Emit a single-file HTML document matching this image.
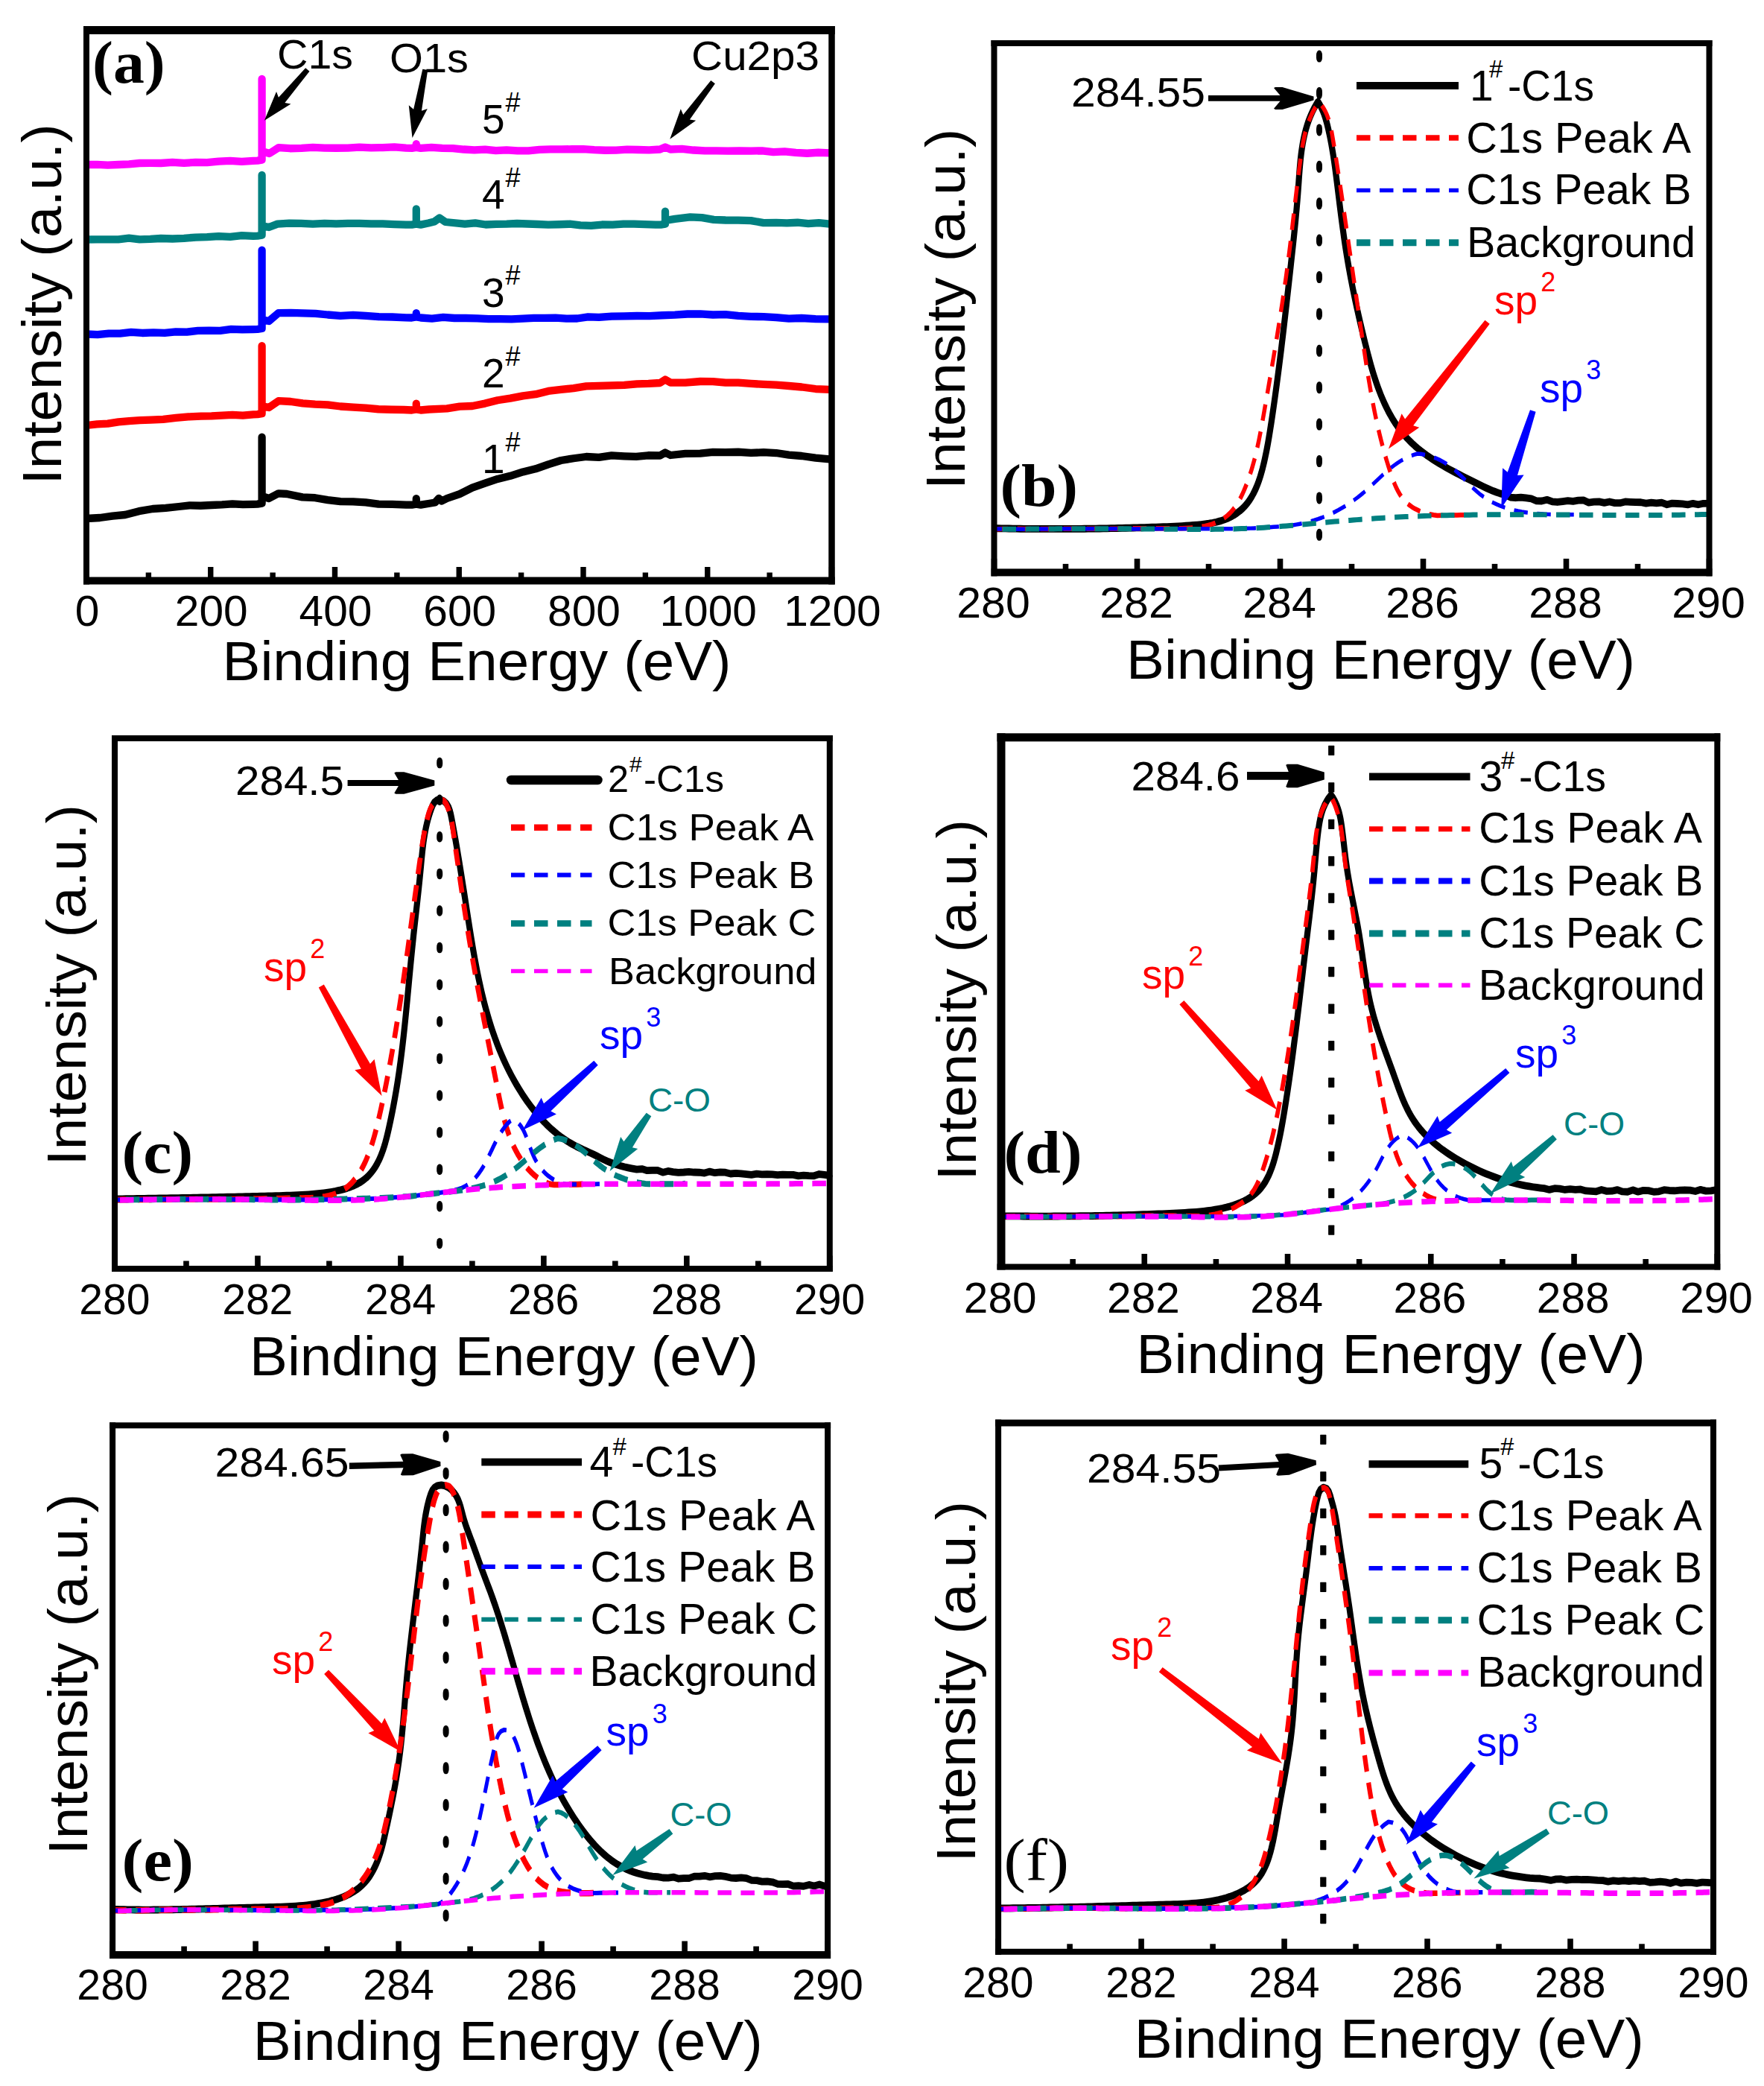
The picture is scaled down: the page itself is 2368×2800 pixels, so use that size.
<!DOCTYPE html>
<html lang="en"><head><meta charset="utf-8"><title>XPS spectra</title>
<style>html,body{margin:0;padding:0;background:#fff}svg{display:block}</style></head>
<body>
<svg width="2368" height="2800" viewBox="0 0 2368 2800">
<rect width="2368" height="2800" fill="#fff"/>
<path d="M116 696L134 695L151 692.58L168 691L186.5 686.16L205 683L222.5 681.86L240 680L254.67 678.31L269.33 678.75L284 678L298 677.38L312 676.34L326 677.12L340 676.8L345.6 676.6L351.6 675.6L351.6 586.7L351.6 666L361 669L373.8 662.3L385 663L406 667.4L423 668.22L440 671.11L457 673.2L474 673.3L491 674.48L508 676.6L526.5 676.92L545 677.6L552.8 677.6L558.8 676.6L558.8 669.2L558.8 676.6L564.8 677.6L575 676L584 674.5L589 669L593 672.5L600 669L617 663.02L634 654.56L651 648.7L668 642.94L685 638.81L702 633.4L719 629.34L736 623.32L753 618L770 615.25L787 613L804 613.91L821 611.45L838 612.3L854 612.89L870 611.26L886 611.5L893 607.5L900 611L920 608.95L940 608.6L957 606.98L974 607.2L991 606.74L1008 607.96L1025 607.2L1042 608.03L1059 610.6L1076 612L1094.8 614.53L1113.6 616.4" fill="none" stroke="#000000" stroke-width="10.3" stroke-linecap="butt" stroke-linejoin="round"/>
<path d="M116 571L130.33 569.48L144.67 568.68L159 566.3L173.33 565.08L187.67 564.21L202 563.7L219 562.86L236 560.98L253 559.43L270 558.6L284 558.37L298 557.61L312 556.8L326 557.55L340 556.4L345.6 556.2L351.6 555.2L351.6 464.2L351.6 545L361 547L373.8 538.2L390 539L406.5 541.28L423 542.6L440 543.35L457 545.51L474 546.7L491 547.59L508 549.25L525 549.73L542 550L552.8 550.5L558.8 549.5L558.8 541.7L558.8 549.5L564.8 550.5L576 549.5L600 548.4L617 545.62L634 545.02L651 541.6L668 537.28L685 534.6L702 531.4L719 529.18L736 524.9L753 522.9L770 521.17L787 518.39L804 517.8L821 517.4L838 516.83L855 515.4L870.5 514.88L886 514L893 509.5L900 513.5L920 513.65L940 512L957 512.12L974 513.6L991 513.7L1008 514.93L1025 515.89L1042 516.7L1059 517.99L1076 519.5L1094.8 522.02L1113.6 522.9" fill="none" stroke="#ff0000" stroke-width="10.3" stroke-linecap="butt" stroke-linejoin="round"/>
<path d="M116 448.5L131 449.17L146 447.64L161 447.69L176 445.85L191 446.98L206 446.45L221 446.88L236 445.3L250.86 445.62L265.71 443.87L280.57 443.65L295.43 443.88L310.29 441.87L325.14 442.47L340 442.1L345.6 441.9L351.6 440.9L351.6 335.7L351.6 429L361 431L373.8 420.1L390.35 419.9L406.9 420.38L423.45 420.84L440 422.5L457 423.82L474 422.96L491 423.92L508 425.2L526.5 425.49L545 426.3L552.8 426.5L558.8 425.5L558.8 420.2L558.8 425.5L564.8 426.5L579.87 427.56L594.93 425.83L610 427L625.33 426.98L640.67 427.32L656 428.22L671.33 428.17L686.67 428.37L702 427.6L716.57 426.83L731.14 426.91L745.71 426.53L760.29 427.55L774.86 427.48L789.43 425.31L804 425.9L821 424.7L838 424.41L855 423.99L872 424.2L889 423.26L906 422.61L923 421.5L940 421.43L957 422.5L974 422.11L991 423.91L1008 424.9L1025 425.11L1042 426.11L1059 427.56L1076 427L1094.8 428.11L1113.6 428.3" fill="none" stroke="#0000ff" stroke-width="10.3" stroke-linecap="butt" stroke-linejoin="round"/>
<path d="M116 321.5L130.29 321.32L144.57 321.35L158.86 321.28L173.14 319.57L187.43 321.39L201.71 320.89L216 320L231.5 320.5L247 319.91L262.5 318.54L278 318.16L293.5 317.05L309 317.92L324.5 316.15L340 316.8L345.6 316.6L351.6 315.6L351.6 235L351.6 303L361 305L372.5 300.6L388.33 299.56L404.17 299.9L420 300.6L435.62 299.91L451.25 300.47L466.88 299.9L482.5 299.9L498.12 300.39L513.75 300.39L529.38 301.15L545 301.6L552.8 301.6L558.8 300.6L558.8 280.4L558.8 300.6L564.8 301.6L575 299.5L583 297.5L590 292.5L598 298L624 300.6L638 299.46L652 301.5L666 300.87L680 300.6L694 300.01L708 300.51L722 300.98L736 301.6L750.4 301.27L764.8 300.69L779.2 302.44L793.6 302.78L808 301.52L822.4 301.56L836.8 300.61L851.2 300.65L865.6 301.22L880 301.6L887 301.6L893 300.6L893 283.7L893 296L906 293.8L926.5 291.4L942.33 292.2L958.17 294.92L974 295.5L991 295.54L1008 296.06L1025 299.13L1042 298.9L1056.32 299.31L1070.64 298.73L1084.96 300.02L1099.28 299.12L1113.6 300.6" fill="none" stroke="#008080" stroke-width="10.3" stroke-linecap="butt" stroke-linejoin="round"/>
<path d="M116 221L130.29 220.78L144.57 221.58L158.86 221.01L173.14 220.33L187.43 219L201.71 218.97L216 219L231.5 217.8L247 218.85L262.5 217.88L278 218.07L293.5 216.59L309 215.94L324.5 216.95L340 215.8L345.6 215.6L351.6 214.6L351.6 105.8L351.6 203L361.7 206L374 198.2L389.33 199.23L404.67 198.78L420 197.8L435.62 198.63L451.25 198.76L466.88 198.68L482.5 197.54L498.12 198.34L513.75 198.05L529.38 197.37L545 198.6L552.8 198.8L558.8 197.8L558.8 193.2L558.8 197.8L564.8 198.8L579.2 197.98L593.6 198.9L608 199.16L622.4 200.51L636.8 201.46L651.2 200.55L665.6 202.04L680 201.3L694.71 202.41L709.43 202.28L724.14 200.8L738.86 200.4L753.57 200.36L768.29 200.23L783 200.19L797.71 201.14L812.43 201.75L827.14 201.55L841.86 200.62L856.57 200.98L871.29 201.28L886 200.5L893 197.5L900 200.5L915.43 199.82L930.86 201.51L946.29 202.43L961.71 202.43L977.14 202.67L992.57 202.33L1008 202.7L1023.09 202.31L1038.17 204.17L1053.26 203.46L1068.34 204.96L1083.43 205.76L1098.51 204.76L1113.6 205.4" fill="none" stroke="#ff00ff" stroke-width="10.3" stroke-linecap="butt" stroke-linejoin="round"/>
<rect x="112" y="35" width="8" height="749.5" fill="#000"/>
<rect x="1112.25" y="35" width="8.5" height="749.5" fill="#000"/>
<rect x="112" y="35" width="1008.75" height="11" fill="#000"/>
<rect x="112" y="774.5" width="1008.75" height="10" fill="#000"/>
<rect x="112.3" y="761" width="7.4" height="14.5" fill="#000"/>
<rect x="195.68" y="768.5" width="7.4" height="7" fill="#000"/>
<rect x="279.05" y="761" width="7.4" height="14.5" fill="#000"/>
<rect x="362.43" y="768.5" width="7.4" height="7" fill="#000"/>
<rect x="445.8" y="761" width="7.4" height="14.5" fill="#000"/>
<rect x="529.17" y="768.5" width="7.4" height="7" fill="#000"/>
<rect x="612.55" y="761" width="7.4" height="14.5" fill="#000"/>
<rect x="695.92" y="768.5" width="7.4" height="7" fill="#000"/>
<rect x="779.3" y="761" width="7.4" height="14.5" fill="#000"/>
<rect x="862.67" y="768.5" width="7.4" height="7" fill="#000"/>
<rect x="946.05" y="761" width="7.4" height="14.5" fill="#000"/>
<rect x="1029.42" y="768.5" width="7.4" height="7" fill="#000"/>
<rect x="1112.8" y="761" width="7.4" height="14.5" fill="#000"/>
<text x="117" y="839.7" font-family="'Liberation Sans', Arial, Helvetica, sans-serif" font-size="57" font-weight="normal" fill="#000" text-anchor="middle" textLength="32.64" lengthAdjust="spacingAndGlyphs">0</text>
<text x="283.75" y="839.7" font-family="'Liberation Sans', Arial, Helvetica, sans-serif" font-size="57" font-weight="normal" fill="#000" text-anchor="middle" textLength="97.93" lengthAdjust="spacingAndGlyphs">200</text>
<text x="450.5" y="839.7" font-family="'Liberation Sans', Arial, Helvetica, sans-serif" font-size="57" font-weight="normal" fill="#000" text-anchor="middle" textLength="97.93" lengthAdjust="spacingAndGlyphs">400</text>
<text x="617.25" y="839.7" font-family="'Liberation Sans', Arial, Helvetica, sans-serif" font-size="57" font-weight="normal" fill="#000" text-anchor="middle" textLength="97.93" lengthAdjust="spacingAndGlyphs">600</text>
<text x="784" y="839.7" font-family="'Liberation Sans', Arial, Helvetica, sans-serif" font-size="57" font-weight="normal" fill="#000" text-anchor="middle" textLength="97.93" lengthAdjust="spacingAndGlyphs">800</text>
<text x="950.75" y="839.7" font-family="'Liberation Sans', Arial, Helvetica, sans-serif" font-size="57" font-weight="normal" fill="#000" text-anchor="middle" textLength="130.57" lengthAdjust="spacingAndGlyphs">1000</text>
<text x="1117.5" y="839.7" font-family="'Liberation Sans', Arial, Helvetica, sans-serif" font-size="57" font-weight="normal" fill="#000" text-anchor="middle" textLength="130.57" lengthAdjust="spacingAndGlyphs">1200</text>
<text x="298.5" y="913.2" font-family="'Liberation Sans', Arial, Helvetica, sans-serif" font-size="75" font-weight="normal" fill="#000" text-anchor="start" textLength="683" lengthAdjust="spacingAndGlyphs">Binding Energy (eV)</text>
<text x="82.2" y="650.6" font-family="'Liberation Sans', Arial, Helvetica, sans-serif" font-size="75" font-weight="normal" fill="#000" text-anchor="start" textLength="484.4" lengthAdjust="spacingAndGlyphs" transform="rotate(-90 82.2 650.6)">Intensity (a.u.)</text>
<text x="124" y="110.5" font-family="'Liberation Serif', 'Times New Roman', Times, serif" font-size="80" font-weight="bold" fill="#000" text-anchor="start" textLength="97.7" lengthAdjust="spacingAndGlyphs">(a)</text>
<text x="372" y="92" font-family="'Liberation Sans', Arial, Helvetica, sans-serif" font-size="55" font-weight="normal" fill="#000" text-anchor="start" textLength="102" lengthAdjust="spacingAndGlyphs">C1s</text>
<text x="523" y="96.5" font-family="'Liberation Sans', Arial, Helvetica, sans-serif" font-size="55" font-weight="normal" fill="#000" text-anchor="start" textLength="106" lengthAdjust="spacingAndGlyphs">O1s</text>
<text x="928" y="94" font-family="'Liberation Sans', Arial, Helvetica, sans-serif" font-size="55" font-weight="normal" fill="#000" text-anchor="start" textLength="172" lengthAdjust="spacingAndGlyphs">Cu2p3</text>
<polygon points="410.13,91.14 373.96,130.77 371.01,123.03 354.9,161.8 390.48,139.51 382.36,137.88 415.47,95.66" fill="#000000"/>
<polygon points="567.36,92.75 555.12,146.74 548.77,141.26 553.5,184.9 573.83,146 565.93,148.78 574.24,94.05" fill="#000000"/>
<polygon points="954.31,107.99 917.14,153.93 913.82,146.29 899.3,186.7 934.17,161.65 925.92,160.56 959.89,112.21" fill="#000000"/>
<text x="647" y="179.2" font-family="'Liberation Sans', Arial, Helvetica, sans-serif" font-size="55" font-weight="normal" fill="#000" text-anchor="start">5</text>
<text x="678.5" y="149.7" font-family="'Liberation Sans', Arial, Helvetica, sans-serif" font-size="36" font-weight="normal" fill="#000" text-anchor="start">#</text>
<text x="647" y="280.2" font-family="'Liberation Sans', Arial, Helvetica, sans-serif" font-size="55" font-weight="normal" fill="#000" text-anchor="start">4</text>
<text x="678.5" y="250.7" font-family="'Liberation Sans', Arial, Helvetica, sans-serif" font-size="36" font-weight="normal" fill="#000" text-anchor="start">#</text>
<text x="647" y="411.8" font-family="'Liberation Sans', Arial, Helvetica, sans-serif" font-size="55" font-weight="normal" fill="#000" text-anchor="start">3</text>
<text x="678.5" y="382.3" font-family="'Liberation Sans', Arial, Helvetica, sans-serif" font-size="36" font-weight="normal" fill="#000" text-anchor="start">#</text>
<text x="647" y="520" font-family="'Liberation Sans', Arial, Helvetica, sans-serif" font-size="55" font-weight="normal" fill="#000" text-anchor="start">2</text>
<text x="678.5" y="490.5" font-family="'Liberation Sans', Arial, Helvetica, sans-serif" font-size="36" font-weight="normal" fill="#000" text-anchor="start">#</text>
<text x="647" y="635" font-family="'Liberation Sans', Arial, Helvetica, sans-serif" font-size="55" font-weight="normal" fill="#000" text-anchor="start">1</text>
<text x="678.5" y="605.5" font-family="'Liberation Sans', Arial, Helvetica, sans-serif" font-size="36" font-weight="normal" fill="#000" text-anchor="start">#</text>
<g transform="scale(1,1.2)">
<path d="M1334.39 590.97L1339.47 591.06L1344.55 591.13L1349.63 591.21L1354.71 591.27L1359.78 591.34L1364.86 591.39L1369.93 591.44L1374.99 591.49L1380.06 591.52L1385.12 591.56L1390.19 591.59L1395.25 591.61L1400.3 591.62L1405.36 591.64L1410.41 591.64L1415.47 591.64L1420.52 591.64L1425.57 591.63L1430.61 591.61L1435.66 591.59L1440.71 591.56L1445.75 591.53L1450.79 591.49L1455.83 591.45L1460.87 591.4L1465.91 591.35L1470.95 591.29L1475.99 591.23L1481.02 591.16L1486.06 591.09L1491.09 591.01L1496.13 590.92L1501.16 590.84L1506.19 590.74L1511.23 590.64L1516.26 590.54L1521.29 590.43L1526.32 590.31L1531.35 590.19L1536.38 590.07L1541.41 589.94L1546.44 589.81L1551.47 589.67L1556.5 589.52L1561.53 589.37L1566.57 589.21L1571.62 589.03L1576.68 588.83L1581.75 588.62L1586.84 588.38L1591.94 588.11L1597.07 587.81L1602.22 587.48L1607.39 587.12L1612.57 586.69L1617.74 586.18L1622.87 585.56L1627.94 584.82L1632.94 583.92L1637.84 582.84L1642.62 581.57L1647.27 580.07L1651.76 578.33L1656.08 576.34L1660.2 574.1L1664.11 571.62L1667.78 568.92L1671.2 565.99L1674.36 562.86L1677.28 559.54L1679.96 556.04L1682.42 552.4L1684.68 548.61L1686.75 544.72L1688.65 540.72L1690.39 536.64L1691.99 532.5L1693.46 528.32L1694.83 524.11L1696.09 519.9L1697.27 515.69L1698.39 511.51L1699.44 507.35L1700.43 503.2L1701.37 499.07L1702.26 494.94L1703.12 490.83L1703.94 486.71L1704.74 482.6L1705.52 478.49L1706.28 474.38L1707.03 470.26L1707.77 466.14L1708.5 462.01L1709.23 457.87L1709.94 453.73L1710.65 449.59L1711.35 445.44L1712.04 441.29L1712.72 437.13L1713.4 432.97L1714.07 428.8L1714.73 424.63L1715.39 420.46L1716.04 416.29L1716.68 412.11L1717.32 407.93L1717.95 403.74L1718.58 399.56L1719.2 395.37L1719.82 391.18L1720.43 386.99L1721.03 382.8L1721.63 378.6L1722.23 374.41L1722.82 370.21L1723.41 366.02L1724 361.82L1724.58 357.62L1725.16 353.43L1725.73 349.23L1726.31 345.03L1726.88 340.84L1727.44 336.64L1728.01 332.45L1728.57 328.25L1729.14 324.06L1729.7 319.87L1730.26 315.68L1730.81 311.5L1731.37 307.31L1731.93 303.13L1732.48 298.95L1733.04 294.77L1733.59 290.6L1734.14 286.43L1734.69 282.25L1735.24 278.08L1735.78 273.91L1736.31 269.74L1736.84 265.56L1737.36 261.39L1737.87 257.21L1738.38 253.03L1738.87 248.85L1739.36 244.66L1739.83 240.47L1740.29 236.28L1740.74 232.08L1741.18 227.88L1741.6 223.67L1742.01 219.45L1742.4 215.23L1742.77 210.99L1743.13 206.76L1743.49 202.51L1743.84 198.27L1744.21 194.03L1744.6 189.79L1745.03 185.55L1745.5 181.33L1746.01 177.12L1746.59 172.92L1747.24 168.75L1747.98 164.59L1748.8 160.46L1749.72 156.35L1750.75 152.28L1751.9 148.23L1753.18 144.22L1754.59 140.25L1756.16 136.32L1757.88 132.43L1759.77 128.59L1761.84 124.8L1764.09 121.06L1766.54 117.38L1769.2 113.75L1771.83 117.3L1774.12 120.98L1776.13 124.75L1777.89 128.62L1779.43 132.56L1780.81 136.56L1782.05 140.6L1783.2 144.66L1784.28 148.74L1785.31 152.84L1786.28 156.95L1787.21 161.06L1788.09 165.19L1788.92 169.33L1789.72 173.47L1790.48 177.63L1791.22 181.79L1791.92 185.96L1792.6 190.14L1793.26 194.32L1793.91 198.5L1794.54 202.69L1795.17 206.88L1795.79 211.07L1796.4 215.27L1797.02 219.46L1797.64 223.66L1798.26 227.85L1798.89 232.05L1799.52 236.24L1800.16 240.43L1800.81 244.61L1801.46 248.8L1802.13 252.97L1802.81 257.15L1803.5 261.31L1804.21 265.48L1804.93 269.63L1805.67 273.78L1806.43 277.91L1807.21 282.04L1808 286.16L1808.82 290.28L1809.66 294.38L1810.52 298.48L1811.4 302.57L1812.3 306.65L1813.22 310.73L1814.15 314.81L1815.11 318.88L1816.08 322.95L1817.07 327.02L1818.08 331.08L1819.11 335.15L1820.15 339.22L1821.22 343.28L1822.29 347.35L1823.39 351.42L1824.5 355.5L1825.62 359.58L1826.76 363.66L1827.92 367.75L1829.09 371.85L1830.28 375.95L1831.48 380.07L1832.69 384.19L1833.92 388.31L1835.17 392.44L1836.45 396.57L1837.75 400.7L1839.09 404.82L1840.47 408.94L1841.88 413.04L1843.34 417.12L1844.86 421.18L1846.42 425.22L1848.05 429.23L1849.73 433.22L1851.49 437.17L1853.31 441.08L1855.22 444.95L1857.2 448.78L1859.26 452.56L1861.41 456.29L1863.66 459.97L1866 463.59L1868.44 467.15L1870.99 470.65L1873.65 474.08L1876.42 477.43L1879.3 480.72L1882.31 483.93L1885.45 487.05L1888.72 490.09L1892.12 493.05L1895.65 495.92L1899.3 498.7L1903.07 501.41L1906.95 504.04L1910.93 506.59L1915 509.08L1919.16 511.5L1923.39 513.86L1927.69 516.16L1932.06 518.41L1936.48 520.6L1940.94 522.75L1945.45 524.85L1949.98 526.91L1954.54 528.93L1959.11 530.91L1963.69 532.87L1968.27 534.8L1972.85 536.7L1977.4 538.58L1981.94 540.45L1986.45 542.3L1990.93 544.12L1995.41 545.89L1999.91 547.58L2004.44 549.17L2009.02 550.65L2013.66 551.98L2020.66 553.42L2027.66 556.3L2034.66 556.86L2041.66 556.35L2048.66 557.03L2055.66 557.74L2062.66 560.28L2069.66 560.43L2076.66 559L2083.66 561.06L2090.66 561.65L2097.66 560.92L2104.66 560.19L2111.66 560.79L2118.66 559.74L2125.66 559.5L2132.66 562.13L2139.66 561.38L2146.66 561.18L2153.66 562.42L2160.66 561.25L2167.66 562.59L2174.66 562.66L2181.66 561.21L2188.66 561.51L2195.66 561.81L2202.66 561.86L2209.66 562.96L2216.66 562.26L2223.66 562.83L2230.66 562.2L2237.66 564.38L2244.66 562.98L2251.66 563.32L2258.66 563.67L2265.66 564.51L2272.66 563.17L2279.66 564.41L2286.66 563.16L2293.66 563.05L2294.73 562.94" fill="none" stroke="#000000" stroke-width="8.17" stroke-linecap="butt" stroke-linejoin="round"/>
</g>
<g transform="scale(1,1.2)">
<path d="M1334.69 591.94L1339.56 591.85L1344.47 591.74L1349.41 591.66L1354.38 591.61L1359.38 591.57L1364.4 591.56L1369.43 591.56L1374.49 591.58L1379.56 591.61L1384.65 591.65L1389.75 591.7L1394.85 591.68L1399.96 591.65L1405.08 591.63L1410.19 591.6L1415.3 591.57L1420.41 591.55L1425.51 591.52L1430.6 591.5L1435.68 591.48L1440.75 591.47L1445.79 591.45L1450.82 591.44L1455.83 591.43L1460.82 591.43L1465.8 591.42L1470.76 591.42L1475.72 591.43L1480.67 591.44L1485.61 591.45L1490.55 591.46L1495.49 591.47L1500.43 591.47L1505.38 591.38L1510.33 591.29L1515.29 591.21L1520.26 591.13L1525.24 591.07L1530.24 591.02L1535.26 590.98L1540.29 590.95L1545.35 590.94L1550.43 590.95L1555.54 590.98L1560.68 591.03L1565.84 591.09L1571.01 591.13L1576.2 591.15L1581.38 591.13L1586.57 591.04L1591.74 590.89L1596.9 590.64L1602.04 590.29L1607.15 589.82L1612.21 589.2L1617.19 588.42L1622.06 587.46L1626.81 586.28L1631.4 584.88L1635.81 583.22L1640.01 581.29L1643.98 579.07L1647.72 576.58L1651.22 573.83L1654.49 570.84L1657.52 567.63L1660.33 564.22L1662.92 560.64L1665.33 556.92L1667.57 553.1L1669.67 549.2L1671.65 545.25L1673.53 541.29L1675.31 537.3L1677 533.29L1678.6 529.27L1680.13 525.24L1681.57 521.18L1682.94 517.12L1684.25 513.04L1685.49 508.95L1686.67 504.85L1687.8 500.74L1688.88 496.62L1689.92 492.5L1690.92 488.37L1691.89 484.23L1692.83 480.09L1693.75 475.94L1694.64 471.8L1695.53 467.65L1696.4 463.51L1697.27 459.36L1698.14 455.22L1699.01 451.08L1699.87 446.94L1700.73 442.8L1701.6 438.66L1702.46 434.53L1703.31 430.4L1704.17 426.26L1705.02 422.13L1705.87 418L1706.72 413.87L1707.56 409.74L1708.4 405.62L1709.24 401.49L1710.07 397.36L1710.9 393.23L1711.72 389.11L1712.54 384.98L1713.35 380.85L1714.16 376.73L1714.96 372.6L1715.76 368.47L1716.55 364.34L1717.33 360.22L1718.11 356.09L1718.89 351.96L1719.65 347.83L1720.41 343.69L1721.16 339.56L1721.91 335.43L1722.64 331.29L1723.37 327.15L1724.09 323.01L1724.81 318.87L1725.51 314.73L1726.21 310.59L1726.89 306.44L1727.57 302.29L1728.24 298.14L1728.9 293.99L1729.55 289.83L1730.19 285.67L1730.82 281.51L1731.44 277.35L1732.05 273.18L1732.65 269.01L1733.25 264.84L1733.84 260.67L1734.43 256.49L1735.01 252.32L1735.59 248.14L1736.17 243.96L1736.74 239.78L1737.32 235.6L1737.9 231.42L1738.48 227.23L1739.06 223.05L1739.65 218.87L1740.24 214.68L1740.84 210.5L1741.45 206.31L1742.06 202.13L1742.68 197.95L1743.31 193.76L1743.95 189.58L1744.6 185.4L1745.27 181.22L1745.95 177.04L1746.65 172.87L1747.39 168.7L1748.19 164.55L1749.05 160.42L1750.01 156.31L1751.06 152.23L1752.23 148.19L1753.52 144.19L1754.97 140.23L1756.58 136.32L1758.37 132.46L1760.34 128.66L1762.53 124.93L1764.94 121.27L1767.59 117.68L1770.5 114.17L1773.75 117.4L1776.56 120.82L1778.99 124.4L1781.07 128.12L1782.84 131.97L1784.35 135.92L1785.65 139.96L1786.77 144.07L1787.76 148.23L1788.65 152.42L1789.5 156.62L1790.33 160.82L1791.15 165.02L1791.97 169.21L1792.77 173.4L1793.57 177.59L1794.35 181.77L1795.13 185.95L1795.91 190.13L1796.67 194.3L1797.43 198.47L1798.19 202.64L1798.93 206.81L1799.68 210.98L1800.42 215.14L1801.15 219.31L1801.89 223.47L1802.62 227.63L1803.34 231.79L1804.07 235.95L1804.79 240.11L1805.51 244.27L1806.24 248.42L1806.96 252.58L1807.68 256.74L1808.4 260.9L1809.12 265.06L1809.84 269.21L1810.55 273.37L1811.27 277.53L1811.99 281.69L1812.71 285.84L1813.43 290L1814.14 294.16L1814.86 298.31L1815.58 302.47L1816.3 306.63L1817.02 310.79L1817.74 314.94L1818.46 319.1L1819.18 323.26L1819.9 327.42L1820.62 331.57L1821.35 335.73L1822.07 339.89L1822.8 344.05L1823.52 348.21L1824.25 352.37L1824.98 356.53L1825.71 360.69L1826.44 364.85L1827.18 369.01L1827.91 373.18L1828.65 377.34L1829.39 381.5L1830.13 385.66L1830.88 389.83L1831.63 393.99L1832.38 398.16L1833.14 402.32L1833.91 406.48L1834.69 410.64L1835.48 414.8L1836.28 418.96L1837.1 423.12L1837.93 427.28L1838.77 431.43L1839.63 435.58L1840.51 439.73L1841.41 443.87L1842.33 448.01L1843.28 452.15L1844.24 456.28L1845.23 460.41L1846.25 464.54L1847.29 468.66L1848.36 472.78L1849.46 476.89L1850.6 480.99L1851.76 485.09L1852.96 489.19L1854.19 493.27L1855.46 497.36L1856.76 501.43L1858.11 505.5L1859.49 509.56L1860.91 513.61L1862.38 517.66L1863.89 521.69L1865.44 525.72L1867.04 529.74L1868.7 533.75L1870.43 537.72L1872.29 541.63L1874.29 545.44L1876.49 549.13L1878.92 552.66L1881.61 556.01L1884.59 559.16L1887.92 562.06L1891.57 564.71L1895.54 567.11L1899.8 569.25L1904.31 571.13L1909.06 572.74L1914.02 574.1L1919.14 575.19L1924.39 576.04L1929.72 576.66L1935.08 576.54L1940.43 576.43L1945.71 576.33L1950.9 576.24L1955.93 576.16L1960.77 576.09L1965.37 575.97" fill="none" stroke="#ff0000" stroke-width="5.42" stroke-linecap="butt" stroke-linejoin="round" stroke-dasharray="18.5 12.5" stroke-dashoffset="0"/>
</g>
<g transform="scale(1,1.2)">
<path d="M1334.43 591.7L1339.51 591.73L1344.59 591.76L1349.66 591.79L1354.74 591.81L1359.81 591.83L1364.88 591.84L1369.96 591.81L1375.03 591.79L1380.1 591.76L1385.17 591.73L1390.24 591.71L1395.31 591.68L1400.38 591.65L1405.44 591.62L1410.51 591.6L1415.58 591.57L1420.64 591.55L1425.71 591.52L1430.77 591.5L1435.83 591.48L1440.9 591.47L1445.96 591.45L1451.02 591.44L1456.08 591.43L1461.14 591.43L1466.2 591.42L1471.26 591.42L1476.32 591.43L1481.38 591.44L1486.44 591.45L1491.5 591.46L1496.56 591.48L1501.62 591.5L1506.68 591.52L1511.73 591.54L1516.79 591.56L1521.85 591.59L1526.9 591.57L1531.96 591.56L1537.02 591.55L1542.07 591.53L1547.13 591.52L1552.19 591.51L1557.24 591.5L1562.3 591.49L1567.35 591.48L1572.41 591.48L1577.47 591.47L1582.52 591.47L1587.58 591.47L1592.63 591.47L1597.69 591.48L1602.75 591.48L1607.8 591.49L1612.86 591.5L1617.91 591.51L1622.97 591.53L1628.03 591.54L1633.09 591.55L1638.15 591.56L1643.21 591.56L1648.28 591.55L1653.35 591.53L1658.43 591.5L1663.51 591.43L1668.6 591.29L1673.7 591.12L1678.8 590.94L1683.92 590.74L1689.04 590.51L1694.17 590.26L1699.3 589.99L1704.43 589.7L1709.56 589.4L1714.68 589.08L1719.79 588.74L1724.88 588.4L1729.96 588.04L1735.01 587.48L1740.03 586.77L1745.02 585.98L1749.97 585.1L1754.88 584.13L1759.76 583.05L1764.58 581.87L1769.35 580.57L1774.07 579.16L1778.73 577.63L1783.33 575.99L1787.88 574.24L1792.37 572.39L1796.79 570.43L1801.16 568.37L1805.47 566.21L1809.72 563.96L1813.9 561.61L1818.02 559.17L1822.08 556.65L1826.07 554.04L1830 551.35L1833.86 548.58L1837.66 545.74L1841.42 542.85L1845.14 539.93L1848.86 537.01L1852.57 534.1L1856.3 531.21L1860.07 528.39L1863.88 525.63L1867.76 522.97L1871.71 520.42L1875.77 518.01L1879.94 515.75L1884.23 513.66L1888.67 511.78L1893.26 510.1L1898.03 508.67L1903 507.5L1908.23 507.99L1913.3 508.75L1918.23 509.76L1923.01 511.02L1927.65 512.51L1932.17 514.24L1936.57 516.17L1940.85 518.32L1945.02 520.66L1949.09 523.2L1953.07 525.91L1956.95 528.79L1960.77 531.81L1964.53 534.94L1968.27 538.12L1972 541.32L1975.77 544.47L1979.58 547.54L1983.47 550.48L1987.46 553.24L1991.57 555.79L1995.8 558.15L2000.12 560.31L2004.55 562.29L2009.07 564.08L2013.68 565.72L2018.38 567.19L2023.14 568.5L2027.98 569.68L2032.88 570.72L2037.84 571.63L2042.85 572.42L2047.91 573.1L2053 573.68L2058.13 574.16L2063.29 574.56L2068.46 574.87L2073.66 575.12L2078.86 575.31L2084.06 575.44L2089.26 575.52L2094.45 575.57L2099.62 575.59L2104.78 575.58L2109.9 575.56L2114.99 575.54L2120.05 575.52L2125.05 575.52L2130.01 575.53" fill="none" stroke="#0000ff" stroke-width="4.58" stroke-linecap="butt" stroke-linejoin="round" stroke-dasharray="18.5 12.5" stroke-dashoffset="8"/>
</g>
<g transform="scale(1,1.2)">
<path d="M1334.51 591.94L1339.54 591.93L1344.57 591.91L1349.59 591.9L1354.62 591.88L1359.65 591.86L1364.68 591.84L1369.71 591.81L1374.74 591.79L1379.76 591.76L1384.79 591.73L1389.82 591.71L1394.85 591.68L1399.87 591.65L1404.9 591.63L1409.93 591.6L1414.96 591.57L1419.99 591.55L1425.01 591.53L1430.04 591.51L1435.07 591.49L1440.1 591.47L1445.13 591.45L1450.16 591.44L1455.19 591.43L1460.22 591.43L1465.25 591.42L1470.28 591.42L1475.31 591.43L1480.34 591.43L1485.37 591.45L1490.4 591.46L1495.44 591.47L1500.47 591.49L1505.5 591.51L1510.53 591.53L1515.57 591.56L1520.6 591.58L1525.63 591.61L1530.66 591.64L1535.7 591.66L1540.73 591.69L1545.77 591.72L1550.8 591.75L1555.83 591.79L1560.87 591.82L1565.9 591.85L1570.93 591.88L1575.97 591.91L1581 591.93L1586.04 591.96L1591.07 591.98L1596.1 592L1601.14 592.02L1606.17 592.03L1611.2 592.03L1616.23 592.03L1621.26 592.01L1626.29 591.99L1631.32 591.96L1636.35 591.91L1641.38 591.85L1646.41 591.78L1651.43 591.7L1656.46 591.6L1661.48 591.48L1666.5 591.35L1671.52 591.2L1676.54 591.03L1681.56 590.84L1686.58 590.62L1691.59 590.39L1696.61 590.14L1701.62 589.87L1706.63 589.58L1711.64 589.27L1716.65 588.95L1721.66 588.62L1726.67 588.28L1731.67 587.92L1736.68 587.56L1741.69 587.19L1746.69 586.81L1751.7 586.44L1756.7 586.05L1761.71 585.67L1766.72 585.29L1771.72 584.91L1776.73 584.53L1781.74 584.15L1786.75 583.78L1791.75 583.42L1796.76 583.06L1801.77 582.7L1806.78 582.35L1811.8 582.01L1816.81 581.68L1821.82 581.35L1826.83 581.03L1831.85 580.72L1836.86 580.41L1841.88 580.12L1846.89 579.84L1851.91 579.57L1856.93 579.31L1861.95 579.06L1866.97 578.82L1871.99 578.59L1877.01 578.37L1882.03 578.16L1887.05 577.97L1892.07 577.78L1897.09 577.6L1902.12 577.43L1907.14 577.27L1912.17 577.12L1917.19 576.98L1922.22 576.85L1927.25 576.72L1932.27 576.6L1937.3 576.5L1942.33 576.39L1947.36 576.3L1952.39 576.21L1957.41 576.13L1962.44 576.06L1967.47 576L1972.51 575.94L1977.54 575.88L1982.57 575.83L1987.6 575.79L1992.63 575.75L1997.66 575.72L2002.7 575.7L2007.73 575.68L2012.76 575.66L2017.79 575.65L2022.83 575.64L2027.86 575.63L2032.89 575.63L2037.93 575.63L2042.96 575.64L2048 575.65L2053.03 575.66L2058.07 575.68L2063.1 575.69L2068.13 575.71L2073.17 575.73L2078.2 575.76L2083.24 575.78L2088.27 575.81L2093.31 575.83L2098.34 575.86L2103.38 575.89L2108.41 575.92L2113.44 575.95L2118.48 575.98L2123.51 576L2128.55 576.03L2133.58 576.06L2138.61 576.09L2143.65 576.11L2148.68 576.14L2153.71 576.16L2158.74 576.18L2163.78 576.2L2168.81 576.22L2173.84 576.23L2178.87 576.24L2183.9 576.25L2188.93 576.26L2193.96 576.26L2198.99 576.26L2204.02 576.26L2209.05 576.25L2214.08 576.23L2219.11 576.22L2224.13 576.2L2229.16 576.17L2234.19 576.14L2239.21 576.1L2244.24 576.06L2249.26 576.01L2254.29 575.96L2259.31 575.9L2264.34 575.83L2269.36 575.76L2274.38 575.68L2279.4 575.59L2284.42 575.5L2289.44 575.4L2294.46 575.29" fill="none" stroke="#008080" stroke-width="5.83" stroke-linecap="butt" stroke-linejoin="round" stroke-dasharray="18.5 12.5" stroke-dashoffset="20"/>
</g>
<rect x="1767" y="67.6" width="8" height="16" rx="3.6" ry="6.4" fill="#000"/>
<rect x="1767" y="117" width="8" height="16" rx="3.6" ry="6.4" fill="#000"/>
<rect x="1767" y="166.4" width="8" height="16" rx="3.6" ry="6.4" fill="#000"/>
<rect x="1767" y="215.8" width="8" height="16" rx="3.6" ry="6.4" fill="#000"/>
<rect x="1767" y="265.2" width="8" height="16" rx="3.6" ry="6.4" fill="#000"/>
<rect x="1767" y="314.6" width="8" height="16" rx="3.6" ry="6.4" fill="#000"/>
<rect x="1767" y="364" width="8" height="16" rx="3.6" ry="6.4" fill="#000"/>
<rect x="1767" y="413.4" width="8" height="16" rx="3.6" ry="6.4" fill="#000"/>
<rect x="1767" y="462.8" width="8" height="16" rx="3.6" ry="6.4" fill="#000"/>
<rect x="1767" y="512.2" width="8" height="16" rx="3.6" ry="6.4" fill="#000"/>
<rect x="1767" y="561.6" width="8" height="16" rx="3.6" ry="6.4" fill="#000"/>
<rect x="1767" y="611" width="8" height="16" rx="3.6" ry="6.4" fill="#000"/>
<rect x="1767" y="660.4" width="8" height="16" rx="3.6" ry="6.4" fill="#000"/>
<rect x="1767" y="709.8" width="8" height="16" rx="3.6" ry="6.4" fill="#000"/>
<rect x="1330.5" y="54" width="8" height="719.4" fill="#000"/>
<rect x="2290.5" y="54" width="8" height="719.4" fill="#000"/>
<rect x="1330.5" y="54" width="968" height="8" fill="#000"/>
<rect x="1330.5" y="763.4" width="968" height="10" fill="#000"/>
<rect x="1330.7" y="749.9" width="7.6" height="14.5" fill="#000"/>
<rect x="1426.7" y="756.9" width="7.6" height="7.5" fill="#000"/>
<rect x="1522.7" y="749.9" width="7.6" height="14.5" fill="#000"/>
<rect x="1618.7" y="756.9" width="7.6" height="7.5" fill="#000"/>
<rect x="1714.7" y="749.9" width="7.6" height="14.5" fill="#000"/>
<rect x="1810.7" y="756.9" width="7.6" height="7.5" fill="#000"/>
<rect x="1906.7" y="749.9" width="7.6" height="14.5" fill="#000"/>
<rect x="2002.7" y="756.9" width="7.6" height="7.5" fill="#000"/>
<rect x="2098.7" y="749.9" width="7.6" height="14.5" fill="#000"/>
<rect x="2194.7" y="756.9" width="7.6" height="7.5" fill="#000"/>
<rect x="2290.7" y="749.9" width="7.6" height="14.5" fill="#000"/>
<text x="1333.5" y="828.8" font-family="'Liberation Sans', Arial, Helvetica, sans-serif" font-size="56.5" font-weight="normal" fill="#000" text-anchor="middle" textLength="98.5" lengthAdjust="spacingAndGlyphs">280</text>
<text x="1525.5" y="828.8" font-family="'Liberation Sans', Arial, Helvetica, sans-serif" font-size="56.5" font-weight="normal" fill="#000" text-anchor="middle" textLength="98.5" lengthAdjust="spacingAndGlyphs">282</text>
<text x="1717.5" y="828.8" font-family="'Liberation Sans', Arial, Helvetica, sans-serif" font-size="56.5" font-weight="normal" fill="#000" text-anchor="middle" textLength="98.5" lengthAdjust="spacingAndGlyphs">284</text>
<text x="1909.5" y="828.8" font-family="'Liberation Sans', Arial, Helvetica, sans-serif" font-size="56.5" font-weight="normal" fill="#000" text-anchor="middle" textLength="98.5" lengthAdjust="spacingAndGlyphs">286</text>
<text x="2101.5" y="828.8" font-family="'Liberation Sans', Arial, Helvetica, sans-serif" font-size="56.5" font-weight="normal" fill="#000" text-anchor="middle" textLength="98.5" lengthAdjust="spacingAndGlyphs">288</text>
<text x="2293.5" y="828.8" font-family="'Liberation Sans', Arial, Helvetica, sans-serif" font-size="56.5" font-weight="normal" fill="#000" text-anchor="middle" textLength="98.5" lengthAdjust="spacingAndGlyphs">290</text>
<text x="1512" y="910.5" font-family="'Liberation Sans', Arial, Helvetica, sans-serif" font-size="75" font-weight="normal" fill="#000" text-anchor="start" textLength="683" lengthAdjust="spacingAndGlyphs">Binding Energy (eV)</text>
<text x="1294.7" y="657.1" font-family="'Liberation Sans', Arial, Helvetica, sans-serif" font-size="75" font-weight="normal" fill="#000" text-anchor="start" textLength="484.4" lengthAdjust="spacingAndGlyphs" transform="rotate(-90 1294.7 657.1)">Intensity (a.u.)</text>
<text x="1342.5" y="679" font-family="'Liberation Serif', 'Times New Roman', Times, serif" font-size="80" font-weight="bold" fill="#000" text-anchor="start" textLength="104.5" lengthAdjust="spacingAndGlyphs">(b)</text>
<text x="1438" y="142.5" font-family="'Liberation Sans', Arial, Helvetica, sans-serif" font-size="56" font-weight="normal" fill="#000" text-anchor="start" textLength="180" lengthAdjust="spacingAndGlyphs">284.55</text>
<polygon points="1622,128 1718.5,128 1710,118.1 1712,116.9 1721.5,116.9 1763.5,129.4 1763.5,134.4 1721.5,146.9 1712,146.9 1710,145.7 1718.5,135.8 1622,135.8" fill="#000"/>
<line x1="1821" y1="115" x2="1958" y2="115" stroke="#000" stroke-width="10" stroke-linecap="butt"/>
<line x1="1821" y1="185" x2="1958" y2="185" stroke="#ff0000" stroke-width="7.5" stroke-dasharray="18.5 12.5"/>
<line x1="1821" y1="255.6" x2="1958" y2="255.6" stroke="#0000ff" stroke-width="5.5" stroke-dasharray="18.5 12.5"/>
<line x1="1821" y1="325.8" x2="1958" y2="325.8" stroke="#008080" stroke-width="9" stroke-dasharray="18.5 12.5"/>
<text x="1973" y="135.3" font-family="'Liberation Sans', Arial, Helvetica, sans-serif" font-size="57" font-weight="normal" fill="#000" text-anchor="start">1</text>
<text x="1999" y="103.5" font-family="'Liberation Sans', Arial, Helvetica, sans-serif" font-size="33" font-weight="normal" fill="#000" text-anchor="start">#</text>
<text x="2024" y="135.3" font-family="'Liberation Sans', Arial, Helvetica, sans-serif" font-size="57" font-weight="normal" fill="#000" text-anchor="start" textLength="116" lengthAdjust="spacingAndGlyphs">-C1s</text>
<text x="1968.3" y="205.2" font-family="'Liberation Sans', Arial, Helvetica, sans-serif" font-size="57" font-weight="normal" fill="#000" text-anchor="start" textLength="301.8" lengthAdjust="spacingAndGlyphs">C1s Peak A</text>
<text x="1968.3" y="274.4" font-family="'Liberation Sans', Arial, Helvetica, sans-serif" font-size="57" font-weight="normal" fill="#000" text-anchor="start" textLength="302.2" lengthAdjust="spacingAndGlyphs">C1s Peak B</text>
<text x="1968.9" y="344.6" font-family="'Liberation Sans', Arial, Helvetica, sans-serif" font-size="57" font-weight="normal" fill="#000" text-anchor="start" textLength="307" lengthAdjust="spacingAndGlyphs">Background</text>
<text x="2006" y="422" font-family="'Liberation Sans', Arial, Helvetica, sans-serif" font-size="55" font-weight="normal" fill="#ff0000" text-anchor="start">sp</text>
<text x="2068.3" y="391.2" font-family="'Liberation Sans', Arial, Helvetica, sans-serif" font-size="36" font-weight="normal" fill="#ff0000" text-anchor="start">2</text>
<polygon points="1993.45,429.84 1886.13,562.52 1881.6,555.33 1863.9,602.4 1905.25,573.78 1897.17,571.13 1999.75,434.76" fill="#ff0000"/>
<text x="2067" y="539.5" font-family="'Liberation Sans', Arial, Helvetica, sans-serif" font-size="55" font-weight="normal" fill="#0000ff" text-anchor="start">sp</text>
<text x="2129.3" y="508.7" font-family="'Liberation Sans', Arial, Helvetica, sans-serif" font-size="36" font-weight="normal" fill="#0000ff" text-anchor="start">3</text>
<polygon points="2054,550.16 2023.74,633.65 2017.09,628.21 2015.3,682.3 2045.62,637.47 2037.05,637.97 2061.6,552.64" fill="#0000ff"/>
<g transform="scale(1,1.2)">
<path d="M154.26 1341.24L159.19 1341.17L164.13 1341.1L169.08 1341.03L174.05 1340.96L179.02 1340.9L184 1340.83L188.99 1340.76L193.99 1340.69L199 1340.62L204.01 1340.55L209.03 1340.48L214.06 1340.41L219.09 1340.34L224.12 1340.26L229.16 1340.19L234.21 1340.12L239.26 1340.04L244.31 1339.97L249.36 1339.89L254.42 1339.82L259.47 1339.74L264.53 1339.66L269.59 1339.58L274.64 1339.5L279.7 1339.41L284.76 1339.33L289.81 1339.25L294.86 1339.16L299.91 1339.07L304.96 1338.98L310 1338.89L315.04 1338.8L320.07 1338.71L325.1 1338.61L330.12 1338.51L335.14 1338.41L340.15 1338.31L345.15 1338.21L350.14 1338.1L355.13 1338L360.1 1337.89L365.07 1337.77L370.03 1337.66L374.98 1337.54L379.91 1337.43L384.84 1337.3L389.76 1337.17L394.69 1337.02L399.62 1336.85L404.57 1336.65L409.55 1336.41L414.55 1336.13L419.58 1335.8L424.66 1335.41L429.78 1334.96L434.96 1334.44L440.18 1333.84L445.41 1333.14L450.62 1332.33L455.78 1331.4L460.86 1330.32L465.83 1329.09L470.66 1327.69L475.32 1326.09L479.77 1324.3L483.98 1322.29L487.93 1320.04L491.6 1317.55L494.99 1314.83L498.11 1311.9L501 1308.78L503.65 1305.47L506.09 1301.99L508.32 1298.37L510.38 1294.62L512.27 1290.75L514 1286.78L515.6 1282.72L517.07 1278.6L518.44 1274.43L519.72 1270.22L520.93 1265.99L522.07 1261.76L523.18 1257.54L524.24 1253.34L525.28 1249.17L526.29 1245.02L527.27 1240.88L528.22 1236.76L529.14 1232.65L530.03 1228.55L530.9 1224.45L531.74 1220.36L532.56 1216.26L533.35 1212.16L534.12 1208.05L534.87 1203.94L535.59 1199.83L536.3 1195.71L536.98 1191.59L537.65 1187.46L538.29 1183.34L538.92 1179.2L539.53 1175.07L540.13 1170.93L540.71 1166.79L541.28 1162.64L541.84 1158.49L542.38 1154.34L542.91 1150.19L543.43 1146.03L543.95 1141.87L544.45 1137.71L544.95 1133.55L545.44 1129.38L545.92 1125.22L546.4 1121.05L546.88 1116.88L547.35 1112.71L547.82 1108.53L548.29 1104.36L548.76 1100.18L549.22 1096L549.69 1091.82L550.17 1087.65L550.64 1083.47L551.12 1079.28L551.61 1075.1L552.1 1070.92L552.59 1066.74L553.1 1062.56L553.61 1058.38L554.13 1054.19L554.66 1050.01L555.2 1045.83L555.74 1041.65L556.29 1037.47L556.85 1033.29L557.4 1029.11L557.96 1024.94L558.52 1020.76L559.08 1016.59L559.63 1012.42L560.19 1008.25L560.73 1004.08L561.28 999.91L561.81 995.75L562.34 991.59L562.86 987.43L563.37 983.28L563.87 979.13L564.36 974.98L564.83 970.84L565.29 966.7L565.75 962.56L566.23 958.43L566.73 954.3L567.27 950.18L567.85 946.06L568.49 941.94L569.21 937.82L570 933.71L570.89 929.61L571.88 925.51L572.98 921.41L574.21 917.31L575.59 913.22L577.11 909.13L578.79 905.05L580.66 900.98L583.13 897.34L586.83 894.86L591.39 894.4L595.82 896.08L599.33 898.89L601.9 902.4L603.73 906.4L605.07 910.67L606.12 915.02L607.08 919.26L608 923.39L608.9 927.46L609.77 931.51L610.64 935.57L611.49 939.63L612.34 943.7L613.18 947.77L614.01 951.86L614.83 955.94L615.65 960.03L616.46 964.13L617.26 968.24L618.06 972.35L618.85 976.46L619.64 980.58L620.42 984.71L621.2 988.84L621.98 992.97L622.76 997.11L623.53 1001.25L624.3 1005.4L625.07 1009.55L625.84 1013.71L626.61 1017.87L627.38 1022.03L628.16 1026.19L628.94 1030.36L629.72 1034.53L630.51 1038.7L631.31 1042.87L632.12 1047.03L632.94 1051.2L633.77 1055.37L634.61 1059.53L635.47 1063.69L636.35 1067.85L637.25 1072.01L638.17 1076.16L639.1 1080.3L640.06 1084.44L641.05 1088.57L642.06 1092.69L643.09 1096.81L644.16 1100.92L645.25 1105.02L646.37 1109.11L647.53 1113.19L648.72 1117.26L649.95 1121.32L651.21 1125.37L652.52 1129.4L653.86 1133.43L655.24 1137.44L656.67 1141.43L658.13 1145.41L659.65 1149.37L661.21 1153.32L662.82 1157.25L664.48 1161.17L666.19 1165.06L667.95 1168.94L669.77 1172.8L671.64 1176.64L673.57 1180.46L675.56 1184.26L677.6 1188.04L679.71 1191.79L681.88 1195.52L684.11 1199.23L686.41 1202.92L688.78 1206.58L691.21 1210.22L693.72 1213.83L696.29 1217.41L698.94 1220.97L701.66 1224.5L704.46 1228L707.33 1231.47L710.28 1234.9L713.31 1238.28L716.42 1241.62L719.61 1244.9L722.89 1248.12L726.24 1251.28L729.69 1254.36L733.21 1257.37L736.83 1260.3L740.53 1263.15L744.33 1265.9L748.21 1268.56L752.19 1271.12L756.26 1273.57L760.42 1275.91L764.68 1278.13L769.04 1280.23L773.5 1282.2L778.04 1284.06L782.64 1285.85L787.28 1287.6L791.91 1289.35L796.51 1291.15L801.06 1293.04L805.56 1294.97L810.06 1296.86L814.61 1298.61L819.2 1300.21L823.85 1301.67L828.54 1302.98L833.28 1304.17L838.06 1305.23L842.88 1306.17L847.74 1307.01L854.74 1308.07L861.74 1307.55L868.74 1309.32L875.74 1309.14L882.74 1309.04L889.74 1311.43L896.74 1309.96L903.74 1310.89L910.74 1311.64L917.74 1311.25L924.74 1310.68L931.74 1311.26L938.74 1311.44L945.74 1312.16L952.74 1310.48L959.74 1311.83L966.74 1311.16L973.74 1311.41L980.74 1312.92L987.74 1312.4L994.74 1312.74L1001.74 1313.46L1008.74 1314.06L1015.74 1312.99L1022.74 1313.62L1029.74 1313.51L1036.74 1313.68L1043.74 1314.3L1050.74 1313.78L1057.74 1314.09L1064.74 1314.02L1071.74 1315.3L1078.74 1314.67L1085.74 1315.12L1092.74 1315.25L1099.74 1313.34L1106.74 1314.01L1113.74 1314.86L1114.06 1313.67" fill="none" stroke="#000000" stroke-width="8.17" stroke-linecap="butt" stroke-linejoin="round"/>
</g>
<g transform="scale(1,1.2)">
<path d="M154.18 1342.03L159.13 1341.99L164.09 1341.96L169.06 1341.93L174.04 1341.9L179.03 1341.88L184.02 1341.85L189.03 1341.83L194.05 1341.81L199.07 1341.79L204.09 1341.78L209.13 1341.76L214.17 1341.72L219.21 1341.68L224.26 1341.64L229.31 1341.61L234.36 1341.58L239.42 1341.56L244.47 1341.54L249.53 1341.52L254.59 1341.51L259.65 1341.5L264.7 1341.49L269.76 1341.49L274.81 1341.49L279.86 1341.5L284.91 1341.5L289.95 1341.51L294.99 1341.5L300.02 1341.47L305.04 1341.44L310.06 1341.41L315.07 1341.37L320.08 1341.33L325.07 1341.28L330.06 1341.24L335.04 1341.18L340 1341.13L344.96 1341.07L349.9 1341L354.83 1340.93L359.76 1340.86L364.69 1340.78L369.63 1340.7L374.6 1340.62L379.58 1340.54L384.61 1340.45L389.67 1340.37L394.79 1340.29L399.96 1340.21L405.2 1340.13L410.5 1340.04L415.81 1339.9L421.11 1339.68L426.38 1339.36L431.57 1338.91L436.67 1338.28L441.63 1337.46L446.43 1336.41L451.04 1335.1L455.42 1333.5L459.57 1331.61L463.49 1329.43L467.19 1326.99L470.69 1324.31L473.97 1321.4L477.07 1318.29L479.98 1314.99L482.71 1311.53L485.28 1307.91L487.68 1304.16L489.94 1300.3L492.05 1296.34L494.03 1292.31L495.89 1288.22L497.63 1284.09L499.26 1279.94L500.8 1275.8L502.24 1271.66L503.6 1267.56L504.89 1263.49L506.12 1259.44L507.3 1255.4L508.43 1251.38L509.53 1247.35L510.61 1243.33L511.68 1239.3L512.73 1235.26L513.76 1231.22L514.78 1227.17L515.79 1223.11L516.78 1219.04L517.76 1214.97L518.73 1210.9L519.69 1206.82L520.63 1202.73L521.57 1198.64L522.49 1194.54L523.4 1190.44L524.29 1186.33L525.18 1182.22L526.06 1178.1L526.92 1173.98L527.78 1169.86L528.63 1165.73L529.47 1161.6L530.29 1157.46L531.11 1153.32L531.92 1149.18L532.73 1145.03L533.52 1140.88L534.31 1136.73L535.08 1132.58L535.86 1128.42L536.62 1124.26L537.38 1120.1L538.13 1115.94L538.87 1111.78L539.61 1107.61L540.34 1103.45L541.07 1099.28L541.79 1095.11L542.51 1090.94L543.22 1086.77L543.93 1082.6L544.64 1078.43L545.34 1074.26L546.03 1070.09L546.73 1065.92L547.42 1061.75L548.1 1057.58L548.79 1053.41L549.47 1049.24L550.15 1045.07L550.83 1040.91L551.51 1036.74L552.19 1032.58L552.86 1028.42L553.54 1024.26L554.21 1020.11L554.89 1015.95L555.56 1011.8L556.24 1007.65L556.91 1003.51L557.59 999.37L558.27 995.23L558.95 991.09L559.63 986.96L560.31 982.83L561 978.71L561.69 974.59L562.38 970.47L563.07 966.36L563.77 962.25L564.47 958.15L565.18 954.06L565.9 949.96L566.64 945.87L567.42 941.77L568.23 937.66L569.1 933.55L570.02 929.43L571.01 925.29L572.08 921.14L573.24 916.97L574.49 912.78L575.94 908.63L577.75 904.66L580.1 900.98L583.17 897.73L587.08 895.11L591.53 894.16L595.75 895.65L598.82 898.95L601.01 903L602.78 907.1L604.24 911.19L605.42 915.29L606.41 919.38L607.24 923.48L607.98 927.58L608.68 931.69L609.38 935.8L610.08 939.92L610.78 944.04L611.49 948.17L612.19 952.3L612.89 956.44L613.6 960.58L614.31 964.73L615.02 968.88L615.73 973.03L616.45 977.18L617.17 981.34L617.89 985.5L618.62 989.66L619.35 993.82L620.09 997.98L620.83 1002.15L621.57 1006.31L622.32 1010.47L623.08 1014.63L623.84 1018.79L624.61 1022.95L625.38 1027.11L626.16 1031.27L626.95 1035.42L627.74 1039.57L628.54 1043.72L629.35 1047.86L630.17 1052L631 1056.14L631.83 1060.27L632.68 1064.4L633.53 1068.52L634.39 1072.64L635.26 1076.75L636.14 1080.86L637.02 1084.97L637.91 1089.08L638.81 1093.18L639.71 1097.28L640.62 1101.38L641.54 1105.47L642.46 1109.57L643.39 1113.66L644.32 1117.76L645.26 1121.85L646.2 1125.94L647.15 1130.03L648.1 1134.12L649.05 1138.21L650.01 1142.3L650.97 1146.4L651.93 1150.49L652.9 1154.59L653.87 1158.68L654.84 1162.78L655.81 1166.88L656.79 1170.99L657.76 1175.1L658.74 1179.21L659.72 1183.32L660.7 1187.44L661.67 1191.56L662.65 1195.68L663.63 1199.81L664.61 1203.94L665.59 1208.08L666.56 1212.23L667.54 1216.38L668.51 1220.53L669.49 1224.69L670.49 1228.84L671.52 1232.99L672.58 1237.13L673.68 1241.25L674.83 1245.36L676.04 1249.45L677.32 1253.51L678.68 1257.55L680.12 1261.55L681.65 1265.52L683.29 1269.45L685.04 1273.34L686.91 1277.18L688.9 1280.98L691.03 1284.72L693.31 1288.4L695.74 1292.02L698.33 1295.57L701.1 1299.06L704.04 1302.48L707.16 1305.79L710.48 1308.98L713.98 1312L717.67 1314.82L721.56 1317.4L725.65 1319.71L729.94 1321.71L734.43 1323.37L739.12 1324.65L744.02 1325.27L749.11 1325.16L754.32 1325.06L759.61 1324.96L764.92 1324.87L770.2 1324.79L775.4 1324.72L780.45 1324.66L785.32 1324.6L789.94 1324.56" fill="none" stroke="#ff0000" stroke-width="6.67" stroke-linecap="butt" stroke-linejoin="round" stroke-dasharray="18.5 12.5" stroke-dashoffset="0"/>
</g>
<g transform="scale(1,1.2)">
<path d="M154 1342.14L159.08 1342.1L164.15 1342.07L169.23 1342.03L174.31 1342.01L179.39 1341.98L184.46 1341.96L189.54 1341.94L194.62 1341.91L199.7 1341.86L204.77 1341.8L209.85 1341.76L214.93 1341.71L220.01 1341.67L225.08 1341.64L230.16 1341.6L235.24 1341.58L240.32 1341.55L245.39 1341.53L250.47 1341.52L255.55 1341.5L260.63 1341.5L265.71 1341.49L270.78 1341.49L275.86 1341.49L280.94 1341.5L286.02 1341.51L291.09 1341.52L296.17 1341.53L301.25 1341.55L306.33 1341.57L311.4 1341.59L316.48 1341.62L321.56 1341.65L326.64 1341.68L331.71 1341.72L336.79 1341.75L341.87 1341.79L346.94 1341.83L352.02 1341.88L357.1 1341.92L362.18 1341.97L367.25 1342.02L372.33 1342.07L377.41 1342.13L382.49 1342.14L387.56 1342.12L392.64 1342.11L397.72 1342.1L402.8 1342.08L407.87 1342.06L412.95 1342.03L418.03 1342L423.1 1341.97L428.18 1341.93L433.26 1341.89L438.33 1341.85L443.41 1341.8L448.49 1341.74L453.57 1341.69L458.64 1341.62L463.72 1341.55L468.8 1341.48L473.87 1341.39L478.95 1341.29L484.02 1341.18L489.1 1341.06L494.17 1340.92L499.24 1340.76L504.31 1340.59L509.38 1340.4L514.45 1340.19L519.52 1339.96L524.58 1339.7L529.65 1339.42L534.71 1339.12L539.77 1338.79L544.83 1338.44L549.89 1338.07L554.94 1337.67L559.99 1337.21L565.04 1336.73L570.08 1336.25L575.12 1335.76L580.15 1335.27L585.19 1334.79L590.23 1334.2L595.28 1333.58L600.34 1332.91L605.39 1332.17L610.4 1331.3L615.29 1330.19L620 1328.77L624.46 1326.95L628.65 1324.7L632.57 1322.07L636.24 1319.11L639.66 1315.89L642.85 1312.45L645.82 1308.85L648.58 1305.15L651.16 1301.37L653.59 1297.55L655.9 1293.7L658.14 1289.83L660.34 1285.97L662.53 1282.14L664.75 1278.34L667.04 1274.6L669.43 1270.94L671.96 1267.37L674.67 1263.91L677.58 1260.58L680.73 1257.4L684.21 1254.43L688.5 1252.17L692.51 1254.03L695.91 1256.36L698.78 1259.07L701.22 1262.11L703.33 1265.41L705.2 1268.9L706.91 1272.54L708.53 1276.27L710.14 1280.04L711.78 1283.82L713.48 1287.57L715.29 1291.26L717.24 1294.87L719.36 1298.35L721.69 1301.68L724.24 1304.84L726.99 1307.81L729.95 1310.6L733.1 1313.19L736.44 1315.57L739.96 1317.72L743.66 1319.64L747.53 1321.32L751.55 1322.75L755.73 1323.91L760.06 1324.8L764.53 1324.88L769.1 1324.81L773.76 1324.74L778.49 1324.68L783.25 1324.63L788.04 1324.58L792.82 1324.53L797.57 1324.49L802.27 1324.46L806.89 1324.43L811.42 1324.41L815.82 1324.39L820.08 1324.37" fill="none" stroke="#0000ff" stroke-width="5" stroke-linecap="butt" stroke-linejoin="round" stroke-dasharray="18.5 12.5" stroke-dashoffset="8"/>
</g>
<g transform="scale(1,1.2)">
<path d="M153.8 1341.89L158.89 1341.89L163.98 1341.89L169.06 1341.9L174.15 1341.91L179.22 1341.92L184.3 1341.92L189.38 1341.94L194.45 1341.92L199.52 1341.86L204.58 1341.81L209.65 1341.76L214.71 1341.71L219.77 1341.67L224.83 1341.64L229.89 1341.61L234.94 1341.58L240 1341.55L245.05 1341.53L250.1 1341.52L255.15 1341.51L260.2 1341.5L265.24 1341.49L270.29 1341.49L275.33 1341.49L280.38 1341.5L285.42 1341.5L290.46 1341.52L295.5 1341.53L300.54 1341.55L305.58 1341.57L310.62 1341.59L315.66 1341.62L320.69 1341.64L325.73 1341.68L330.77 1341.71L335.81 1341.75L340.84 1341.78L345.88 1341.82L350.91 1341.87L355.95 1341.91L360.99 1341.96L366.03 1342.01L371.06 1342.06L376.1 1342.11L381.14 1342.13L386.18 1342.1L391.22 1342.06L396.26 1342.03L401.3 1341.99L406.34 1341.95L411.38 1341.9L416.43 1341.85L421.47 1341.79L426.52 1341.73L431.56 1341.67L436.61 1341.6L441.66 1341.53L446.71 1341.46L451.77 1341.38L456.82 1341.29L461.88 1341.2L466.93 1341.11L471.99 1341.01L477.06 1340.9L482.12 1340.79L487.18 1340.67L492.25 1340.54L497.31 1340.4L502.38 1340.26L507.45 1340.1L512.51 1339.92L517.58 1339.74L522.64 1339.54L527.7 1339.32L532.76 1339.09L537.82 1338.83L542.88 1338.56L547.93 1338.28L552.98 1337.86L558.03 1337.39L563.07 1336.92L568.11 1336.44L573.14 1335.95L578.18 1335.47L583.2 1334.98L588.22 1334.49L593.24 1334.01L598.25 1333.53L603.25 1333.06L608.25 1332.6L613.24 1332.15L618.22 1331.58L623.2 1330.87L628.16 1330.12L633.11 1329.32L638.03 1328.45L642.9 1327.48L647.73 1326.41L652.49 1325.2L657.17 1323.85L661.77 1322.33L666.27 1320.64L670.68 1318.78L675.01 1316.76L679.26 1314.59L683.43 1312.29L687.52 1309.85L691.55 1307.29L695.51 1304.63L699.43 1301.88L703.31 1299.08L707.18 1296.26L711.05 1293.44L714.95 1290.66L718.88 1287.94L722.87 1285.33L726.94 1282.84L731.09 1280.5L735.36 1278.35L739.76 1276.42L744.3 1274.74L749 1273.33L753.86 1274.03L758.5 1275.12L762.94 1276.56L767.2 1278.31L771.31 1280.32L775.28 1282.57L779.15 1285L782.94 1287.58L786.66 1290.26L790.35 1293L794.03 1295.76L797.72 1298.5L801.45 1301.18L805.23 1303.76L809.1 1306.19L813.06 1308.46L817.11 1310.56L821.24 1312.5L825.46 1314.29L829.75 1315.93L834.12 1317.42L838.55 1318.77L843.05 1319.98L847.61 1321.06L852.22 1322.01L856.89 1322.83L861.6 1323.53L866.35 1324.11L871.14 1324.33L875.97 1324.34L880.82 1324.34L885.7 1324.35L890.6 1324.36L895.51 1324.36L900.44 1324.37L905.38 1324.37L910.31 1324.38L915.25 1324.36L920.18 1323.92" fill="none" stroke="#008080" stroke-width="6.67" stroke-linecap="butt" stroke-linejoin="round" stroke-dasharray="18.5 12.5" stroke-dashoffset="16"/>
</g>
<g transform="scale(1,1.2)">
<path d="M154.04 1342.55L159.06 1342.45L164.09 1342.36L169.11 1342.28L174.14 1342.19L179.17 1342.12L184.19 1342.05L189.22 1341.98L194.24 1341.92L199.27 1341.86L204.3 1341.81L209.32 1341.76L214.35 1341.72L219.38 1341.68L224.4 1341.64L229.43 1341.61L234.46 1341.58L239.49 1341.56L244.51 1341.54L249.54 1341.52L254.57 1341.51L259.6 1341.5L264.63 1341.49L269.66 1341.49L274.69 1341.49L279.71 1341.5L284.74 1341.5L289.77 1341.51L294.8 1341.53L299.84 1341.54L304.87 1341.56L309.9 1341.59L314.93 1341.61L319.96 1341.64L324.99 1341.67L330.03 1341.7L335.06 1341.74L340.09 1341.78L345.12 1341.82L350.16 1341.86L355.19 1341.91L360.23 1341.95L365.26 1342L370.3 1342.05L375.33 1342.1L380.37 1342.16L385.4 1342.21L390.44 1342.27L395.48 1342.33L400.52 1342.39L405.55 1342.45L410.59 1342.51L415.63 1342.57L420.67 1342.62L425.7 1342.66L430.74 1342.7L435.78 1342.73L440.81 1342.74L445.85 1342.75L450.88 1342.74L455.91 1342.72L460.94 1342.68L465.97 1342.62L471 1342.55L476.03 1342.45L481.06 1342.33L486.08 1342.19L491.1 1342.02L496.12 1341.83L501.14 1341.61L506.15 1341.36L511.16 1341.08L516.17 1340.77L521.18 1340.44L526.19 1340.08L531.19 1339.71L536.19 1339.31L541.19 1338.89L546.19 1338.46L551.19 1338.02L556.19 1337.56L561.18 1337.1L566.18 1336.62L571.18 1336.14L576.17 1335.66L581.17 1335.18L586.16 1334.69L591.16 1334.21L596.15 1333.73L601.15 1333.25L606.15 1332.79L611.14 1332.33L616.14 1331.89L621.14 1331.46L626.14 1331.04L631.15 1330.64L636.15 1330.26L641.16 1329.89L646.16 1329.54L651.17 1329.2L656.18 1328.88L661.19 1328.57L666.2 1328.28L671.21 1328L676.23 1327.73L681.24 1327.48L686.26 1327.24L691.28 1327.01L696.29 1326.79L701.31 1326.59L706.33 1326.39L711.35 1326.21L716.38 1326.04L721.4 1325.88L726.42 1325.73L731.45 1325.58L736.47 1325.45L741.5 1325.33L746.52 1325.22L751.55 1325.11L756.58 1325.01L761.61 1324.92L766.64 1324.84L771.67 1324.77L776.69 1324.7L781.73 1324.64L786.76 1324.59L791.79 1324.54L796.82 1324.5L801.85 1324.46L806.88 1324.43L811.92 1324.4L816.95 1324.38L821.98 1324.36L827.02 1324.35L832.05 1324.34L837.08 1324.33L842.12 1324.32L847.15 1324.32L852.18 1324.32L857.22 1324.32L862.25 1324.32L867.29 1324.33L872.32 1324.33L877.35 1324.34L882.39 1324.35L887.42 1324.35L892.45 1324.36L897.49 1324.36L902.52 1324.37L907.55 1324.38L912.59 1324.38L917.62 1324.39L922.65 1324.39L927.68 1324.4L932.72 1324.4L937.75 1324.4L942.78 1324.41L947.81 1324.41L952.84 1324.41L957.88 1324.41L962.91 1324.41L967.94 1324.41L972.97 1324.41L978 1324.4L983.03 1324.4L988.06 1324.39L993.09 1324.38L998.12 1324.37L1003.15 1324.36L1008.18 1324.35L1013.21 1324.33L1018.24 1324.32L1023.27 1324.3L1028.3 1324.28L1033.33 1324.26L1038.36 1324.24L1043.39 1324.21L1048.42 1324.18L1053.45 1324.15L1058.48 1324.12L1063.5 1324.09L1068.53 1324.05L1073.56 1324.01L1078.59 1323.97L1083.62 1323.92L1088.64 1323.88L1093.67 1323.83L1098.7 1323.77L1103.73 1323.72L1108.75 1323.66L1113.78 1323.6" fill="none" stroke="#ff00ff" stroke-width="6.25" stroke-linecap="butt" stroke-linejoin="round" stroke-dasharray="18.5 12.5" stroke-dashoffset="24"/>
</g>
<rect x="586.2" y="1016.85" width="8" height="14.5" rx="3.6" ry="5.8" fill="#000"/>
<rect x="586.2" y="1066.45" width="8" height="14.5" rx="3.6" ry="5.8" fill="#000"/>
<rect x="586.2" y="1116.05" width="8" height="14.5" rx="3.6" ry="5.8" fill="#000"/>
<rect x="586.2" y="1165.65" width="8" height="14.5" rx="3.6" ry="5.8" fill="#000"/>
<rect x="586.2" y="1215.25" width="8" height="14.5" rx="3.6" ry="5.8" fill="#000"/>
<rect x="586.2" y="1264.85" width="8" height="14.5" rx="3.6" ry="5.8" fill="#000"/>
<rect x="586.2" y="1314.45" width="8" height="14.5" rx="3.6" ry="5.8" fill="#000"/>
<rect x="586.2" y="1364.05" width="8" height="14.5" rx="3.6" ry="5.8" fill="#000"/>
<rect x="586.2" y="1413.65" width="8" height="14.5" rx="3.6" ry="5.8" fill="#000"/>
<rect x="586.2" y="1463.25" width="8" height="14.5" rx="3.6" ry="5.8" fill="#000"/>
<rect x="586.2" y="1512.85" width="8" height="14.5" rx="3.6" ry="5.8" fill="#000"/>
<rect x="586.2" y="1562.45" width="8" height="14.5" rx="3.6" ry="5.8" fill="#000"/>
<rect x="586.2" y="1612.05" width="8" height="14.5" rx="3.6" ry="5.8" fill="#000"/>
<rect x="586.2" y="1661.65" width="8" height="14.5" rx="3.6" ry="5.8" fill="#000"/>
<rect x="150" y="987" width="8" height="720" fill="#000"/>
<rect x="1109.8" y="987" width="8" height="720" fill="#000"/>
<rect x="150" y="987" width="967.8" height="8" fill="#000"/>
<rect x="150" y="1699" width="967.8" height="8" fill="#000"/>
<rect x="150.2" y="1685.5" width="7.6" height="14.5" fill="#000"/>
<rect x="246.18" y="1692.5" width="7.6" height="7.5" fill="#000"/>
<rect x="342.16" y="1685.5" width="7.6" height="14.5" fill="#000"/>
<rect x="438.14" y="1692.5" width="7.6" height="7.5" fill="#000"/>
<rect x="534.12" y="1685.5" width="7.6" height="14.5" fill="#000"/>
<rect x="630.1" y="1692.5" width="7.6" height="7.5" fill="#000"/>
<rect x="726.08" y="1685.5" width="7.6" height="14.5" fill="#000"/>
<rect x="822.06" y="1692.5" width="7.6" height="7.5" fill="#000"/>
<rect x="918.04" y="1685.5" width="7.6" height="14.5" fill="#000"/>
<rect x="1014.02" y="1692.5" width="7.6" height="7.5" fill="#000"/>
<rect x="1110" y="1685.5" width="7.6" height="14.5" fill="#000"/>
<text x="153.8" y="1764.2" font-family="'Liberation Sans', Arial, Helvetica, sans-serif" font-size="56.5" font-weight="normal" fill="#000" text-anchor="middle" textLength="95.2" lengthAdjust="spacingAndGlyphs">280</text>
<text x="345.76" y="1764.2" font-family="'Liberation Sans', Arial, Helvetica, sans-serif" font-size="56.5" font-weight="normal" fill="#000" text-anchor="middle" textLength="95.2" lengthAdjust="spacingAndGlyphs">282</text>
<text x="537.72" y="1764.2" font-family="'Liberation Sans', Arial, Helvetica, sans-serif" font-size="56.5" font-weight="normal" fill="#000" text-anchor="middle" textLength="95.2" lengthAdjust="spacingAndGlyphs">284</text>
<text x="729.68" y="1764.2" font-family="'Liberation Sans', Arial, Helvetica, sans-serif" font-size="56.5" font-weight="normal" fill="#000" text-anchor="middle" textLength="95.2" lengthAdjust="spacingAndGlyphs">286</text>
<text x="921.64" y="1764.2" font-family="'Liberation Sans', Arial, Helvetica, sans-serif" font-size="56.5" font-weight="normal" fill="#000" text-anchor="middle" textLength="95.2" lengthAdjust="spacingAndGlyphs">288</text>
<text x="1113.6" y="1764.2" font-family="'Liberation Sans', Arial, Helvetica, sans-serif" font-size="56.5" font-weight="normal" fill="#000" text-anchor="middle" textLength="95.2" lengthAdjust="spacingAndGlyphs">290</text>
<text x="335" y="1845.5" font-family="'Liberation Sans', Arial, Helvetica, sans-serif" font-size="75" font-weight="normal" fill="#000" text-anchor="start" textLength="683" lengthAdjust="spacingAndGlyphs">Binding Energy (eV)</text>
<text x="115.1" y="1564.4" font-family="'Liberation Sans', Arial, Helvetica, sans-serif" font-size="75" font-weight="normal" fill="#000" text-anchor="start" textLength="484.4" lengthAdjust="spacingAndGlyphs" transform="rotate(-90 115.1 1564.4)">Intensity (a.u.)</text>
<text x="163.5" y="1574" font-family="'Liberation Serif', 'Times New Roman', Times, serif" font-size="80" font-weight="bold" fill="#000" text-anchor="start" textLength="95.6" lengthAdjust="spacingAndGlyphs">(c)</text>
<text x="316" y="1066.7" font-family="'Liberation Sans', Arial, Helvetica, sans-serif" font-size="55" font-weight="normal" fill="#000" text-anchor="start" textLength="146" lengthAdjust="spacingAndGlyphs">284.5</text>
<polygon points="466.6,1047 534.9,1047 529.3,1037.45 531.3,1036.25 542.3,1036.25 583.3,1047.5 583.3,1054.5 542.3,1065.75 531.3,1065.75 529.3,1064.55 534.9,1055 466.6,1055" fill="#000"/>
<line x1="686" y1="1047" x2="802.5" y2="1047" stroke="#000" stroke-width="12.5" stroke-linecap="round"/>
<line x1="686" y1="1110.8" x2="794.5" y2="1110.8" stroke="#ff0000" stroke-width="8.5" stroke-dasharray="18.5 12.5"/>
<line x1="686" y1="1174.6" x2="794.5" y2="1174.6" stroke="#0000ff" stroke-width="6" stroke-dasharray="18.5 12.5"/>
<line x1="686" y1="1239.4" x2="794.5" y2="1239.4" stroke="#008080" stroke-width="8.5" stroke-dasharray="18.5 12.5"/>
<line x1="686" y1="1303.5" x2="794.5" y2="1303.5" stroke="#ff00ff" stroke-width="5.5" stroke-dasharray="18.5 12.5"/>
<text x="816" y="1063.2" font-family="'Liberation Sans', Arial, Helvetica, sans-serif" font-size="50.5" font-weight="normal" fill="#000" text-anchor="start">2</text>
<text x="845" y="1036" font-family="'Liberation Sans', Arial, Helvetica, sans-serif" font-size="30" font-weight="normal" fill="#000" text-anchor="start">#</text>
<text x="864" y="1063.2" font-family="'Liberation Sans', Arial, Helvetica, sans-serif" font-size="50.5" font-weight="normal" fill="#000" text-anchor="start" textLength="108" lengthAdjust="spacingAndGlyphs">-C1s</text>
<text x="815.4" y="1127.6" font-family="'Liberation Sans', Arial, Helvetica, sans-serif" font-size="50.5" font-weight="normal" fill="#000" text-anchor="start" textLength="277" lengthAdjust="spacingAndGlyphs">C1s Peak A</text>
<text x="815.4" y="1192" font-family="'Liberation Sans', Arial, Helvetica, sans-serif" font-size="50.5" font-weight="normal" fill="#000" text-anchor="start" textLength="277.8" lengthAdjust="spacingAndGlyphs">C1s Peak B</text>
<text x="815.4" y="1256.2" font-family="'Liberation Sans', Arial, Helvetica, sans-serif" font-size="50.5" font-weight="normal" fill="#000" text-anchor="start" textLength="280" lengthAdjust="spacingAndGlyphs">C1s Peak C</text>
<text x="817" y="1321.3" font-family="'Liberation Sans', Arial, Helvetica, sans-serif" font-size="50.5" font-weight="normal" fill="#000" text-anchor="start" textLength="279.4" lengthAdjust="spacingAndGlyphs">Background</text>
<text x="354" y="1316.7" font-family="'Liberation Sans', Arial, Helvetica, sans-serif" font-size="55" font-weight="normal" fill="#ff0000" text-anchor="start">sp</text>
<text x="416.3" y="1285.9" font-family="'Liberation Sans', Arial, Helvetica, sans-serif" font-size="36" font-weight="normal" fill="#ff0000" text-anchor="start">2</text>
<polygon points="427.8,1325.43 484.69,1434.86 476.29,1436.2 512.6,1471 502.57,1421.72 496.95,1428.11 434.8,1321.57" fill="#ff0000"/>
<text x="805" y="1408.3" font-family="'Liberation Sans', Arial, Helvetica, sans-serif" font-size="55" font-weight="normal" fill="#0000ff" text-anchor="start">sp</text>
<text x="867.3" y="1377.5" font-family="'Liberation Sans', Arial, Helvetica, sans-serif" font-size="36" font-weight="normal" fill="#0000ff" text-anchor="start">3</text>
<polygon points="797.3,1423.75 729.97,1481.28 726.69,1473.43 701.4,1516.9 746.94,1495.57 739.42,1491.61 802.7,1429.65" fill="#0000ff"/>
<text x="870" y="1491.6" font-family="'Liberation Sans', Arial, Helvetica, sans-serif" font-size="44" font-weight="normal" fill="#008080" text-anchor="start" textLength="84" lengthAdjust="spacingAndGlyphs">C-O</text>
<polygon points="867.71,1493.63 837.38,1532.33 833.19,1526.08 818.6,1571.9 856.24,1541.98 848.91,1540.27 874.29,1498.17" fill="#008080"/>
<g transform="scale(1,1.2)">
<path d="M1343.69 1360.24L1348.82 1360.27L1353.95 1360.31L1359.06 1360.34L1364.17 1360.37L1369.26 1360.39L1374.35 1360.41L1379.43 1360.43L1384.51 1360.44L1389.57 1360.45L1394.63 1360.45L1399.68 1360.45L1404.73 1360.45L1409.77 1360.44L1414.81 1360.43L1419.84 1360.41L1424.86 1360.39L1429.88 1360.36L1434.9 1360.33L1439.92 1360.3L1444.93 1360.26L1449.93 1360.21L1454.94 1360.16L1459.94 1360.1L1464.94 1360.04L1469.94 1359.98L1474.94 1359.9L1479.94 1359.82L1484.94 1359.74L1489.94 1359.65L1494.93 1359.56L1499.93 1359.45L1504.93 1359.35L1509.93 1359.23L1514.94 1359.11L1519.94 1358.98L1524.95 1358.85L1529.96 1358.71L1534.98 1358.56L1539.99 1358.41L1545.02 1358.25L1550.04 1358.08L1555.07 1357.91L1560.11 1357.73L1565.15 1357.54L1570.2 1357.34L1575.25 1357.14L1580.31 1356.93L1585.38 1356.71L1590.45 1356.48L1595.53 1356.23L1600.61 1355.95L1605.7 1355.64L1610.79 1355.27L1615.88 1354.84L1620.98 1354.34L1626.07 1353.77L1631.16 1353.1L1636.25 1352.33L1641.32 1351.45L1646.36 1350.45L1651.34 1349.32L1656.25 1348.05L1661.04 1346.63L1665.72 1345.04L1670.24 1343.29L1674.59 1341.35L1678.74 1339.22L1682.68 1336.89L1686.38 1334.35L1689.82 1331.59L1692.97 1328.6L1695.86 1325.4L1698.5 1322L1700.91 1318.43L1703.11 1314.72L1705.12 1310.87L1706.95 1306.91L1708.62 1302.86L1710.16 1298.74L1711.57 1294.57L1712.89 1290.37L1714.12 1286.16L1715.28 1281.95L1716.4 1277.77L1717.45 1273.59L1718.47 1269.43L1719.44 1265.27L1720.37 1261.12L1721.27 1256.98L1722.14 1252.84L1722.99 1248.7L1723.82 1244.56L1724.64 1240.42L1725.44 1236.28L1726.24 1232.14L1727.01 1228L1727.78 1223.85L1728.54 1219.71L1729.28 1215.56L1730.02 1211.41L1730.74 1207.26L1731.45 1203.11L1732.16 1198.96L1732.85 1194.81L1733.54 1190.66L1734.22 1186.5L1734.89 1182.35L1735.55 1178.19L1736.21 1174.03L1736.85 1169.87L1737.5 1165.72L1738.13 1161.56L1738.76 1157.4L1739.38 1153.24L1740 1149.08L1740.62 1144.92L1741.23 1140.76L1741.83 1136.6L1742.44 1132.43L1743.03 1128.27L1743.63 1124.11L1744.23 1119.95L1744.82 1115.79L1745.41 1111.63L1746 1107.47L1746.58 1103.3L1747.17 1099.14L1747.76 1094.98L1748.35 1090.82L1748.93 1086.66L1749.52 1082.5L1750.11 1078.35L1750.71 1074.19L1751.3 1070.03L1751.9 1065.87L1752.49 1061.72L1753.1 1057.56L1753.7 1053.41L1754.31 1049.25L1754.92 1045.1L1755.53 1040.94L1756.14 1036.79L1756.75 1032.63L1757.35 1028.48L1757.95 1024.32L1758.54 1020.15L1759.13 1015.99L1759.72 1011.82L1760.29 1007.65L1760.85 1003.48L1761.41 999.3L1761.95 995.11L1762.48 990.92L1763 986.73L1763.5 982.53L1763.99 978.32L1764.46 974.11L1764.91 969.89L1765.35 965.66L1765.78 961.44L1766.22 957.2L1766.66 952.97L1767.12 948.74L1767.6 944.52L1768.11 940.3L1768.66 936.09L1769.25 931.89L1769.9 927.7L1770.62 923.53L1771.45 919.4L1772.43 915.31L1773.61 911.28L1775.01 907.33L1776.68 903.46L1778.65 899.7L1780.97 896.05L1783.67 892.54L1786.8 889.17L1789.62 892.66L1792.03 896.29L1794.08 900.06L1795.82 903.93L1797.28 907.9L1798.5 911.95L1799.52 916.07L1800.38 920.24L1801.13 924.45L1801.8 928.67L1802.43 932.91L1803.04 937.14L1803.64 941.38L1804.23 945.61L1804.82 949.84L1805.42 954.06L1806.04 958.28L1806.68 962.48L1807.34 966.68L1808.05 970.86L1808.8 975.03L1809.6 979.18L1810.44 983.32L1811.31 987.45L1812.21 991.57L1813.14 995.68L1814.1 999.78L1815.06 1003.88L1816.04 1007.98L1817.02 1012.08L1818.01 1016.18L1818.99 1020.28L1819.96 1024.39L1820.91 1028.5L1821.85 1032.62L1822.76 1036.75L1823.64 1040.9L1824.49 1045.05L1825.3 1049.22L1826.09 1053.4L1826.85 1057.59L1827.6 1061.79L1828.33 1065.99L1829.05 1070.2L1829.77 1074.41L1830.49 1078.62L1831.23 1082.83L1831.97 1087.04L1832.74 1091.24L1833.53 1095.43L1834.35 1099.61L1835.21 1103.79L1836.1 1107.95L1837.05 1112.1L1838.04 1116.23L1839.09 1120.34L1840.21 1124.43L1841.39 1128.51L1842.64 1132.55L1843.95 1136.58L1845.33 1140.6L1846.76 1144.59L1848.24 1148.57L1849.77 1152.54L1851.35 1156.5L1852.95 1160.45L1854.59 1164.4L1856.26 1168.34L1857.96 1172.28L1859.67 1176.23L1861.39 1180.17L1863.13 1184.12L1864.86 1188.08L1866.6 1192.04L1868.34 1196.02L1870.06 1200.01L1871.78 1204.01L1873.48 1208.03L1875.19 1212.04L1876.93 1216.05L1878.69 1220.05L1880.51 1224.02L1882.38 1227.96L1884.33 1231.86L1886.37 1235.71L1888.51 1239.51L1890.77 1243.24L1893.16 1246.89L1895.69 1250.46L1898.38 1253.94L1901.23 1257.32L1904.23 1260.61L1907.38 1263.81L1910.67 1266.92L1914.09 1269.94L1917.64 1272.88L1921.31 1275.73L1925.08 1278.49L1928.97 1281.18L1932.95 1283.79L1937.02 1286.32L1941.17 1288.77L1945.4 1291.16L1949.69 1293.47L1954.05 1295.71L1958.46 1297.88L1962.92 1299.99L1967.42 1302.03L1971.96 1304.01L1976.52 1305.93L1981.11 1307.78L1985.73 1309.57L1990.37 1311.29L1995.05 1312.94L1999.74 1314.53L2004.47 1316.05L2009.21 1317.49L2013.99 1318.86L2018.78 1320.16L2023.6 1321.38L2028.44 1322.52L2033.3 1323.59L2038.18 1324.57L2043.09 1325.48L2048.01 1326.3L2052.95 1327.04L2057.91 1327.71L2062.88 1328.31L2067.87 1328.84L2072.87 1329.31L2079.87 1330.77L2086.87 1329.35L2093.87 1329.68L2100.87 1330.82L2107.87 1330.06L2114.87 1330.68L2121.87 1330.35L2128.87 1332.04L2135.87 1332.42L2142.87 1332.78L2149.87 1330.85L2156.87 1332.38L2163.87 1332.26L2170.87 1330.9L2177.87 1332.88L2184.87 1333.11L2191.87 1331.12L2198.87 1333.07L2205.87 1331.59L2212.87 1331.82L2219.87 1333.15L2226.87 1332.73L2233.87 1330.94L2240.87 1331.66L2247.87 1331.89L2254.87 1331.43L2261.87 1331.06L2268.87 1331.41L2275.87 1332.52L2282.87 1330.7L2289.87 1332.18L2296.87 1331.94L2303.87 1330.9L2305.33 1332.2" fill="none" stroke="#000000" stroke-width="8.17" stroke-linecap="butt" stroke-linejoin="round"/>
</g>
<g transform="scale(1,1.2)">
<path d="M1344.06 1361L1349.06 1361.04L1354.06 1360.9L1359.07 1360.74L1364.09 1360.62L1369.12 1360.53L1374.15 1360.48L1379.18 1360.45L1384.22 1360.45L1389.27 1360.47L1394.31 1360.51L1399.36 1360.56L1404.42 1360.63L1409.47 1360.71L1414.53 1360.8L1419.58 1360.89L1424.64 1360.97L1429.69 1360.94L1434.75 1360.91L1439.8 1360.88L1444.85 1360.85L1449.9 1360.81L1454.95 1360.79L1459.99 1360.76L1465.03 1360.73L1470.06 1360.71L1475.09 1360.69L1480.12 1360.67L1485.14 1360.66L1490.16 1360.65L1495.18 1360.64L1500.2 1360.64L1505.22 1360.64L1510.24 1360.55L1515.26 1360.42L1520.28 1360.3L1525.3 1360.18L1530.32 1360.07L1535.34 1359.97L1540.37 1359.88L1545.4 1359.81L1550.43 1359.75L1555.47 1359.72L1560.51 1359.7L1565.55 1359.72L1570.6 1359.76L1575.66 1359.83L1580.72 1359.94L1585.79 1360.06L1590.86 1360.17L1595.92 1360.26L1600.98 1360.3L1606.04 1360.27L1611.08 1360.14L1616.11 1359.9L1621.12 1359.51L1626.12 1358.96L1631.09 1358.23L1636.02 1357.29L1640.9 1356.16L1645.7 1354.82L1650.4 1353.27L1654.97 1351.52L1659.39 1349.56L1663.64 1347.39L1667.69 1345L1671.52 1342.4L1675.11 1339.59L1678.44 1336.56L1681.47 1333.3L1684.21 1329.83L1686.65 1326.17L1688.86 1322.35L1690.87 1318.41L1692.72 1314.4L1694.45 1310.34L1696.11 1306.27L1697.71 1302.2L1699.24 1298.14L1700.72 1294.07L1702.15 1290.01L1703.52 1285.95L1704.85 1281.89L1706.13 1277.83L1707.36 1273.77L1708.56 1269.7L1709.72 1265.64L1710.84 1261.57L1711.92 1257.5L1712.98 1253.43L1714.01 1249.35L1715.01 1245.27L1715.99 1241.19L1716.95 1237.1L1717.89 1233.01L1718.82 1228.91L1719.74 1224.8L1720.64 1220.69L1721.53 1216.57L1722.4 1212.45L1723.27 1208.32L1724.12 1204.19L1724.96 1200.06L1725.79 1195.91L1726.61 1191.77L1727.42 1187.62L1728.22 1183.47L1729.01 1179.31L1729.79 1175.15L1730.56 1170.99L1731.32 1166.83L1732.08 1162.66L1732.82 1158.49L1733.56 1154.32L1734.29 1150.14L1735.02 1145.97L1735.73 1141.79L1736.45 1137.62L1737.15 1133.44L1737.85 1129.26L1738.54 1125.08L1739.23 1120.9L1739.91 1116.72L1740.59 1112.54L1741.27 1108.37L1741.94 1104.19L1742.61 1100.01L1743.27 1095.84L1743.93 1091.67L1744.59 1087.49L1745.25 1083.32L1745.9 1079.16L1746.55 1074.99L1747.2 1070.83L1747.86 1066.67L1748.51 1062.52L1749.16 1058.36L1749.8 1054.22L1750.45 1050.07L1751.11 1045.93L1751.76 1041.79L1752.41 1037.66L1753.06 1033.53L1753.71 1029.41L1754.36 1025.28L1755.01 1021.16L1755.65 1017.03L1756.29 1012.91L1756.92 1008.78L1757.54 1004.65L1758.15 1000.51L1758.76 996.37L1759.35 992.22L1759.94 988.07L1760.51 983.91L1761.07 979.74L1761.61 975.56L1762.14 971.37L1762.65 967.16L1763.15 962.95L1763.63 958.72L1764.09 954.48L1764.55 950.23L1765.03 945.98L1765.55 941.74L1766.13 937.52L1766.8 933.31L1767.56 929.14L1768.45 925L1769.49 920.91L1770.68 916.87L1772.06 912.89L1773.65 908.97L1775.46 905.14L1777.57 901.41L1780.11 897.87L1783.2 894.6L1787 891.67L1789.33 895.43L1791.39 899.27L1793.23 903.17L1794.85 907.14L1796.28 911.16L1797.53 915.23L1798.63 919.34L1799.59 923.49L1800.43 927.67L1801.17 931.88L1801.83 936.11L1802.44 940.35L1803 944.6L1803.54 948.85L1804.08 953.1L1804.64 957.34L1805.23 961.56L1805.86 965.77L1806.52 969.96L1807.22 974.15L1807.94 978.32L1808.68 982.48L1809.45 986.64L1810.24 990.8L1811.03 994.95L1811.84 999.1L1812.65 1003.25L1813.47 1007.4L1814.28 1011.55L1815.09 1015.72L1815.9 1019.89L1816.7 1024.06L1817.49 1028.24L1818.27 1032.43L1819.05 1036.62L1819.83 1040.82L1820.6 1045.02L1821.36 1049.23L1822.13 1053.44L1822.88 1057.65L1823.64 1061.87L1824.39 1066.08L1825.14 1070.3L1825.89 1074.52L1826.64 1078.74L1827.38 1082.96L1828.13 1087.18L1828.87 1091.39L1829.62 1095.61L1830.36 1099.82L1831.11 1104.04L1831.86 1108.24L1832.6 1112.45L1833.36 1116.65L1834.11 1120.85L1834.86 1125.04L1835.62 1129.23L1836.39 1133.41L1837.15 1137.59L1837.92 1141.76L1838.7 1145.92L1839.48 1150.07L1840.27 1154.22L1841.06 1158.36L1841.86 1162.5L1842.67 1166.63L1843.48 1170.76L1844.3 1174.88L1845.14 1179L1845.98 1183.12L1846.83 1187.23L1847.69 1191.35L1848.57 1195.47L1849.45 1199.58L1850.35 1203.7L1851.26 1207.81L1852.19 1211.94L1853.13 1216.06L1854.08 1220.19L1855.05 1224.32L1856.04 1228.45L1857.04 1232.59L1858.05 1236.74L1859.09 1240.9L1860.14 1245.06L1861.22 1249.23L1862.31 1253.41L1863.42 1257.6L1864.55 1261.79L1865.72 1265.99L1866.93 1270.19L1868.2 1274.37L1869.54 1278.54L1870.96 1282.67L1872.49 1286.77L1874.12 1290.82L1875.88 1294.83L1877.78 1298.77L1879.83 1302.65L1882.04 1306.45L1884.43 1310.17L1887.01 1313.8L1889.77 1317.31L1892.73 1320.69L1895.87 1323.92L1899.21 1326.97L1902.75 1329.83L1906.48 1332.47L1910.41 1334.88L1914.54 1337.04L1918.87 1338.93L1923.4 1340.52L1928.14 1341.8L1933.07 1342.76L1938.17 1343.35L1943.39 1343.23L1948.71 1343.12L1954.08 1343.02L1959.46 1342.92L1964.83 1342.84L1970.14 1342.76L1975.35 1342.7L1980.44 1342.64L1985.36 1342.59" fill="none" stroke="#ff0000" stroke-width="5.83" stroke-linecap="butt" stroke-linejoin="round" stroke-dasharray="18.5 12.5" stroke-dashoffset="0"/>
</g>
<g transform="scale(1,1.2)">
<path d="M1344.11 1361L1349.13 1361.04L1354.16 1361.03L1359.19 1361L1364.23 1360.98L1369.26 1360.95L1374.3 1360.93L1379.34 1360.91L1384.39 1360.89L1389.43 1360.87L1394.48 1360.85L1399.53 1360.84L1404.58 1360.83L1409.64 1360.81L1414.69 1360.8L1419.75 1360.8L1424.8 1360.79L1429.86 1360.78L1434.92 1360.78L1439.98 1360.77L1445.05 1360.77L1450.11 1360.77L1455.17 1360.77L1460.24 1360.76L1465.3 1360.73L1470.37 1360.71L1475.43 1360.69L1480.5 1360.67L1485.57 1360.66L1490.63 1360.65L1495.7 1360.64L1500.77 1360.64L1505.83 1360.64L1510.9 1360.65L1515.96 1360.66L1521.03 1360.67L1526.09 1360.68L1531.15 1360.7L1536.22 1360.73L1541.28 1360.75L1546.34 1360.78L1551.4 1360.78L1556.46 1360.78L1561.51 1360.77L1566.57 1360.77L1571.62 1360.76L1576.67 1360.76L1581.72 1360.75L1586.77 1360.74L1591.82 1360.73L1596.86 1360.71L1601.9 1360.7L1606.94 1360.69L1611.98 1360.67L1617.02 1360.65L1622.05 1360.63L1627.08 1360.61L1632.11 1360.58L1637.13 1360.55L1642.16 1360.52L1647.19 1360.48L1652.21 1360.44L1657.24 1360.39L1662.27 1360.33L1667.3 1360.27L1672.34 1360.2L1677.37 1360.12L1682.42 1360.03L1687.46 1359.93L1692.51 1359.82L1697.57 1359.7L1702.64 1359.57L1707.71 1359.42L1712.79 1359.26L1717.87 1359.08L1722.96 1358.86L1728.06 1358.44L1733.17 1358L1738.28 1357.54L1743.4 1357.06L1748.53 1356.56L1753.66 1356.05L1758.8 1355.53L1763.93 1355L1769.04 1354.47L1774.1 1353.94L1779.1 1353.42L1784.02 1352.91L1788.85 1352.09L1793.55 1350.81L1798.13 1349.32L1802.56 1347.6L1806.84 1345.65L1810.96 1343.49L1814.94 1341.12L1818.76 1338.56L1822.45 1335.81L1825.99 1332.9L1829.39 1329.82L1832.65 1326.59L1835.77 1323.23L1838.77 1319.74L1841.63 1316.13L1844.36 1312.42L1846.96 1308.62L1849.46 1304.74L1851.88 1300.83L1854.29 1296.93L1856.72 1293.09L1859.23 1289.34L1861.86 1285.74L1864.67 1282.32L1867.7 1279.14L1870.99 1276.23L1874.61 1273.63L1878.59 1271.4L1883 1269.58L1887.01 1271.18L1890.71 1273.1L1894.13 1275.31L1897.3 1277.79L1900.25 1280.49L1903 1283.4L1905.6 1286.49L1908.07 1289.71L1910.43 1293.05L1912.72 1296.47L1914.98 1299.94L1917.22 1303.44L1919.48 1306.93L1921.79 1310.37L1924.18 1313.76L1926.67 1317.04L1929.31 1320.19L1932.11 1323.19L1935.09 1326.01L1938.25 1328.65L1941.57 1331.1L1945.07 1333.34L1948.73 1335.38L1952.55 1337.19L1956.54 1338.78L1960.68 1340.13L1964.98 1341.24L1969.4 1342.12L1973.94 1342.71L1978.55 1342.66L1983.24 1342.61L1987.96 1342.57L1992.71 1342.54L1997.45 1342.51L2002.17 1342.48L2006.84 1342.46L2011.45 1342.45L2015.97 1342.44L2020.38 1342.42" fill="none" stroke="#0000ff" stroke-width="4.58" stroke-linecap="butt" stroke-linejoin="round" stroke-dasharray="18.5 12.5" stroke-dashoffset="8"/>
</g>
<g transform="scale(1,1.2)">
<path d="M1343.98 1360.84L1349.03 1360.96L1354.09 1361.07L1359.14 1361.1L1364.19 1361.12L1369.24 1361.13L1374.28 1361.14L1379.33 1361.14L1384.37 1361.13L1389.41 1361.12L1394.45 1361.11L1399.49 1361.09L1404.52 1361.07L1409.56 1361.05L1414.59 1361.03L1419.63 1361L1424.66 1360.97L1429.69 1360.94L1434.72 1360.91L1439.76 1360.88L1444.79 1360.85L1449.82 1360.82L1454.85 1360.79L1459.88 1360.71L1464.91 1360.64L1469.94 1360.56L1474.97 1360.49L1480 1360.42L1485.03 1360.35L1490.06 1360.29L1495.09 1360.23L1500.12 1360.17L1505.16 1360.12L1510.19 1360.08L1515.22 1360.05L1520.26 1360.02L1525.3 1360L1530.34 1360L1535.38 1360L1540.42 1360.01L1545.46 1360.04L1550.5 1360.08L1555.55 1360.13L1560.6 1360.18L1565.64 1360.25L1570.69 1360.31L1575.74 1360.39L1580.79 1360.47L1585.84 1360.55L1590.89 1360.63L1595.94 1360.71L1600.99 1360.78L1606.04 1360.86L1611.09 1360.93L1616.14 1360.99L1621.19 1361.05L1626.23 1361.1L1631.28 1361.13L1636.32 1361.16L1641.37 1361.18L1646.41 1361.18L1651.45 1361.16L1656.49 1361.13L1661.52 1361.08L1666.56 1361.01L1671.59 1360.92L1676.62 1360.81L1681.64 1360.68L1686.66 1360.52L1691.68 1360.33L1696.7 1360.12L1701.72 1359.88L1706.73 1359.61L1711.73 1359.31L1716.74 1358.97L1721.73 1358.6L1726.73 1358.2L1731.72 1357.78L1736.71 1357.33L1741.7 1356.86L1746.7 1356.37L1751.69 1355.88L1756.68 1355.37L1761.68 1354.87L1766.68 1354.36L1771.69 1353.85L1776.7 1353.36L1781.72 1352.87L1786.74 1352.41L1791.78 1351.96L1796.82 1351.53L1801.87 1351.12L1806.94 1350.64L1812.01 1350.18L1817.09 1349.73L1822.17 1349.3L1827.23 1348.89L1832.29 1348.49L1837.32 1348.12L1842.32 1347.75L1847.29 1347.41L1852.21 1347.08L1857.09 1346.36L1861.92 1345.51L1866.68 1344.53L1871.38 1343.4L1876.01 1342.11L1880.55 1340.64L1885.01 1338.98L1889.38 1337.11L1893.65 1335.01L1897.81 1332.68L1901.86 1330.09L1905.8 1327.24L1909.62 1324.15L1913.38 1320.92L1917.11 1317.64L1920.85 1314.42L1924.64 1311.36L1928.51 1308.54L1932.51 1306.07L1936.67 1304.05L1941.04 1302.57L1945.63 1301.73L1950.36 1301.61L1955.12 1302.24L1959.83 1303.54L1964.4 1305.4L1968.76 1307.71L1972.85 1310.38L1976.68 1313.32L1980.31 1316.45L1983.8 1319.69L1987.22 1322.97L1990.62 1326.21L1994.06 1329.35L1997.61 1332.29L2001.32 1334.98L2005.26 1337.32L2009.49 1339.25L2014.04 1340.71L2018.89 1341.73L2023.98 1342.39L2029.23 1342.43L2034.59 1342.44L2040 1342.45L2045.4 1342.46L2050.73 1342.48L2055.92 1342.34L2060.92 1342.28L2065.66 1342.38L2070.08 1342.58" fill="none" stroke="#008080" stroke-width="5.42" stroke-linecap="butt" stroke-linejoin="round" stroke-dasharray="18.5 12.5" stroke-dashoffset="16"/>
</g>
<g transform="scale(1,1.2)">
<path d="M1344 1361L1349.04 1361.04L1354.08 1361.07L1359.13 1361.1L1364.17 1361.12L1369.21 1361.13L1374.25 1361.14L1379.29 1361.14L1384.32 1361.13L1389.36 1361.12L1394.4 1361.11L1399.44 1361.09L1404.48 1361.07L1409.51 1361.05L1414.55 1361.03L1419.59 1361L1424.62 1360.97L1429.66 1360.94L1434.7 1360.91L1439.73 1360.88L1444.77 1360.85L1449.8 1360.82L1454.84 1360.79L1459.88 1360.76L1464.91 1360.73L1469.95 1360.71L1474.99 1360.69L1480.03 1360.67L1485.06 1360.66L1490.1 1360.65L1495.14 1360.64L1500.18 1360.64L1505.22 1360.64L1510.26 1360.65L1515.3 1360.65L1520.34 1360.67L1525.38 1360.68L1530.42 1360.7L1535.46 1360.72L1540.5 1360.75L1545.54 1360.78L1550.59 1360.81L1555.63 1360.84L1560.67 1360.88L1565.72 1360.92L1570.76 1360.97L1575.81 1361.01L1580.85 1361.06L1585.9 1361.12L1590.94 1361.17L1595.99 1361.23L1601.03 1361.29L1606.08 1361.35L1611.13 1361.41L1616.17 1361.46L1621.22 1361.51L1626.27 1361.56L1631.31 1361.59L1636.35 1361.62L1641.4 1361.63L1646.44 1361.63L1651.48 1361.62L1656.52 1361.59L1661.56 1361.54L1666.59 1361.47L1671.63 1361.38L1676.66 1361.27L1681.69 1361.13L1686.71 1360.96L1691.74 1360.77L1696.76 1360.54L1701.78 1360.29L1706.79 1360L1711.81 1359.68L1716.82 1359.33L1721.82 1358.95L1726.83 1358.55L1731.83 1358.12L1736.83 1357.67L1741.83 1357.21L1746.83 1356.73L1751.83 1356.23L1756.82 1355.73L1761.82 1355.22L1766.82 1354.7L1771.81 1354.18L1776.81 1353.66L1781.81 1353.14L1786.8 1352.62L1791.8 1352.12L1796.8 1351.62L1801.8 1351.13L1806.81 1350.66L1811.81 1350.2L1816.82 1349.76L1821.83 1349.33L1826.84 1348.92L1831.85 1348.53L1836.87 1348.15L1841.89 1347.78L1846.9 1347.43L1851.92 1347.1L1856.94 1346.78L1861.96 1346.47L1866.99 1346.18L1872.01 1345.9L1877.03 1345.63L1882.06 1345.38L1887.09 1345.14L1892.11 1344.91L1897.14 1344.69L1902.17 1344.49L1907.2 1344.3L1912.23 1344.12L1917.26 1343.95L1922.29 1343.79L1927.33 1343.64L1932.36 1343.5L1937.39 1343.37L1942.43 1343.25L1947.46 1343.15L1952.5 1343.05L1957.54 1342.95L1962.57 1342.87L1967.61 1342.8L1972.65 1342.73L1977.69 1342.67L1982.73 1342.62L1987.77 1342.57L1992.81 1342.53L1997.85 1342.5L2002.89 1342.48L2007.93 1342.46L2012.97 1342.44L2018.02 1342.43L2023.06 1342.43L2028.1 1342.43L2033.14 1342.43L2038.19 1342.44L2043.23 1342.46L2048.27 1342.47L2053.32 1342.49L2058.36 1342.51L2063.4 1342.54L2068.45 1342.57L2073.49 1342.6L2078.54 1342.63L2083.58 1342.66L2088.62 1342.69L2093.67 1342.73L2098.71 1342.76L2103.76 1342.8L2108.8 1342.83L2113.84 1342.87L2118.89 1342.9L2123.93 1342.93L2128.97 1342.97L2134.02 1343L2139.06 1343.03L2144.1 1343.05L2149.14 1343.08L2154.19 1343.1L2159.23 1343.12L2164.27 1343.13L2169.31 1343.15L2174.35 1343.16L2179.39 1343.16L2184.43 1343.16L2189.47 1343.15L2194.51 1343.14L2199.55 1343.13L2204.59 1343.11L2209.62 1343.08L2214.66 1343.05L2219.7 1343.01L2224.73 1342.97L2229.77 1342.91L2234.8 1342.85L2239.83 1342.78L2244.87 1342.71L2249.9 1342.62L2254.93 1342.53L2259.96 1342.43L2264.99 1342.32L2270.02 1342.2L2275.05 1342.07L2280.08 1341.93L2285.1 1341.78L2290.13 1341.62L2295.16 1341.45L2300.18 1341.27L2305.2 1341.08" fill="none" stroke="#ff00ff" stroke-width="6.25" stroke-linecap="butt" stroke-linejoin="round" stroke-dasharray="18.5 12.5" stroke-dashoffset="24"/>
</g>
<rect x="1783.1" y="1000.75" width="8.2" height="13.3" rx="0.55" ry="0.8" fill="#000"/>
<rect x="1783.1" y="1050.27" width="8.2" height="13.3" rx="0.55" ry="0.8" fill="#000"/>
<rect x="1783.1" y="1099.79" width="8.2" height="13.3" rx="0.55" ry="0.8" fill="#000"/>
<rect x="1783.1" y="1149.31" width="8.2" height="13.3" rx="0.55" ry="0.8" fill="#000"/>
<rect x="1783.1" y="1198.83" width="8.2" height="13.3" rx="0.55" ry="0.8" fill="#000"/>
<rect x="1783.1" y="1248.35" width="8.2" height="13.3" rx="0.55" ry="0.8" fill="#000"/>
<rect x="1783.1" y="1297.87" width="8.2" height="13.3" rx="0.55" ry="0.8" fill="#000"/>
<rect x="1783.1" y="1347.39" width="8.2" height="13.3" rx="0.55" ry="0.8" fill="#000"/>
<rect x="1783.1" y="1396.91" width="8.2" height="13.3" rx="0.55" ry="0.8" fill="#000"/>
<rect x="1783.1" y="1446.43" width="8.2" height="13.3" rx="0.55" ry="0.8" fill="#000"/>
<rect x="1783.1" y="1495.95" width="8.2" height="13.3" rx="0.55" ry="0.8" fill="#000"/>
<rect x="1783.1" y="1545.47" width="8.2" height="13.3" rx="0.55" ry="0.8" fill="#000"/>
<rect x="1783.1" y="1594.99" width="8.2" height="13.3" rx="0.55" ry="0.8" fill="#000"/>
<rect x="1783.1" y="1644.51" width="8.2" height="13.3" rx="0.55" ry="0.8" fill="#000"/>
<rect x="1338.5" y="984.3" width="11" height="720.2" fill="#000"/>
<rect x="2301.3" y="984.3" width="8" height="720.2" fill="#000"/>
<rect x="1338.5" y="984.3" width="970.8" height="11" fill="#000"/>
<rect x="1338.5" y="1696.5" width="970.8" height="8" fill="#000"/>
<rect x="1340.2" y="1683" width="7.6" height="14.5" fill="#000"/>
<rect x="1436.33" y="1690" width="7.6" height="7.5" fill="#000"/>
<rect x="1532.46" y="1683" width="7.6" height="14.5" fill="#000"/>
<rect x="1628.59" y="1690" width="7.6" height="7.5" fill="#000"/>
<rect x="1724.72" y="1683" width="7.6" height="14.5" fill="#000"/>
<rect x="1820.85" y="1690" width="7.6" height="7.5" fill="#000"/>
<rect x="1916.98" y="1683" width="7.6" height="14.5" fill="#000"/>
<rect x="2013.11" y="1690" width="7.6" height="7.5" fill="#000"/>
<rect x="2109.24" y="1683" width="7.6" height="14.5" fill="#000"/>
<rect x="2205.37" y="1690" width="7.6" height="7.5" fill="#000"/>
<rect x="2301.5" y="1683" width="7.6" height="14.5" fill="#000"/>
<text x="1342.7" y="1761.5" font-family="'Liberation Sans', Arial, Helvetica, sans-serif" font-size="56.5" font-weight="normal" fill="#000" text-anchor="middle" textLength="97.7" lengthAdjust="spacingAndGlyphs">280</text>
<text x="1534.96" y="1761.5" font-family="'Liberation Sans', Arial, Helvetica, sans-serif" font-size="56.5" font-weight="normal" fill="#000" text-anchor="middle" textLength="97.7" lengthAdjust="spacingAndGlyphs">282</text>
<text x="1727.22" y="1761.5" font-family="'Liberation Sans', Arial, Helvetica, sans-serif" font-size="56.5" font-weight="normal" fill="#000" text-anchor="middle" textLength="97.7" lengthAdjust="spacingAndGlyphs">284</text>
<text x="1919.48" y="1761.5" font-family="'Liberation Sans', Arial, Helvetica, sans-serif" font-size="56.5" font-weight="normal" fill="#000" text-anchor="middle" textLength="97.7" lengthAdjust="spacingAndGlyphs">286</text>
<text x="2111.74" y="1761.5" font-family="'Liberation Sans', Arial, Helvetica, sans-serif" font-size="56.5" font-weight="normal" fill="#000" text-anchor="middle" textLength="97.7" lengthAdjust="spacingAndGlyphs">288</text>
<text x="2304" y="1761.5" font-family="'Liberation Sans', Arial, Helvetica, sans-serif" font-size="56.5" font-weight="normal" fill="#000" text-anchor="middle" textLength="97.7" lengthAdjust="spacingAndGlyphs">290</text>
<text x="1525.6" y="1843.3" font-family="'Liberation Sans', Arial, Helvetica, sans-serif" font-size="75" font-weight="normal" fill="#000" text-anchor="start" textLength="683" lengthAdjust="spacingAndGlyphs">Binding Energy (eV)</text>
<text x="1309.8" y="1584.5" font-family="'Liberation Sans', Arial, Helvetica, sans-serif" font-size="75" font-weight="normal" fill="#000" text-anchor="start" textLength="484.4" lengthAdjust="spacingAndGlyphs" transform="rotate(-90 1309.8 1584.5)">Intensity (a.u.)</text>
<text x="1347.5" y="1573.7" font-family="'Liberation Serif', 'Times New Roman', Times, serif" font-size="80" font-weight="bold" fill="#000" text-anchor="start" textLength="105" lengthAdjust="spacingAndGlyphs">(d)</text>
<text x="1518.5" y="1060.6" font-family="'Liberation Sans', Arial, Helvetica, sans-serif" font-size="56" font-weight="normal" fill="#000" text-anchor="start" textLength="146" lengthAdjust="spacingAndGlyphs">284.6</text>
<polygon points="1674,1036 1729.8,1036 1726.2,1026.85 1728.2,1025.65 1741.8,1025.65 1777.8,1036.4 1777.8,1046.4 1741.8,1057.15 1728.2,1057.15 1726.2,1055.95 1729.8,1046.8 1674,1046.8" fill="#000"/>
<line x1="1838" y1="1042.6" x2="1973.5" y2="1042.6" stroke="#000" stroke-width="10" stroke-linecap="butt"/>
<line x1="1838" y1="1112.7" x2="1973.5" y2="1112.7" stroke="#ff0000" stroke-width="7" stroke-dasharray="18.5 12.5"/>
<line x1="1838" y1="1182.5" x2="1973.5" y2="1182.5" stroke="#0000ff" stroke-width="8" stroke-dasharray="18.5 12.5"/>
<line x1="1838" y1="1252.9" x2="1973.5" y2="1252.9" stroke="#008080" stroke-width="9" stroke-dasharray="18.5 12.5"/>
<line x1="1838" y1="1322.6" x2="1973.5" y2="1322.6" stroke="#ff00ff" stroke-width="6" stroke-dasharray="18.5 12.5"/>
<text x="1985.5" y="1062.3" font-family="'Liberation Sans', Arial, Helvetica, sans-serif" font-size="57" font-weight="normal" fill="#000" text-anchor="start">3</text>
<text x="2015" y="1032" font-family="'Liberation Sans', Arial, Helvetica, sans-serif" font-size="33" font-weight="normal" fill="#000" text-anchor="start">#</text>
<text x="2039" y="1062.3" font-family="'Liberation Sans', Arial, Helvetica, sans-serif" font-size="57" font-weight="normal" fill="#000" text-anchor="start" textLength="117" lengthAdjust="spacingAndGlyphs">-C1s</text>
<text x="1985.3" y="1131.3" font-family="'Liberation Sans', Arial, Helvetica, sans-serif" font-size="57" font-weight="normal" fill="#000" text-anchor="start" textLength="299.6" lengthAdjust="spacingAndGlyphs">C1s Peak A</text>
<text x="1985.3" y="1201.5" font-family="'Liberation Sans', Arial, Helvetica, sans-serif" font-size="57" font-weight="normal" fill="#000" text-anchor="start" textLength="301" lengthAdjust="spacingAndGlyphs">C1s Peak B</text>
<text x="1985.3" y="1272" font-family="'Liberation Sans', Arial, Helvetica, sans-serif" font-size="57" font-weight="normal" fill="#000" text-anchor="start" textLength="303" lengthAdjust="spacingAndGlyphs">C1s Peak C</text>
<text x="1984.8" y="1341.9" font-family="'Liberation Sans', Arial, Helvetica, sans-serif" font-size="57" font-weight="normal" fill="#000" text-anchor="start" textLength="303.8" lengthAdjust="spacingAndGlyphs">Background</text>
<text x="1533" y="1326.9" font-family="'Liberation Sans', Arial, Helvetica, sans-serif" font-size="55" font-weight="normal" fill="#ff0000" text-anchor="start">sp</text>
<text x="1595.3" y="1296.1" font-family="'Liberation Sans', Arial, Helvetica, sans-serif" font-size="36" font-weight="normal" fill="#ff0000" text-anchor="start">2</text>
<polygon points="1583.41,1348.26 1679.11,1460.6 1671.22,1463.76 1714.3,1489.7 1693.66,1443.84 1689.58,1451.31 1589.39,1342.94" fill="#ff0000"/>
<text x="2034" y="1432.5" font-family="'Liberation Sans', Arial, Helvetica, sans-serif" font-size="55" font-weight="normal" fill="#0000ff" text-anchor="start">sp</text>
<text x="2096.3" y="1401.7" font-family="'Liberation Sans', Arial, Helvetica, sans-serif" font-size="36" font-weight="normal" fill="#0000ff" text-anchor="start">3</text>
<polygon points="2021.19,1433.96 1932.68,1506 1929.65,1498.05 1903,1540.7 1949.19,1520.82 1941.8,1516.62 2026.41,1440.04" fill="#0000ff"/>
<text x="2099" y="1523.9" font-family="'Liberation Sans', Arial, Helvetica, sans-serif" font-size="44" font-weight="normal" fill="#008080" text-anchor="start" textLength="82" lengthAdjust="spacingAndGlyphs">C-O</text>
<polygon points="2084.56,1523.2 2031.16,1566.19 2028.79,1558.96 2000.5,1602.5 2047.28,1579.98 2040.41,1576.7 2089.84,1529.2" fill="#008080"/>
<g transform="scale(1,1.2)">
<path d="M151.14 2135.72L156.15 2135.84L161.15 2135.95L166.16 2136.04L171.18 2136.12L176.19 2136.18L181.2 2136.23L186.22 2136.26L191.23 2136.28L196.25 2136.29L201.27 2136.29L206.29 2136.27L211.31 2136.25L216.33 2136.21L221.35 2136.16L226.37 2136.11L231.39 2136.05L236.42 2135.97L241.44 2135.9L246.46 2135.81L251.49 2135.72L256.51 2135.62L261.54 2135.52L266.56 2135.41L271.58 2135.3L276.61 2135.19L281.63 2135.07L286.65 2134.96L291.68 2134.84L296.7 2134.72L301.72 2134.6L306.74 2134.48L311.77 2134.36L316.79 2134.24L321.81 2134.13L326.83 2134.01L331.84 2133.9L336.86 2133.8L341.88 2133.7L346.89 2133.6L351.91 2133.51L356.92 2133.43L361.93 2133.34L366.94 2133.24L371.95 2133.14L376.96 2133.01L381.97 2132.86L386.97 2132.68L391.98 2132.46L396.98 2132.19L401.98 2131.88L406.98 2131.51L411.98 2131.08L416.97 2130.58L421.97 2130L426.96 2129.35L431.95 2128.61L436.93 2127.77L441.88 2126.83L446.78 2125.76L451.62 2124.57L456.38 2123.23L461.04 2121.73L465.58 2120.07L469.99 2118.22L474.25 2116.19L478.34 2113.94L482.25 2111.49L485.95 2108.8L489.44 2105.87L492.69 2102.69L495.7 2099.29L498.48 2095.68L501.04 2091.92L503.38 2088.03L505.52 2084.06L507.46 2080.03L509.2 2075.98L510.77 2071.95L512.18 2067.93L513.46 2063.92L514.65 2059.92L515.77 2055.91L516.86 2051.89L517.93 2047.86L519 2043.82L520.06 2039.76L521.12 2035.69L522.16 2031.61L523.2 2027.52L524.22 2023.42L525.22 2019.31L526.21 2015.19L527.19 2011.06L528.14 2006.93L529.07 2002.79L529.98 1998.65L530.86 1994.5L531.72 1990.35L532.55 1986.2L533.35 1982.04L534.12 1977.88L534.86 1973.73L535.56 1969.57L536.23 1965.42L536.87 1961.26L537.47 1957.11L538.04 1952.96L538.58 1948.81L539.1 1944.66L539.6 1940.51L540.08 1936.36L540.54 1932.21L540.99 1928.06L541.42 1923.92L541.84 1919.77L542.26 1915.62L542.66 1911.47L543.07 1907.32L543.48 1903.17L543.88 1899.02L544.3 1894.86L544.72 1890.71L545.14 1886.55L545.58 1882.39L546.04 1878.24L546.51 1874.07L546.99 1869.91L547.48 1865.75L547.99 1861.58L548.51 1857.41L549.04 1853.24L549.58 1849.08L550.13 1844.91L550.69 1840.73L551.26 1836.56L551.83 1832.39L552.41 1828.22L553 1824.05L553.59 1819.88L554.19 1815.7L554.79 1811.53L555.39 1807.36L556 1803.19L556.61 1799.02L557.21 1794.86L557.82 1790.69L558.43 1786.52L559.04 1782.36L559.64 1778.2L560.24 1774.03L560.84 1769.87L561.44 1765.72L562.02 1761.56L562.61 1757.41L563.18 1753.26L563.75 1749.11L564.32 1744.97L564.87 1740.82L565.41 1736.68L565.95 1732.55L566.47 1728.42L566.98 1724.29L567.49 1720.16L568 1716.04L568.53 1711.92L569.1 1707.79L569.72 1703.67L570.4 1699.55L571.18 1695.43L572.05 1691.3L573.03 1687.16L574.15 1683.03L575.41 1678.88L576.83 1674.73L578.45 1670.6L580.54 1666.75L583.54 1663.64L587.66 1661.69L592.48 1661.17L597.47 1662.03L602.11 1663.96L606.21 1666.65L609.66 1669.82L612.46 1673.28L614.72 1676.98L616.55 1680.87L618.08 1684.89L619.42 1688.99L620.68 1693.12L621.99 1697.23L623.42 1701.28L624.97 1705.28L626.61 1709.24L628.32 1713.17L630.07 1717.07L631.84 1720.97L633.6 1724.88L635.33 1728.79L637.03 1732.72L638.72 1736.65L640.4 1740.59L642.08 1744.53L643.78 1748.47L645.49 1752.41L647.24 1756.34L649.01 1760.26L650.79 1764.18L652.58 1768.09L654.37 1772.01L656.14 1775.93L657.9 1779.85L659.63 1783.78L661.32 1787.72L662.99 1791.66L664.62 1795.61L666.23 1799.57L667.81 1803.54L669.37 1807.51L670.91 1811.49L672.42 1815.47L673.92 1819.46L675.39 1823.45L676.85 1827.45L678.3 1831.45L679.73 1835.45L681.15 1839.46L682.56 1843.47L683.96 1847.48L685.36 1851.49L686.75 1855.51L688.14 1859.52L689.52 1863.54L690.9 1867.56L692.29 1871.58L693.67 1875.6L695.06 1879.61L696.46 1883.63L697.86 1887.65L699.27 1891.66L700.7 1895.67L702.13 1899.68L703.58 1903.69L705.04 1907.69L706.52 1911.7L708.02 1915.69L709.53 1919.69L711.07 1923.67L712.63 1927.66L714.22 1931.63L715.83 1935.6L717.46 1939.56L719.12 1943.52L720.82 1947.46L722.54 1951.39L724.29 1955.31L726.08 1959.23L727.9 1963.12L729.76 1967.01L731.66 1970.88L733.59 1974.74L735.56 1978.58L737.58 1982.41L739.64 1986.22L741.74 1990.01L743.88 1993.78L746.08 1997.54L748.32 2001.28L750.61 2004.99L752.95 2008.68L755.34 2012.36L757.79 2016.01L760.29 2019.63L762.85 2023.24L765.46 2026.81L768.13 2030.37L770.87 2033.89L773.66 2037.39L776.52 2040.86L779.44 2044.31L782.43 2047.72L785.48 2051.09L788.61 2054.42L791.81 2057.69L795.1 2060.89L798.46 2064.02L801.92 2067.07L805.46 2070.03L809.09 2072.89L812.82 2075.64L816.65 2078.28L820.59 2080.78L824.63 2083.16L828.77 2085.39L833.04 2087.47L837.41 2089.39L841.91 2091.14L846.53 2092.72L851.25 2094.14L856.06 2095.39L860.95 2096.49L865.91 2097.45L870.92 2098.26L875.98 2098.94L882.98 2099.31L889.98 2100.4L896.98 2100.47L903.98 2099.67L910.98 2101.45L917.98 2100.86L924.98 2100.94L931.98 2098.89L938.98 2098.89L945.98 2098.15L952.98 2099.44L959.98 2098.37L966.98 2098.19L973.98 2099.06L980.98 2100.46L987.98 2100.83L994.98 2100.37L1001.98 2100.91L1008.98 2103.29L1015.98 2103.49L1022.98 2104.69L1029.98 2104.4L1036.98 2105.25L1043.98 2107.35L1050.98 2107.58L1057.98 2107.5L1064.98 2109.71L1071.98 2109.39L1078.98 2109.81L1085.98 2108.26L1092.98 2109.54L1099.98 2107.84L1106.98 2109.76L1111.11 2109.55" fill="none" stroke="#000000" stroke-width="8.17" stroke-linecap="butt" stroke-linejoin="round"/>
</g>
<g transform="scale(1,1.2)">
<path d="M151.19 2136.86L156.18 2136.88L161.18 2136.89L166.19 2136.9L171.2 2136.9L176.21 2136.9L181.23 2136.9L186.25 2136.89L191.27 2136.8L196.29 2136.71L201.32 2136.63L206.35 2136.56L211.38 2136.49L216.42 2136.44L221.45 2136.39L226.49 2136.34L231.53 2136.31L236.57 2136.28L241.61 2136.26L246.65 2136.25L251.69 2136.24L256.73 2136.24L261.78 2136.24L266.82 2136.25L271.86 2136.26L276.9 2136.24L281.94 2136.19L286.97 2136.14L292.01 2136.09L297.04 2136.05L302.07 2136.01L307.1 2135.96L312.13 2135.92L317.16 2135.88L322.18 2135.84L327.2 2135.81L332.21 2135.78L337.22 2135.75L342.23 2135.72L347.24 2135.7L352.24 2135.68L357.23 2135.66L362.23 2135.64L367.23 2135.6L372.23 2135.55L377.24 2135.47L382.25 2135.36L387.28 2135.21L392.32 2135.03L397.38 2134.79L402.45 2134.49L407.55 2134.14L412.66 2133.71L417.77 2133.2L422.86 2132.59L427.92 2131.86L432.92 2131.01L437.85 2130.02L442.7 2128.86L447.43 2127.54L452.05 2126.02L456.52 2124.31L460.83 2122.38L464.97 2120.23L468.94 2117.87L472.74 2115.3L476.37 2112.54L479.84 2109.61L483.15 2106.52L486.29 2103.27L489.28 2099.89L492.12 2096.39L494.81 2092.77L497.34 2089.05L499.73 2085.25L501.98 2081.38L504.09 2077.44L506.06 2073.46L507.89 2069.44L509.59 2065.41L511.16 2061.36L512.62 2057.31L513.97 2053.25L515.23 2049.19L516.43 2045.13L517.58 2041.06L518.7 2036.99L519.79 2032.92L520.86 2028.84L521.9 2024.76L522.93 2020.67L523.93 2016.58L524.92 2012.49L525.88 2008.4L526.83 2004.3L527.75 2000.2L528.66 1996.09L529.55 1991.98L530.42 1987.87L531.27 1983.76L532.11 1979.64L532.93 1975.52L533.74 1971.4L534.53 1967.27L535.31 1963.15L536.07 1959.02L536.82 1954.88L537.56 1950.75L538.28 1946.61L538.99 1942.47L539.69 1938.33L540.38 1934.19L541.06 1930.04L541.73 1925.89L542.39 1921.74L543.04 1917.59L543.68 1913.44L544.32 1909.29L544.94 1905.13L545.56 1900.97L546.18 1896.82L546.78 1892.66L547.39 1888.49L547.98 1884.33L548.58 1880.17L549.16 1876L549.75 1871.84L550.33 1867.67L550.91 1863.5L551.49 1859.34L552.06 1855.17L552.64 1851L553.21 1846.83L553.79 1842.66L554.36 1838.49L554.94 1834.32L555.52 1830.14L556.09 1825.97L556.68 1821.8L557.26 1817.63L557.85 1813.46L558.44 1809.29L559.04 1805.12L559.64 1800.95L560.25 1796.78L560.87 1792.61L561.49 1788.44L562.11 1784.27L562.75 1780.1L563.39 1775.93L564.04 1771.76L564.71 1767.6L565.38 1763.43L566.06 1759.27L566.75 1755.1L567.45 1750.94L568.16 1746.78L568.89 1742.62L569.63 1738.46L570.38 1734.31L571.14 1730.16L571.92 1726.01L572.71 1721.87L573.52 1717.74L574.33 1713.63L575.17 1709.53L576.01 1705.44L576.87 1701.38L577.75 1697.34L578.64 1693.32L579.6 1689.3L580.66 1685.26L581.88 1681.19L583.32 1677.06L585.02 1672.84L587.11 1668.65L589.91 1664.95L593.77 1662.28L598.44 1661.22L602.79 1662.32L605.96 1665.29L608.19 1669.2L610.09 1673.21L611.76 1677.25L613.22 1681.31L614.5 1685.38L615.63 1689.47L616.63 1693.57L617.53 1697.68L618.34 1701.8L619.1 1705.93L619.83 1710.06L620.56 1714.19L621.29 1718.33L622.02 1722.46L622.75 1726.6L623.49 1730.74L624.22 1734.88L624.95 1739.02L625.69 1743.16L626.42 1747.3L627.16 1751.45L627.9 1755.59L628.63 1759.74L629.37 1763.89L630.1 1768.03L630.84 1772.18L631.57 1776.33L632.3 1780.48L633.04 1784.63L633.77 1788.78L634.5 1792.94L635.23 1797.09L635.96 1801.24L636.68 1805.39L637.41 1809.55L638.13 1813.7L638.85 1817.85L639.57 1822.01L640.28 1826.16L641 1830.31L641.71 1834.47L642.42 1838.62L643.12 1842.77L643.82 1846.93L644.52 1851.08L645.22 1855.23L645.91 1859.38L646.6 1863.54L647.29 1867.69L647.98 1871.84L648.67 1875.99L649.35 1880.14L650.05 1884.28L650.74 1888.43L651.43 1892.58L652.13 1896.72L652.83 1900.87L653.54 1905.01L654.26 1909.16L654.98 1913.3L655.71 1917.44L656.44 1921.58L657.19 1925.72L657.94 1929.85L658.7 1933.99L659.48 1938.12L660.27 1942.26L661.07 1946.39L661.88 1950.52L662.7 1954.64L663.54 1958.77L664.4 1962.9L665.27 1967.02L666.16 1971.14L667.07 1975.26L667.99 1979.37L668.93 1983.49L669.9 1987.6L670.88 1991.71L671.89 1995.82L672.91 1999.93L673.96 2004.03L675.03 2008.14L676.13 2012.24L677.25 2016.33L678.41 2020.42L679.6 2024.51L680.83 2028.59L682.11 2032.65L683.44 2036.71L684.83 2040.75L686.29 2044.77L687.81 2048.78L689.41 2052.77L691.08 2056.73L692.84 2060.67L694.69 2064.59L696.64 2068.48L698.68 2072.35L700.83 2076.18L703.09 2079.97L705.48 2083.71L708 2087.37L710.68 2090.91L713.53 2094.33L716.56 2097.59L719.79 2100.67L723.22 2103.54L726.89 2106.18L730.79 2108.57L734.94 2110.68L739.36 2112.49L744.06 2113.97L749.01 2115.14L754.16 2116.03L759.44 2116.68L764.81 2117.13L770.2 2117.41L775.55 2117.57L780.82 2117.64L785.93 2117.66L790.85 2117.61L795.5 2117.52L799.82 2117.44" fill="none" stroke="#ff0000" stroke-width="7.08" stroke-linecap="butt" stroke-linejoin="round" stroke-dasharray="18.5 12.5" stroke-dashoffset="0"/>
</g>
<g transform="scale(1,1.2)">
<path d="M151.07 2136.99L156.11 2136.98L161.15 2136.98L166.18 2136.97L171.22 2136.97L176.26 2136.96L181.29 2136.95L186.33 2136.9L191.36 2136.8L196.39 2136.71L201.42 2136.63L206.45 2136.56L211.48 2136.49L216.51 2136.43L221.54 2136.39L226.57 2136.34L231.6 2136.31L236.63 2136.28L241.66 2136.26L246.68 2136.25L251.71 2136.24L256.74 2136.24L261.76 2136.24L266.79 2136.25L271.81 2136.26L276.84 2136.27L281.87 2136.3L286.89 2136.32L291.92 2136.35L296.95 2136.38L301.97 2136.42L307 2136.45L312.03 2136.5L317.05 2136.54L322.08 2136.58L327.11 2136.63L332.14 2136.66L337.17 2136.65L342.2 2136.64L347.23 2136.63L352.26 2136.63L357.29 2136.62L362.32 2136.61L367.35 2136.61L372.38 2136.6L377.42 2136.6L382.45 2136.6L387.49 2136.59L392.52 2136.59L397.56 2136.59L402.6 2136.59L407.64 2136.59L412.68 2136.58L417.72 2136.57L422.75 2136.56L427.79 2136.55L432.83 2136.53L437.87 2136.51L442.9 2136.48L447.94 2136.44L452.97 2136.39L458 2136.34L463.03 2136.28L468.05 2136.21L473.08 2136.13L478.1 2136.04L483.12 2135.93L488.13 2135.82L493.15 2135.69L498.15 2135.55L503.16 2135.39L508.16 2135.22L513.16 2135.03L518.16 2134.84L523.17 2134.64L528.19 2134.44L533.22 2134.24L538.27 2134.05L543.35 2133.73L548.46 2133.33L553.6 2132.91L558.77 2132.47L563.98 2132.02L569.19 2131.55L574.32 2131.08L579.31 2130.62L584.07 2130.17L588.55 2129.75L592.68 2128.05L596.49 2125.57L600 2122.69L603.27 2119.52L606.34 2116.15L609.25 2112.68L612.01 2109.13L614.62 2105.5L617.08 2101.8L619.42 2098.03L621.63 2094.2L623.71 2090.31L625.69 2086.38L627.55 2082.4L629.32 2078.38L630.99 2074.33L632.58 2070.26L634.08 2066.16L635.51 2062.05L636.87 2057.92L638.17 2053.8L639.41 2049.68L640.61 2045.56L641.76 2041.46L642.88 2037.37L643.97 2033.31L645.03 2029.26L646.06 2025.22L647.08 2021.19L648.07 2017.16L649.05 2013.15L650.03 2009.13L650.99 2005.12L651.96 2001.1L652.92 1997.09L653.89 1993.06L654.86 1989.02L655.85 1984.98L656.85 1980.92L657.88 1976.84L658.92 1972.75L659.99 1968.64L661.09 1964.5L662.22 1960.34L663.39 1956.14L664.6 1951.92L665.85 1947.67L667.28 1943.48L669.34 1939.66L672.54 1936.6L676.88 1934.92L681.5 1935.51L685.51 1937.93L688.56 1941.38L690.94 1945.36L692.95 1949.43L694.69 1953.47L696.23 1957.5L697.62 1961.52L698.9 1965.53L700.13 1969.54L701.34 1973.54L702.54 1977.55L703.73 1981.56L704.91 1985.58L706.09 1989.59L707.27 1993.61L708.44 1997.64L709.62 2001.67L710.8 2005.7L711.98 2009.74L713.17 2013.79L714.38 2017.85L715.59 2021.91L716.82 2025.99L718.06 2030.07L719.32 2034.16L720.6 2038.27L721.9 2042.39L723.23 2046.51L724.58 2050.66L725.96 2054.81L727.37 2058.98L728.83 2063.14L730.36 2067.29L731.97 2071.39L733.68 2075.44L735.52 2079.41L737.5 2083.28L739.64 2087.03L741.96 2090.66L744.48 2094.13L747.21 2097.42L750.19 2100.53L753.41 2103.43L756.92 2106.09L760.72 2108.51L764.83 2110.66L769.27 2112.53L774.04 2114.1L779.08 2115.4L784.33 2116.43L789.72 2117.23L795.18 2117.53L800.65 2117.43L806.06 2117.34L811.35 2117.26L816.46 2117.19L821.3 2117.12L825.83 2117.07L829.97 2117.03" fill="none" stroke="#0000ff" stroke-width="5" stroke-linecap="butt" stroke-linejoin="round" stroke-dasharray="18.5 12.5" stroke-dashoffset="8"/>
</g>
<g transform="scale(1,1.2)">
<path d="M151.17 2137.53L156.21 2137.39L161.26 2137.25L166.31 2137.13L171.36 2137.02L176.41 2136.92L181.46 2136.83L186.51 2136.76L191.57 2136.69L196.62 2136.63L201.68 2136.58L206.74 2136.54L211.8 2136.49L216.85 2136.43L221.92 2136.38L226.98 2136.34L232.04 2136.31L237.1 2136.28L242.17 2136.26L247.23 2136.25L252.3 2136.24L257.36 2136.24L262.43 2136.24L267.49 2136.25L272.56 2136.26L277.63 2136.28L282.69 2136.3L287.76 2136.33L292.83 2136.36L297.9 2136.39L302.97 2136.42L308.04 2136.46L313.1 2136.5L318.17 2136.55L323.24 2136.59L328.31 2136.64L333.38 2136.69L338.44 2136.74L343.51 2136.79L348.58 2136.84L353.64 2136.89L358.71 2136.94L363.78 2136.99L368.84 2137.04L373.91 2137.09L378.97 2137.14L384.03 2137.19L389.09 2137.19L394.16 2137.17L399.22 2137.14L404.28 2137.1L409.34 2137.06L414.39 2137.01L419.45 2136.94L424.51 2136.87L429.56 2136.79L434.61 2136.7L439.67 2136.6L444.72 2136.49L449.77 2136.36L454.81 2136.22L459.86 2136.08L464.91 2135.92L469.95 2135.75L475 2135.57L480.04 2135.39L485.09 2135.2L490.13 2135L495.18 2134.8L500.23 2134.6L505.28 2134.39L510.33 2134.18L515.38 2133.97L520.44 2133.75L525.49 2133.54L530.55 2133.33L535.62 2133.12L540.68 2132.91L545.75 2132.69L550.82 2132.47L555.88 2132.23L560.95 2131.97L566.02 2131.69L571.08 2131.38L576.14 2130.92L581.2 2130.44L586.25 2129.97L591.3 2129.49L596.34 2129.01L601.38 2128.53L606.41 2128.05L611.43 2127.58L616.44 2127.03L621.44 2126.29L626.42 2125.47L631.36 2124.52L636.23 2123.4L641.01 2122.07L645.68 2120.5L650.24 2118.71L654.66 2116.7L658.95 2114.49L663.09 2112.1L667.07 2109.53L670.87 2106.81L674.5 2103.94L677.97 2100.93L681.28 2097.8L684.45 2094.55L687.5 2091.2L690.43 2087.76L693.27 2084.23L696.02 2080.63L698.7 2076.97L701.33 2073.26L703.9 2069.51L706.45 2065.73L708.97 2061.92L711.49 2058.11L714.03 2054.31L716.59 2050.53L719.24 2046.83L722.01 2043.26L724.97 2039.89L728.14 2036.75L731.58 2033.9L735.34 2031.4L739.47 2029.29L744 2027.64L749 2026.5L753.92 2027.88L758.27 2029.91L762.19 2032.43L765.78 2035.28L769.13 2038.33L772.3 2041.54L775.3 2044.89L778.17 2048.35L780.93 2051.92L783.62 2055.56L786.25 2059.27L788.87 2063L791.48 2066.76L794.14 2070.51L796.85 2074.24L799.65 2077.93L802.57 2081.55L805.63 2085.08L808.84 2088.52L812.2 2091.83L815.71 2095.01L819.37 2098.03L823.19 2100.88L827.15 2103.55L831.27 2106.01L835.54 2108.25L839.96 2110.25L844.53 2112L849.26 2113.48L854.11 2114.7L859.07 2115.69L864.12 2116.46L869.24 2116.81L874.39 2116.8L879.57 2116.8L884.75 2116.8L889.9 2116.81L895.01 2116.82L900.05 2116.83" fill="none" stroke="#008080" stroke-width="5.42" stroke-linecap="butt" stroke-linejoin="round" stroke-dasharray="18.5 12.5" stroke-dashoffset="16"/>
</g>
<g transform="scale(1,1.2)">
<path d="M151.17 2137.87L156.19 2137.7L161.21 2137.54L166.23 2137.39L171.25 2137.25L176.27 2137.13L181.29 2137.01L186.32 2136.9L191.34 2136.8L196.36 2136.71L201.39 2136.63L206.42 2136.56L211.44 2136.49L216.47 2136.43L221.5 2136.39L226.52 2136.34L231.55 2136.31L236.58 2136.28L241.61 2136.26L246.64 2136.25L251.68 2136.24L256.71 2136.24L261.74 2136.24L266.77 2136.24L271.81 2136.26L276.84 2136.27L281.87 2136.3L286.91 2136.32L291.94 2136.35L296.98 2136.38L302.01 2136.42L307.05 2136.46L312.08 2136.5L317.12 2136.54L322.16 2136.58L327.19 2136.63L332.23 2136.68L337.27 2136.73L342.31 2136.78L347.34 2136.83L352.38 2136.88L357.42 2136.93L362.46 2136.98L367.49 2137.03L372.53 2137.08L377.57 2137.13L382.61 2137.17L387.65 2137.22L392.68 2137.26L397.72 2137.3L402.76 2137.34L407.8 2137.37L412.83 2137.4L417.87 2137.43L422.91 2137.44L427.94 2137.45L432.98 2137.46L438.01 2137.45L443.05 2137.43L448.08 2137.4L453.11 2137.36L458.15 2137.31L463.18 2137.25L468.21 2137.17L473.23 2137.07L478.26 2136.96L483.29 2136.83L488.31 2136.69L493.33 2136.53L498.35 2136.34L503.37 2136.14L508.39 2135.92L513.41 2135.67L518.42 2135.4L523.44 2135.11L528.45 2134.79L533.46 2134.46L538.46 2134.1L543.47 2133.72L548.47 2133.33L553.48 2132.92L558.48 2132.5L563.48 2132.06L568.48 2131.62L573.48 2131.16L578.48 2130.7L583.48 2130.23L588.47 2129.76L593.47 2129.28L598.47 2128.81L603.47 2128.33L608.47 2127.85L613.47 2127.38L618.46 2126.92L623.46 2126.46L628.47 2126.01L633.47 2125.57L638.47 2125.14L643.47 2124.72L648.48 2124.32L653.48 2123.93L658.49 2123.55L663.5 2123.18L668.51 2122.83L673.52 2122.49L678.53 2122.17L683.54 2121.85L688.56 2121.55L693.57 2121.25L698.59 2120.97L703.6 2120.7L708.62 2120.45L713.64 2120.2L718.66 2119.96L723.68 2119.74L728.7 2119.52L733.72 2119.31L738.74 2119.12L743.77 2118.93L748.79 2118.75L753.81 2118.58L758.84 2118.43L763.87 2118.28L768.89 2118.13L773.92 2118L778.95 2117.88L783.98 2117.76L789 2117.65L794.03 2117.55L799.06 2117.45L804.09 2117.37L809.13 2117.29L814.16 2117.22L819.19 2117.15L824.22 2117.09L829.25 2117.04L834.29 2116.99L839.32 2116.95L844.35 2116.91L849.39 2116.88L854.42 2116.86L859.46 2116.84L864.49 2116.82L869.53 2116.81L874.56 2116.8L879.6 2116.8L884.63 2116.8L889.67 2116.81L894.7 2116.82L899.74 2116.83L904.77 2116.85L909.81 2116.87L914.84 2116.89L919.88 2116.91L924.92 2116.93L929.95 2116.95L934.99 2116.98L940.02 2117L945.06 2117.03L950.09 2117.05L955.13 2117.08L960.16 2117.1L965.2 2117.12L970.23 2117.14L975.27 2117.16L980.3 2117.18L985.34 2117.19L990.37 2117.2L995.4 2117.21L1000.44 2117.21L1005.47 2117.21L1010.5 2117.21L1015.53 2117.2L1020.57 2117.19L1025.6 2117.17L1030.63 2117.14L1035.66 2117.11L1040.69 2117.07L1045.72 2117.03L1050.75 2116.97L1055.78 2116.92L1060.81 2116.85L1065.83 2116.78L1070.86 2116.69L1075.89 2116.6L1080.91 2116.5L1085.94 2116.39L1090.96 2116.27L1095.99 2116.14L1101.01 2116L1106.03 2115.85L1111.06 2115.69" fill="none" stroke="#ff00ff" stroke-width="5.42" stroke-linecap="butt" stroke-linejoin="round" stroke-dasharray="18.5 12.5" stroke-dashoffset="24"/>
</g>
<rect x="594.6" y="1920.2" width="8" height="16" rx="3.6" ry="6.4" fill="#000"/>
<rect x="594.6" y="1969.66" width="8" height="16" rx="3.6" ry="6.4" fill="#000"/>
<rect x="594.6" y="2019.12" width="8" height="16" rx="3.6" ry="6.4" fill="#000"/>
<rect x="594.6" y="2068.58" width="8" height="16" rx="3.6" ry="6.4" fill="#000"/>
<rect x="594.6" y="2118.04" width="8" height="16" rx="3.6" ry="6.4" fill="#000"/>
<rect x="594.6" y="2167.5" width="8" height="16" rx="3.6" ry="6.4" fill="#000"/>
<rect x="594.6" y="2216.96" width="8" height="16" rx="3.6" ry="6.4" fill="#000"/>
<rect x="594.6" y="2266.42" width="8" height="16" rx="3.6" ry="6.4" fill="#000"/>
<rect x="594.6" y="2315.88" width="8" height="16" rx="3.6" ry="6.4" fill="#000"/>
<rect x="594.6" y="2365.34" width="8" height="16" rx="3.6" ry="6.4" fill="#000"/>
<rect x="594.6" y="2414.8" width="8" height="16" rx="3.6" ry="6.4" fill="#000"/>
<rect x="594.6" y="2464.26" width="8" height="16" rx="3.6" ry="6.4" fill="#000"/>
<rect x="594.6" y="2513.72" width="8" height="16" rx="3.6" ry="6.4" fill="#000"/>
<rect x="594.6" y="2563.18" width="8" height="16" rx="3.6" ry="6.4" fill="#000"/>
<rect x="147.1" y="1909.3" width="8" height="719.7" fill="#000"/>
<rect x="1107.1" y="1909.3" width="8" height="719.7" fill="#000"/>
<rect x="147.1" y="1909.3" width="968" height="8" fill="#000"/>
<rect x="147.1" y="2619" width="968" height="10" fill="#000"/>
<rect x="147.3" y="2605.5" width="7.6" height="14.5" fill="#000"/>
<rect x="243.3" y="2612.5" width="7.6" height="7.5" fill="#000"/>
<rect x="339.3" y="2605.5" width="7.6" height="14.5" fill="#000"/>
<rect x="435.3" y="2612.5" width="7.6" height="7.5" fill="#000"/>
<rect x="531.3" y="2605.5" width="7.6" height="14.5" fill="#000"/>
<rect x="627.3" y="2612.5" width="7.6" height="7.5" fill="#000"/>
<rect x="723.3" y="2605.5" width="7.6" height="14.5" fill="#000"/>
<rect x="819.3" y="2612.5" width="7.6" height="7.5" fill="#000"/>
<rect x="915.3" y="2605.5" width="7.6" height="14.5" fill="#000"/>
<rect x="1011.3" y="2612.5" width="7.6" height="7.5" fill="#000"/>
<rect x="1107.3" y="2605.5" width="7.6" height="14.5" fill="#000"/>
<text x="151.1" y="2683.7" font-family="'Liberation Sans', Arial, Helvetica, sans-serif" font-size="56.5" font-weight="normal" fill="#000" text-anchor="middle" textLength="95.5" lengthAdjust="spacingAndGlyphs">280</text>
<text x="343.1" y="2683.7" font-family="'Liberation Sans', Arial, Helvetica, sans-serif" font-size="56.5" font-weight="normal" fill="#000" text-anchor="middle" textLength="95.5" lengthAdjust="spacingAndGlyphs">282</text>
<text x="535.1" y="2683.7" font-family="'Liberation Sans', Arial, Helvetica, sans-serif" font-size="56.5" font-weight="normal" fill="#000" text-anchor="middle" textLength="95.5" lengthAdjust="spacingAndGlyphs">284</text>
<text x="727.1" y="2683.7" font-family="'Liberation Sans', Arial, Helvetica, sans-serif" font-size="56.5" font-weight="normal" fill="#000" text-anchor="middle" textLength="95.5" lengthAdjust="spacingAndGlyphs">286</text>
<text x="919.1" y="2683.7" font-family="'Liberation Sans', Arial, Helvetica, sans-serif" font-size="56.5" font-weight="normal" fill="#000" text-anchor="middle" textLength="95.5" lengthAdjust="spacingAndGlyphs">288</text>
<text x="1111.1" y="2683.7" font-family="'Liberation Sans', Arial, Helvetica, sans-serif" font-size="56.5" font-weight="normal" fill="#000" text-anchor="middle" textLength="95.5" lengthAdjust="spacingAndGlyphs">290</text>
<text x="339.8" y="2765.4" font-family="'Liberation Sans', Arial, Helvetica, sans-serif" font-size="75" font-weight="normal" fill="#000" text-anchor="start" textLength="684" lengthAdjust="spacingAndGlyphs">Binding Energy (eV)</text>
<text x="117.4" y="2489.4" font-family="'Liberation Sans', Arial, Helvetica, sans-serif" font-size="75" font-weight="normal" fill="#000" text-anchor="start" textLength="484.4" lengthAdjust="spacingAndGlyphs" transform="rotate(-90 117.4 2489.4)">Intensity (a.u.)</text>
<text x="163.5" y="2524.4" font-family="'Liberation Serif', 'Times New Roman', Times, serif" font-size="80" font-weight="bold" fill="#000" text-anchor="start" textLength="96.3" lengthAdjust="spacingAndGlyphs">(e)</text>
<text x="288.5" y="1982.3" font-family="'Liberation Sans', Arial, Helvetica, sans-serif" font-size="56" font-weight="normal" fill="#000" text-anchor="start" textLength="180" lengthAdjust="spacingAndGlyphs">284.65</text>
<polygon points="468.8,1963.45 541.32,1961.79 537.21,1952.84 539.18,1951.59 554.08,1951.25 591.33,1961.9 591.47,1967.9 554.74,1980.24 539.84,1980.58 537.82,1979.43 541.51,1970.29 469,1971.95" fill="#000"/>
<line x1="646.3" y1="1962.5" x2="781" y2="1962.5" stroke="#000" stroke-width="10" stroke-linecap="butt"/>
<line x1="646.3" y1="2033" x2="781" y2="2033" stroke="#ff0000" stroke-width="9" stroke-dasharray="18.5 12.5"/>
<line x1="646.3" y1="2103.1" x2="781" y2="2103.1" stroke="#0000ff" stroke-width="6" stroke-dasharray="18.5 12.5"/>
<line x1="646.3" y1="2173.7" x2="781" y2="2173.7" stroke="#008080" stroke-width="6" stroke-dasharray="18.5 12.5"/>
<line x1="646.3" y1="2243.3" x2="781" y2="2243.3" stroke="#ff00ff" stroke-width="9" stroke-dasharray="18.5 12.5"/>
<text x="791.5" y="1982.2" font-family="'Liberation Sans', Arial, Helvetica, sans-serif" font-size="57" font-weight="normal" fill="#000" text-anchor="start">4</text>
<text x="822.5" y="1953" font-family="'Liberation Sans', Arial, Helvetica, sans-serif" font-size="33" font-weight="normal" fill="#000" text-anchor="start">#</text>
<text x="847" y="1982.2" font-family="'Liberation Sans', Arial, Helvetica, sans-serif" font-size="57" font-weight="normal" fill="#000" text-anchor="start" textLength="116" lengthAdjust="spacingAndGlyphs">-C1s</text>
<text x="792.4" y="2053.9" font-family="'Liberation Sans', Arial, Helvetica, sans-serif" font-size="57" font-weight="normal" fill="#000" text-anchor="start" textLength="301.6" lengthAdjust="spacingAndGlyphs">C1s Peak A</text>
<text x="792.4" y="2122.9" font-family="'Liberation Sans', Arial, Helvetica, sans-serif" font-size="57" font-weight="normal" fill="#000" text-anchor="start" textLength="302" lengthAdjust="spacingAndGlyphs">C1s Peak B</text>
<text x="792.4" y="2192.6" font-family="'Liberation Sans', Arial, Helvetica, sans-serif" font-size="57" font-weight="normal" fill="#000" text-anchor="start" textLength="305" lengthAdjust="spacingAndGlyphs">C1s Peak C</text>
<text x="791.4" y="2263.3" font-family="'Liberation Sans', Arial, Helvetica, sans-serif" font-size="57" font-weight="normal" fill="#000" text-anchor="start" textLength="305.7" lengthAdjust="spacingAndGlyphs">Background</text>
<text x="365" y="2247" font-family="'Liberation Sans', Arial, Helvetica, sans-serif" font-size="55" font-weight="normal" fill="#ff0000" text-anchor="start">sp</text>
<text x="427.3" y="2216.2" font-family="'Liberation Sans', Arial, Helvetica, sans-serif" font-size="36" font-weight="normal" fill="#ff0000" text-anchor="start">2</text>
<polygon points="435.18,2246.93 502.18,2323.01 494.37,2326.37 538.1,2351.2 516.28,2305.89 512.41,2313.46 441.02,2241.47" fill="#ff0000"/>
<text x="813.5" y="2343.3" font-family="'Liberation Sans', Arial, Helvetica, sans-serif" font-size="55" font-weight="normal" fill="#0000ff" text-anchor="start">sp</text>
<text x="875.8" y="2312.5" font-family="'Liberation Sans', Arial, Helvetica, sans-serif" font-size="36" font-weight="normal" fill="#0000ff" text-anchor="start">3</text>
<polygon points="802.21,2343.34 745.33,2391.13 742.07,2383.28 716.7,2426.7 762.28,2405.45 754.76,2401.48 807.59,2349.26" fill="#0000ff"/>
<text x="899.5" y="2450.8" font-family="'Liberation Sans', Arial, Helvetica, sans-serif" font-size="44" font-weight="normal" fill="#008080" text-anchor="start" textLength="83" lengthAdjust="spacingAndGlyphs">C-O</text>
<polygon points="898.51,2455.09 854.37,2484.3 852.49,2476.97 822.4,2516.9 869.24,2499.41 862.74,2495.52 903.29,2461.51" fill="#008080"/>
<g transform="scale(1,1.2)">
<path d="M1340.16 2134.49L1345.13 2134.47L1350.12 2134.44L1355.1 2134.41L1360.09 2134.38L1365.09 2134.33L1370.09 2134.29L1375.09 2134.24L1380.1 2134.18L1385.11 2134.12L1390.12 2134.06L1395.14 2133.99L1400.16 2133.92L1405.18 2133.85L1410.21 2133.77L1415.23 2133.69L1420.26 2133.61L1425.29 2133.52L1430.33 2133.43L1435.36 2133.34L1440.39 2133.24L1445.43 2133.15L1450.46 2133.05L1455.5 2132.94L1460.53 2132.84L1465.57 2132.73L1470.6 2132.63L1475.63 2132.52L1480.66 2132.4L1485.69 2132.29L1490.72 2132.18L1495.75 2132.06L1500.78 2131.95L1505.8 2131.83L1510.82 2131.71L1515.84 2131.59L1520.85 2131.47L1525.86 2131.36L1530.87 2131.24L1535.87 2131.12L1540.87 2131L1545.87 2130.88L1550.86 2130.76L1555.84 2130.64L1560.82 2130.52L1565.8 2130.41L1570.77 2130.29L1575.74 2130.17L1580.7 2130.04L1585.67 2129.88L1590.65 2129.69L1595.63 2129.46L1600.63 2129.18L1605.64 2128.83L1610.67 2128.42L1615.73 2127.93L1620.81 2127.36L1625.91 2126.68L1631 2125.9L1636.08 2125.01L1641.12 2123.99L1646.1 2122.84L1650.99 2121.55L1655.79 2120.11L1660.46 2118.51L1664.99 2116.74L1669.36 2114.8L1673.54 2112.67L1677.53 2110.34L1681.29 2107.82L1684.8 2105.08L1688.06 2102.12L1691.03 2098.93L1693.74 2095.54L1696.19 2091.96L1698.41 2088.21L1700.41 2084.32L1702.22 2080.31L1703.85 2076.21L1705.32 2072.03L1706.65 2067.81L1707.85 2063.56L1708.96 2059.3L1709.98 2055.07L1710.93 2050.88L1711.83 2046.75L1712.69 2042.67L1713.53 2038.62L1714.35 2034.61L1715.16 2030.6L1715.98 2026.6L1716.82 2022.58L1717.68 2018.55L1718.56 2014.5L1719.45 2010.43L1720.35 2006.35L1721.25 2002.25L1722.16 1998.15L1723.07 1994.03L1723.98 1989.9L1724.88 1985.76L1725.77 1981.61L1726.65 1977.45L1727.51 1973.29L1728.36 1969.12L1729.18 1964.95L1729.97 1960.77L1730.74 1956.6L1731.47 1952.42L1732.16 1948.24L1732.82 1944.06L1733.43 1939.88L1734 1935.71L1734.53 1931.54L1735.02 1927.37L1735.47 1923.21L1735.89 1919.04L1736.28 1914.88L1736.64 1910.72L1736.98 1906.56L1737.3 1902.4L1737.6 1898.24L1737.89 1894.09L1738.17 1889.93L1738.44 1885.78L1738.7 1881.62L1738.97 1877.46L1739.24 1873.31L1739.51 1869.15L1739.8 1864.99L1740.09 1860.83L1740.4 1856.67L1740.73 1852.51L1741.08 1848.35L1741.46 1844.18L1741.86 1840.01L1742.3 1835.84L1742.77 1831.67L1743.26 1827.49L1743.78 1823.32L1744.33 1819.14L1744.9 1814.96L1745.49 1810.78L1746.09 1806.6L1746.71 1802.43L1747.35 1798.25L1747.99 1794.07L1748.64 1789.9L1749.3 1785.73L1749.96 1781.56L1750.62 1777.39L1751.28 1773.23L1751.93 1769.07L1752.58 1764.92L1753.23 1760.77L1753.86 1756.62L1754.48 1752.48L1755.08 1748.35L1755.67 1744.22L1756.27 1740.09L1756.86 1735.97L1757.45 1731.85L1758.05 1727.73L1758.67 1723.61L1759.31 1719.5L1759.97 1715.38L1760.66 1711.26L1761.38 1707.14L1762.14 1703.02L1762.95 1698.89L1763.8 1694.76L1764.7 1690.63L1765.66 1686.48L1766.68 1682.34L1767.76 1678.18L1768.92 1674.02L1770.27 1669.91L1772.55 1666.25L1776.35 1663.84L1780.61 1664.91L1783.65 1668.25L1785.47 1672.41L1786.9 1676.7L1788.28 1680.84L1789.59 1684.87L1790.81 1688.84L1791.93 1692.8L1792.92 1696.8L1793.77 1700.87L1794.52 1705L1795.22 1709.15L1795.91 1713.32L1796.61 1717.47L1797.33 1721.63L1798.06 1725.78L1798.8 1729.92L1799.55 1734.06L1800.31 1738.2L1801.08 1742.34L1801.85 1746.47L1802.62 1750.6L1803.39 1754.73L1804.17 1758.86L1804.95 1762.99L1805.72 1767.11L1806.49 1771.24L1807.26 1775.37L1808.02 1779.5L1808.78 1783.62L1809.53 1787.75L1810.26 1791.89L1810.99 1796.02L1811.71 1800.16L1812.41 1804.3L1813.11 1808.44L1813.8 1812.58L1814.49 1816.73L1815.18 1820.87L1815.86 1825.02L1816.55 1829.16L1817.24 1833.31L1817.93 1837.45L1818.63 1841.6L1819.34 1845.74L1820.06 1849.88L1820.8 1854.02L1821.54 1858.16L1822.31 1862.29L1823.09 1866.43L1823.89 1870.55L1824.71 1874.68L1825.56 1878.8L1826.43 1882.92L1827.33 1887.03L1828.26 1891.14L1829.22 1895.24L1830.22 1899.34L1831.24 1903.43L1832.3 1907.51L1833.38 1911.59L1834.5 1915.67L1835.64 1919.74L1836.81 1923.81L1838.01 1927.88L1839.23 1931.94L1840.47 1936L1841.74 1940.06L1843.02 1944.11L1844.33 1948.16L1845.65 1952.21L1847 1956.26L1848.36 1960.31L1849.73 1964.35L1851.12 1968.4L1852.52 1972.45L1853.95 1976.49L1855.42 1980.51L1856.93 1984.52L1858.51 1988.5L1860.17 1992.45L1861.92 1996.35L1863.77 2000.22L1865.73 2004.03L1867.82 2007.78L1870.05 2011.46L1872.44 2015.07L1874.98 2018.61L1877.7 2022.06L1880.57 2025.43L1883.59 2028.73L1886.75 2031.95L1890.05 2035.09L1893.47 2038.15L1897.02 2041.14L1900.67 2044.05L1904.42 2046.89L1908.27 2049.66L1912.21 2052.35L1916.23 2054.98L1920.32 2057.53L1924.48 2060.01L1928.69 2062.43L1932.95 2064.77L1937.25 2067.05L1941.59 2069.26L1945.95 2071.41L1950.33 2073.49L1954.74 2075.51L1959.17 2077.45L1963.63 2079.33L1968.12 2081.13L1972.63 2082.87L1977.16 2084.53L1981.73 2086.12L1986.32 2087.64L1990.94 2089.08L1995.59 2090.44L2000.27 2091.73L2004.97 2092.93L2009.71 2094.06L2014.48 2095.11L2019.28 2096.07L2024.12 2096.95L2028.98 2097.75L2033.88 2098.47L2038.81 2099.12L2043.76 2099.7L2048.73 2100.21L2053.72 2100.67L2060.72 2101.09L2067.72 2101.27L2074.72 2102.14L2081.72 2103.3L2088.72 2102L2095.72 2101.87L2102.72 2102.96L2109.72 2102.43L2116.72 2102.26L2123.72 2102.52L2130.72 2102.4L2137.72 2102.9L2144.72 2103.3L2151.72 2103.43L2158.72 2104.64L2165.72 2103.7L2172.72 2104.33L2179.72 2103.73L2186.72 2104.26L2193.72 2103.63L2200.72 2104.31L2207.72 2103.89L2214.72 2105.68L2221.72 2105.37L2228.72 2104.62L2235.72 2105.38L2242.72 2106.53L2249.72 2104.67L2256.72 2106.39L2263.72 2105.53L2270.72 2105.7L2277.72 2106.5L2284.72 2105.47L2291.72 2105.71L2298.72 2106.1L2300.21 2105.65" fill="none" stroke="#000000" stroke-width="8.17" stroke-linecap="butt" stroke-linejoin="round"/>
</g>
<g transform="scale(1,1.2)">
<path d="M1340.1 2135.38L1345.12 2135.28L1350.15 2135.2L1355.17 2135.13L1360.19 2135.07L1365.21 2135.01L1370.23 2134.96L1375.25 2134.92L1380.28 2134.87L1385.3 2134.78L1390.32 2134.71L1395.34 2134.64L1400.37 2134.59L1405.39 2134.54L1410.41 2134.5L1415.43 2134.46L1420.46 2134.43L1425.48 2134.41L1430.5 2134.4L1435.53 2134.39L1440.55 2134.38L1445.57 2134.39L1450.59 2134.39L1455.62 2134.41L1460.64 2134.42L1465.66 2134.44L1470.69 2134.47L1475.71 2134.5L1480.73 2134.53L1485.75 2134.56L1490.78 2134.6L1495.8 2134.64L1500.82 2134.68L1505.84 2134.73L1510.87 2134.77L1515.89 2134.81L1520.91 2134.86L1525.93 2134.89L1530.96 2134.85L1535.98 2134.8L1541 2134.74L1546.02 2134.68L1551.04 2134.6L1556.06 2134.52L1561.08 2134.43L1566.11 2134.32L1571.13 2134.22L1576.15 2134.11L1581.17 2134.01L1586.19 2133.92L1591.21 2133.84L1596.23 2133.79L1601.26 2133.76L1606.28 2133.75L1611.31 2133.79L1616.33 2133.86L1621.36 2133.96L1626.38 2134L1631.39 2133.86L1636.39 2133.4L1641.37 2132.54L1646.27 2131.3L1651.05 2129.71L1655.67 2127.8L1660.08 2125.62L1664.23 2123.19L1668.09 2120.54L1671.67 2117.7L1674.98 2114.67L1678.05 2111.47L1680.88 2108.12L1683.5 2104.62L1685.92 2100.99L1688.14 2097.26L1690.2 2093.42L1692.09 2089.5L1693.85 2085.5L1695.48 2081.45L1697 2077.36L1698.42 2073.24L1699.77 2069.11L1701.05 2064.98L1702.27 2060.86L1703.46 2056.76L1704.61 2052.67L1705.72 2048.6L1706.79 2044.52L1707.84 2040.45L1708.87 2036.38L1709.87 2032.3L1710.85 2028.22L1711.81 2024.14L1712.75 2020.05L1713.66 2015.96L1714.56 2011.86L1715.43 2007.76L1716.29 2003.66L1717.12 1999.56L1717.94 1995.45L1718.74 1991.33L1719.53 1987.22L1720.29 1983.1L1721.04 1978.98L1721.77 1974.86L1722.49 1970.73L1723.19 1966.6L1723.88 1962.47L1724.56 1958.34L1725.22 1954.2L1725.87 1950.06L1726.5 1945.92L1727.13 1941.77L1727.74 1937.63L1728.34 1933.48L1728.93 1929.33L1729.51 1925.18L1730.08 1921.02L1730.65 1916.87L1731.2 1912.71L1731.75 1908.55L1732.29 1904.39L1732.82 1900.23L1733.34 1896.06L1733.86 1891.9L1734.38 1887.73L1734.89 1883.57L1735.4 1879.4L1735.9 1875.23L1736.4 1871.06L1736.89 1866.89L1737.38 1862.71L1737.88 1858.54L1738.37 1854.37L1738.86 1850.19L1739.34 1846.02L1739.83 1841.84L1740.32 1837.67L1740.81 1833.49L1741.31 1829.31L1741.8 1825.14L1742.3 1820.96L1742.8 1816.78L1743.31 1812.61L1743.81 1808.43L1744.33 1804.25L1744.85 1800.08L1745.37 1795.9L1745.9 1791.73L1746.44 1787.55L1746.99 1783.38L1747.54 1779.21L1748.1 1775.03L1748.67 1770.86L1749.25 1766.69L1749.84 1762.52L1750.44 1758.35L1751.05 1754.18L1751.67 1750.02L1752.3 1745.85L1752.94 1741.69L1753.6 1737.53L1754.27 1733.37L1754.95 1729.21L1755.65 1725.06L1756.35 1720.92L1757.05 1716.8L1757.77 1712.69L1758.48 1708.6L1759.2 1704.53L1759.92 1700.48L1760.64 1696.45L1761.37 1692.45L1762.18 1688.43L1763.11 1684.36L1764.24 1680.21L1765.63 1675.93L1767.36 1671.52L1769.73 1667.47L1773.21 1664.69L1777.47 1664.06L1781.11 1665.97L1783.33 1669.56L1784.68 1673.91L1785.83 1678.29L1786.87 1682.59L1787.84 1686.81L1788.74 1690.98L1789.58 1695.09L1790.38 1699.17L1791.14 1703.23L1791.88 1707.27L1792.61 1711.32L1793.34 1715.37L1794.07 1719.44L1794.81 1723.51L1795.54 1727.59L1796.27 1731.68L1797.01 1735.78L1797.74 1739.89L1798.47 1744.01L1799.2 1748.14L1799.93 1752.27L1800.65 1756.4L1801.38 1760.55L1802.1 1764.7L1802.82 1768.85L1803.54 1773.01L1804.25 1777.18L1804.96 1781.35L1805.67 1785.52L1806.37 1789.7L1807.07 1793.87L1807.77 1798.06L1808.46 1802.24L1809.14 1806.42L1809.82 1810.61L1810.49 1814.8L1811.16 1818.98L1811.82 1823.17L1812.48 1827.36L1813.13 1831.54L1813.77 1835.73L1814.4 1839.91L1815.03 1844.09L1815.65 1848.27L1816.26 1852.44L1816.86 1856.62L1817.45 1860.78L1818.04 1864.95L1818.62 1869.11L1819.19 1873.27L1819.76 1877.43L1820.33 1881.58L1820.89 1885.73L1821.45 1889.88L1822.01 1894.03L1822.57 1898.17L1823.13 1902.31L1823.69 1906.45L1824.25 1910.59L1824.81 1914.73L1825.38 1918.86L1825.95 1923L1826.52 1927.13L1827.1 1931.26L1827.68 1935.39L1828.27 1939.52L1828.87 1943.65L1829.48 1947.78L1830.1 1951.91L1830.72 1956.03L1831.36 1960.16L1832.01 1964.29L1832.67 1968.41L1833.34 1972.54L1834.03 1976.66L1834.73 1980.79L1835.45 1984.92L1836.18 1989.05L1836.93 1993.17L1837.7 1997.3L1838.48 2001.43L1839.29 2005.57L1840.11 2009.7L1840.96 2013.83L1841.83 2017.97L1842.73 2022.1L1843.66 2026.23L1844.63 2030.35L1845.65 2034.47L1846.72 2038.59L1847.84 2042.69L1849.02 2046.79L1850.26 2050.87L1851.57 2054.94L1852.96 2059L1854.42 2063.04L1855.97 2067.07L1857.61 2071.07L1859.34 2075.06L1861.17 2079.02L1863.12 2082.94L1865.21 2086.79L1867.46 2090.53L1869.89 2094.15L1872.54 2097.6L1875.41 2100.87L1878.55 2103.91L1881.95 2106.71L1885.66 2109.23L1889.69 2111.45L1894.07 2113.33L1898.82 2114.85L1903.89 2116.01L1909.18 2116.87L1914.55 2117.48L1919.89 2117.91L1925.1 2117.77L1930.18 2117.63L1935.16 2117.5L1940.07 2117.39L1944.95 2117.29L1949.81 2117.19L1954.69 2117.1L1959.63 2117.02L1964.65 2116.95L1969.78 2116.88L1975.05 2116.83" fill="none" stroke="#ff0000" stroke-width="6.25" stroke-linecap="butt" stroke-linejoin="round" stroke-dasharray="18.5 12.5" stroke-dashoffset="0"/>
</g>
<g transform="scale(1,1.2)">
<path d="M1340.12 2135.54L1345.16 2135.42L1350.2 2135.31L1355.24 2135.21L1360.28 2135.12L1365.32 2135.04L1370.37 2134.97L1375.41 2134.91L1380.45 2134.85L1385.49 2134.78L1390.54 2134.71L1395.58 2134.64L1400.62 2134.58L1405.67 2134.53L1410.71 2134.49L1415.76 2134.46L1420.8 2134.43L1425.85 2134.41L1430.9 2134.39L1435.94 2134.39L1440.99 2134.38L1446.04 2134.39L1451.08 2134.39L1456.13 2134.41L1461.18 2134.42L1466.23 2134.45L1471.27 2134.47L1476.32 2134.5L1481.37 2134.53L1486.42 2134.57L1491.46 2134.61L1496.51 2134.65L1501.56 2134.69L1506.61 2134.73L1511.66 2134.78L1516.7 2134.82L1521.75 2134.86L1526.8 2134.91L1531.85 2134.95L1536.89 2134.99L1541.94 2135L1546.99 2135L1552.03 2134.99L1557.08 2134.98L1562.12 2134.96L1567.17 2134.94L1572.21 2134.92L1577.26 2134.88L1582.3 2134.84L1587.35 2134.8L1592.39 2134.74L1597.43 2134.68L1602.48 2134.61L1607.52 2134.53L1612.56 2134.45L1617.6 2134.35L1622.64 2134.25L1627.68 2134.14L1632.72 2134.03L1637.76 2133.91L1642.8 2133.8L1647.84 2133.69L1652.88 2133.58L1657.92 2133.47L1662.96 2133.37L1668 2133.27L1673.04 2133.19L1678.08 2133.12L1683.12 2133.06L1688.16 2132.94L1693.2 2132.7L1698.25 2132.44L1703.29 2132.17L1708.33 2131.87L1713.38 2131.57L1718.43 2131.25L1723.47 2130.92L1728.52 2130.57L1733.58 2130.21L1738.63 2129.85L1743.68 2129.47L1748.72 2129.09L1753.73 2128.7L1758.69 2128.23L1763.6 2127.14L1768.43 2125.89L1773.17 2124.49L1777.81 2122.91L1782.32 2121.15L1786.71 2119.19L1790.94 2117.04L1795.01 2114.68L1798.9 2112.1L1802.59 2109.3L1806.11 2106.29L1809.44 2103.09L1812.6 2099.74L1815.61 2096.25L1818.46 2092.64L1821.18 2088.95L1823.76 2085.19L1826.23 2081.39L1828.62 2077.57L1830.97 2073.74L1833.3 2069.94L1835.66 2066.19L1838.08 2062.49L1840.6 2058.89L1843.25 2055.39L1846.07 2052.02L1849.09 2048.79L1852.34 2045.74L1855.87 2042.89L1859.71 2040.24L1863.9 2037.83L1868.96 2038.64L1873.39 2040.16L1877.26 2042.29L1880.65 2044.94L1883.66 2048L1886.36 2051.38L1888.81 2054.98L1891.11 2058.74L1893.29 2062.59L1895.43 2066.49L1897.56 2070.41L1899.72 2074.31L1901.95 2078.16L1904.3 2081.93L1906.81 2085.6L1909.47 2089.14L1912.3 2092.54L1915.31 2095.79L1918.48 2098.87L1921.82 2101.77L1925.34 2104.47L1929.04 2106.97L1932.92 2109.23L1936.98 2111.25L1941.23 2113.02L1945.66 2114.52L1950.29 2115.74L1955.09 2116.67L1960.04 2117.02L1965.11 2116.94L1970.26 2116.88L1975.46 2116.82L1980.66 2116.77L1985.85 2116.73L1990.97 2116.69L1996 2116.67L2000.9 2116.65L2005.64 2116.63L2010.19 2116.63" fill="none" stroke="#0000ff" stroke-width="5" stroke-linecap="butt" stroke-linejoin="round" stroke-dasharray="18.5 12.5" stroke-dashoffset="8"/>
</g>
<g transform="scale(1,1.2)">
<path d="M1340.15 2135.81L1345.19 2135.66L1350.23 2135.51L1355.27 2135.37L1360.32 2135.25L1365.36 2135.13L1370.41 2135.03L1375.45 2134.93L1380.5 2134.85L1385.55 2134.77L1390.59 2134.71L1395.64 2134.64L1400.69 2134.58L1405.74 2134.53L1410.79 2134.49L1415.84 2134.46L1420.89 2134.43L1425.94 2134.41L1430.99 2134.39L1436.04 2134.39L1441.1 2134.38L1446.15 2134.39L1451.2 2134.39L1456.25 2134.41L1461.31 2134.42L1466.36 2134.45L1471.41 2134.47L1476.47 2134.5L1481.52 2134.54L1486.58 2134.57L1491.63 2134.61L1496.69 2134.65L1501.74 2134.69L1506.8 2134.72L1511.85 2134.75L1516.91 2134.78L1521.96 2134.82L1527.02 2134.85L1532.07 2134.88L1537.13 2134.9L1542.18 2134.93L1547.23 2134.95L1552.29 2134.97L1557.34 2134.99L1562.4 2135L1567.45 2135.01L1572.51 2135.02L1577.56 2135.02L1582.61 2135.01L1587.66 2135L1592.72 2134.99L1597.77 2134.96L1602.82 2134.94L1607.87 2134.9L1612.92 2134.86L1617.98 2134.81L1623.03 2134.75L1628.08 2134.69L1633.12 2134.61L1638.17 2134.53L1643.22 2134.43L1648.27 2134.33L1653.32 2134.22L1658.36 2134.09L1663.41 2133.93L1668.45 2133.75L1673.5 2133.56L1678.54 2133.36L1683.59 2133.15L1688.63 2132.92L1693.67 2132.67L1698.71 2132.41L1703.75 2132.14L1708.79 2131.85L1713.83 2131.54L1718.87 2131.22L1723.9 2130.89L1728.94 2130.54L1733.97 2130.18L1739 2129.82L1744.03 2129.44L1749.06 2129.06L1754.09 2128.67L1759.11 2128.27L1764.14 2127.87L1769.16 2127.46L1774.17 2127.06L1779.19 2126.65L1784.2 2126.24L1789.21 2125.82L1794.22 2125.38L1799.23 2124.8L1804.23 2124.18L1809.23 2123.55L1814.22 2122.89L1819.22 2122.2L1824.21 2121.48L1829.19 2120.74L1834.18 2119.96L1839.16 2119.16L1844.14 2118.32L1849.11 2117.45L1854.04 2116.5L1858.89 2115.41L1863.62 2114.13L1868.18 2112.61L1872.56 2110.81L1876.78 2108.75L1880.88 2106.47L1884.88 2104L1888.82 2101.36L1892.74 2098.6L1896.66 2095.73L1900.61 2092.79L1904.63 2089.85L1908.71 2086.98L1912.86 2084.25L1917.11 2081.74L1921.46 2079.52L1925.92 2077.68L1930.5 2076.27L1935.2 2075.4L1939.92 2075.23L1944.54 2075.88L1949.04 2077.23L1953.43 2079.16L1957.67 2081.53L1961.77 2084.23L1965.72 2087.11L1969.54 2090.11L1973.26 2093.17L1976.92 2096.25L1980.57 2099.29L1984.23 2102.24L1987.96 2105.06L1991.78 2107.69L1995.73 2110.09L1999.86 2112.2L2004.19 2113.99L2008.77 2115.38L2013.63 2116.36L2018.72 2116.62L2024 2116.63L2029.39 2116.64L2034.85 2116.65L2040.31 2116.67L2045.72 2116.7L2051.02 2116.48L2056.15 2116.34L2061.06 2116.36L2065.68 2116.62L2069.96 2116.85" fill="none" stroke="#008080" stroke-width="6.25" stroke-linecap="butt" stroke-linejoin="round" stroke-dasharray="18.5 12.5" stroke-dashoffset="16"/>
</g>
<g transform="scale(1,1.2)">
<path d="M1340.16 2135.88L1345.17 2135.71L1350.19 2135.56L1355.21 2135.42L1360.24 2135.29L1365.26 2135.17L1370.28 2135.06L1375.3 2134.96L1380.33 2134.87L1385.35 2134.78L1390.37 2134.71L1395.4 2134.64L1400.43 2134.59L1405.45 2134.54L1410.48 2134.49L1415.51 2134.46L1420.54 2134.43L1425.56 2134.41L1430.59 2134.4L1435.62 2134.39L1440.65 2134.38L1445.68 2134.39L1450.71 2134.39L1455.75 2134.41L1460.78 2134.42L1465.81 2134.44L1470.84 2134.47L1475.87 2134.5L1480.91 2134.53L1485.94 2134.57L1490.98 2134.6L1496.01 2134.64L1501.04 2134.69L1506.08 2134.73L1511.11 2134.77L1516.15 2134.82L1521.18 2134.86L1526.22 2134.9L1531.25 2134.94L1536.29 2134.98L1541.32 2135.02L1546.36 2135.05L1551.39 2135.08L1556.42 2135.11L1561.46 2135.13L1566.49 2135.15L1571.53 2135.16L1576.56 2135.17L1581.59 2135.17L1586.62 2135.16L1591.66 2135.15L1596.69 2135.13L1601.72 2135.1L1606.75 2135.06L1611.78 2135.01L1616.81 2134.96L1621.84 2134.89L1626.87 2134.81L1631.9 2134.73L1636.92 2134.63L1641.95 2134.52L1646.98 2134.4L1652 2134.27L1657.03 2134.13L1662.05 2133.97L1667.07 2133.8L1672.09 2133.62L1677.11 2133.42L1682.13 2133.21L1687.15 2132.99L1692.17 2132.75L1697.18 2132.5L1702.2 2132.23L1707.21 2131.94L1712.23 2131.64L1717.24 2131.33L1722.25 2131L1727.26 2130.66L1732.27 2130.31L1737.28 2129.95L1742.28 2129.58L1747.29 2129.2L1752.3 2128.81L1757.3 2128.42L1762.31 2128.02L1767.31 2127.61L1772.32 2127.21L1777.32 2126.8L1782.33 2126.39L1787.33 2125.98L1792.34 2125.57L1797.34 2125.16L1802.34 2124.75L1807.35 2124.35L1812.36 2123.95L1817.36 2123.56L1822.37 2123.17L1827.37 2122.79L1832.38 2122.42L1837.39 2122.06L1842.4 2121.71L1847.41 2121.37L1852.42 2121.04L1857.43 2120.73L1862.44 2120.43L1867.46 2120.14L1872.47 2119.87L1877.49 2119.61L1882.5 2119.37L1887.52 2119.13L1892.54 2118.91L1897.56 2118.7L1902.58 2118.51L1907.6 2118.32L1912.62 2118.15L1917.64 2117.99L1922.66 2117.83L1927.69 2117.69L1932.71 2117.56L1937.74 2117.44L1942.77 2117.33L1947.79 2117.23L1952.82 2117.13L1957.85 2117.05L1962.88 2116.97L1967.9 2116.91L1972.93 2116.85L1977.96 2116.8L1982.99 2116.75L1988.03 2116.71L1993.06 2116.68L1998.09 2116.66L2003.12 2116.64L2008.15 2116.63L2013.19 2116.62L2018.22 2116.62L2023.25 2116.62L2028.29 2116.63L2033.32 2116.65L2038.36 2116.66L2043.39 2116.69L2048.43 2116.71L2053.46 2116.74L2058.5 2116.77L2063.53 2116.81L2068.57 2116.84L2073.6 2116.88L2078.64 2116.92L2083.68 2116.97L2088.71 2117.01L2093.75 2117.06L2098.78 2117.1L2103.82 2117.15L2108.85 2117.2L2113.89 2117.24L2118.92 2117.29L2123.96 2117.34L2128.99 2117.38L2134.03 2117.42L2139.06 2117.47L2144.1 2117.51L2149.13 2117.55L2154.17 2117.58L2159.2 2117.62L2164.23 2117.65L2169.26 2117.67L2174.3 2117.7L2179.33 2117.72L2184.36 2117.74L2189.39 2117.75L2194.42 2117.76L2199.45 2117.76L2204.48 2117.76L2209.51 2117.75L2214.54 2117.73L2219.57 2117.72L2224.6 2117.69L2229.62 2117.66L2234.65 2117.62L2239.67 2117.57L2244.7 2117.52L2249.72 2117.46L2254.75 2117.39L2259.77 2117.31L2264.79 2117.22L2269.81 2117.13L2274.83 2117.02L2279.85 2116.91L2284.87 2116.78L2289.89 2116.65L2294.9 2116.51L2299.92 2116.35" fill="none" stroke="#ff00ff" stroke-width="6.25" stroke-linecap="butt" stroke-linejoin="round" stroke-dasharray="18.5 12.5" stroke-dashoffset="24"/>
</g>
<rect x="1772.2" y="1925.75" width="8.2" height="13.3" rx="0.55" ry="0.8" fill="#000"/>
<rect x="1772.2" y="1975.22" width="8.2" height="13.3" rx="0.55" ry="0.8" fill="#000"/>
<rect x="1772.2" y="2024.69" width="8.2" height="13.3" rx="0.55" ry="0.8" fill="#000"/>
<rect x="1772.2" y="2074.16" width="8.2" height="13.3" rx="0.55" ry="0.8" fill="#000"/>
<rect x="1772.2" y="2123.63" width="8.2" height="13.3" rx="0.55" ry="0.8" fill="#000"/>
<rect x="1772.2" y="2173.1" width="8.2" height="13.3" rx="0.55" ry="0.8" fill="#000"/>
<rect x="1772.2" y="2222.57" width="8.2" height="13.3" rx="0.55" ry="0.8" fill="#000"/>
<rect x="1772.2" y="2272.04" width="8.2" height="13.3" rx="0.55" ry="0.8" fill="#000"/>
<rect x="1772.2" y="2321.51" width="8.2" height="13.3" rx="0.55" ry="0.8" fill="#000"/>
<rect x="1772.2" y="2370.98" width="8.2" height="13.3" rx="0.55" ry="0.8" fill="#000"/>
<rect x="1772.2" y="2420.45" width="8.2" height="13.3" rx="0.55" ry="0.8" fill="#000"/>
<rect x="1772.2" y="2469.92" width="8.2" height="13.3" rx="0.55" ry="0.8" fill="#000"/>
<rect x="1772.2" y="2519.39" width="8.2" height="13.3" rx="0.55" ry="0.8" fill="#000"/>
<rect x="1772.2" y="2568.86" width="8.2" height="13.3" rx="0.55" ry="0.8" fill="#000"/>
<rect x="1336.1" y="1905.5" width="8" height="718.3" fill="#000"/>
<rect x="2296" y="1905.5" width="8" height="718.3" fill="#000"/>
<rect x="1336.1" y="1905.5" width="967.9" height="9" fill="#000"/>
<rect x="1336.1" y="2615.8" width="967.9" height="8" fill="#000"/>
<rect x="1336.3" y="2602.3" width="7.6" height="14.5" fill="#000"/>
<rect x="1432.29" y="2609.3" width="7.6" height="7.5" fill="#000"/>
<rect x="1528.28" y="2602.3" width="7.6" height="14.5" fill="#000"/>
<rect x="1624.27" y="2609.3" width="7.6" height="7.5" fill="#000"/>
<rect x="1720.26" y="2602.3" width="7.6" height="14.5" fill="#000"/>
<rect x="1816.25" y="2609.3" width="7.6" height="7.5" fill="#000"/>
<rect x="1912.24" y="2602.3" width="7.6" height="14.5" fill="#000"/>
<rect x="2008.23" y="2609.3" width="7.6" height="7.5" fill="#000"/>
<rect x="2104.22" y="2602.3" width="7.6" height="14.5" fill="#000"/>
<rect x="2200.21" y="2609.3" width="7.6" height="7.5" fill="#000"/>
<rect x="2296.2" y="2602.3" width="7.6" height="14.5" fill="#000"/>
<text x="1339.9" y="2681" font-family="'Liberation Sans', Arial, Helvetica, sans-serif" font-size="56.5" font-weight="normal" fill="#000" text-anchor="middle" textLength="95.3" lengthAdjust="spacingAndGlyphs">280</text>
<text x="1531.88" y="2681" font-family="'Liberation Sans', Arial, Helvetica, sans-serif" font-size="56.5" font-weight="normal" fill="#000" text-anchor="middle" textLength="95.3" lengthAdjust="spacingAndGlyphs">282</text>
<text x="1723.86" y="2681" font-family="'Liberation Sans', Arial, Helvetica, sans-serif" font-size="56.5" font-weight="normal" fill="#000" text-anchor="middle" textLength="95.3" lengthAdjust="spacingAndGlyphs">284</text>
<text x="1915.84" y="2681" font-family="'Liberation Sans', Arial, Helvetica, sans-serif" font-size="56.5" font-weight="normal" fill="#000" text-anchor="middle" textLength="95.3" lengthAdjust="spacingAndGlyphs">286</text>
<text x="2107.82" y="2681" font-family="'Liberation Sans', Arial, Helvetica, sans-serif" font-size="56.5" font-weight="normal" fill="#000" text-anchor="middle" textLength="95.3" lengthAdjust="spacingAndGlyphs">288</text>
<text x="2299.8" y="2681" font-family="'Liberation Sans', Arial, Helvetica, sans-serif" font-size="56.5" font-weight="normal" fill="#000" text-anchor="middle" textLength="95.3" lengthAdjust="spacingAndGlyphs">290</text>
<text x="1522.8" y="2762" font-family="'Liberation Sans', Arial, Helvetica, sans-serif" font-size="75" font-weight="normal" fill="#000" text-anchor="start" textLength="684" lengthAdjust="spacingAndGlyphs">Binding Energy (eV)</text>
<text x="1308.8" y="2499.5" font-family="'Liberation Sans', Arial, Helvetica, sans-serif" font-size="75" font-weight="normal" fill="#000" text-anchor="start" textLength="484.4" lengthAdjust="spacingAndGlyphs" transform="rotate(-90 1308.8 2499.5)">Intensity (a.u.)</text>
<text x="1347.5" y="2524.4" font-family="'Liberation Serif', 'Times New Roman', Times, serif" font-size="80" font-weight="normal" fill="#000" text-anchor="start" textLength="87.5" lengthAdjust="spacingAndGlyphs">(f)</text>
<text x="1459" y="1990.1" font-family="'Liberation Sans', Arial, Helvetica, sans-serif" font-size="56" font-weight="normal" fill="#000" text-anchor="start" textLength="180" lengthAdjust="spacingAndGlyphs">284.55</text>
<polygon points="1635.67,1966.61 1716.65,1962.03 1711.64,1953 1713.57,1951.69 1729.04,1950.81 1766.63,1960.2 1766.97,1966.2 1730.68,1979.77 1715.2,1980.64 1713.14,1979.55 1717.11,1970.02 1636.13,1974.59" fill="#000"/>
<line x1="1837.5" y1="1965.2" x2="1971.3" y2="1965.2" stroke="#000" stroke-width="10" stroke-linecap="butt"/>
<line x1="1837.5" y1="2034.6" x2="1971.3" y2="2034.6" stroke="#ff0000" stroke-width="6.5" stroke-dasharray="18.5 12.5"/>
<line x1="1837.5" y1="2105.1" x2="1971.3" y2="2105.1" stroke="#0000ff" stroke-width="6" stroke-dasharray="18.5 12.5"/>
<line x1="1837.5" y1="2174.8" x2="1971.3" y2="2174.8" stroke="#008080" stroke-width="9" stroke-dasharray="18.5 12.5"/>
<line x1="1837.5" y1="2245.5" x2="1971.3" y2="2245.5" stroke="#ff00ff" stroke-width="8" stroke-dasharray="18.5 12.5"/>
<text x="1985.5" y="1983.9" font-family="'Liberation Sans', Arial, Helvetica, sans-serif" font-size="57" font-weight="normal" fill="#000" text-anchor="start">5</text>
<text x="2014" y="1953" font-family="'Liberation Sans', Arial, Helvetica, sans-serif" font-size="33" font-weight="normal" fill="#000" text-anchor="start">#</text>
<text x="2037.5" y="1983.9" font-family="'Liberation Sans', Arial, Helvetica, sans-serif" font-size="57" font-weight="normal" fill="#000" text-anchor="start" textLength="116" lengthAdjust="spacingAndGlyphs">-C1s</text>
<text x="1982.8" y="2053.8" font-family="'Liberation Sans', Arial, Helvetica, sans-serif" font-size="57" font-weight="normal" fill="#000" text-anchor="start" textLength="302" lengthAdjust="spacingAndGlyphs">C1s Peak A</text>
<text x="1982.8" y="2124.3" font-family="'Liberation Sans', Arial, Helvetica, sans-serif" font-size="57" font-weight="normal" fill="#000" text-anchor="start" textLength="302" lengthAdjust="spacingAndGlyphs">C1s Peak B</text>
<text x="1982.8" y="2193.6" font-family="'Liberation Sans', Arial, Helvetica, sans-serif" font-size="57" font-weight="normal" fill="#000" text-anchor="start" textLength="305.7" lengthAdjust="spacingAndGlyphs">C1s Peak C</text>
<text x="1983.3" y="2264.1" font-family="'Liberation Sans', Arial, Helvetica, sans-serif" font-size="57" font-weight="normal" fill="#000" text-anchor="start" textLength="304.7" lengthAdjust="spacingAndGlyphs">Background</text>
<text x="1491" y="2228.2" font-family="'Liberation Sans', Arial, Helvetica, sans-serif" font-size="55" font-weight="normal" fill="#ff0000" text-anchor="start">sp</text>
<text x="1553.3" y="2197.4" font-family="'Liberation Sans', Arial, Helvetica, sans-serif" font-size="36" font-weight="normal" fill="#ff0000" text-anchor="start">2</text>
<polygon points="1555.75,2244.36 1681.12,2345.05 1673.95,2349.62 1721.1,2367.1 1692.29,2325.88 1689.68,2333.97 1560.65,2238.04" fill="#ff0000"/>
<text x="1982" y="2356.8" font-family="'Liberation Sans', Arial, Helvetica, sans-serif" font-size="55" font-weight="normal" fill="#0000ff" text-anchor="start">sp</text>
<text x="2044.3" y="2326" font-family="'Liberation Sans', Arial, Helvetica, sans-serif" font-size="36" font-weight="normal" fill="#0000ff" text-anchor="start">3</text>
<polygon points="1974.82,2364.55 1911.17,2436.77 1906.84,2429.46 1887.8,2476 1929.96,2448.58 1921.96,2445.7 1980.98,2369.65" fill="#0000ff"/>
<text x="2077" y="2449.2" font-family="'Liberation Sans', Arial, Helvetica, sans-serif" font-size="44" font-weight="normal" fill="#008080" text-anchor="start" textLength="83" lengthAdjust="spacingAndGlyphs">C-O</text>
<polygon points="2075.85,2454.43 2012.75,2491.2 2011.4,2483.75 1978.5,2521.4 2026.48,2507.34 2020.29,2503 2080.15,2461.17" fill="#008080"/>
</svg>
</body></html>
